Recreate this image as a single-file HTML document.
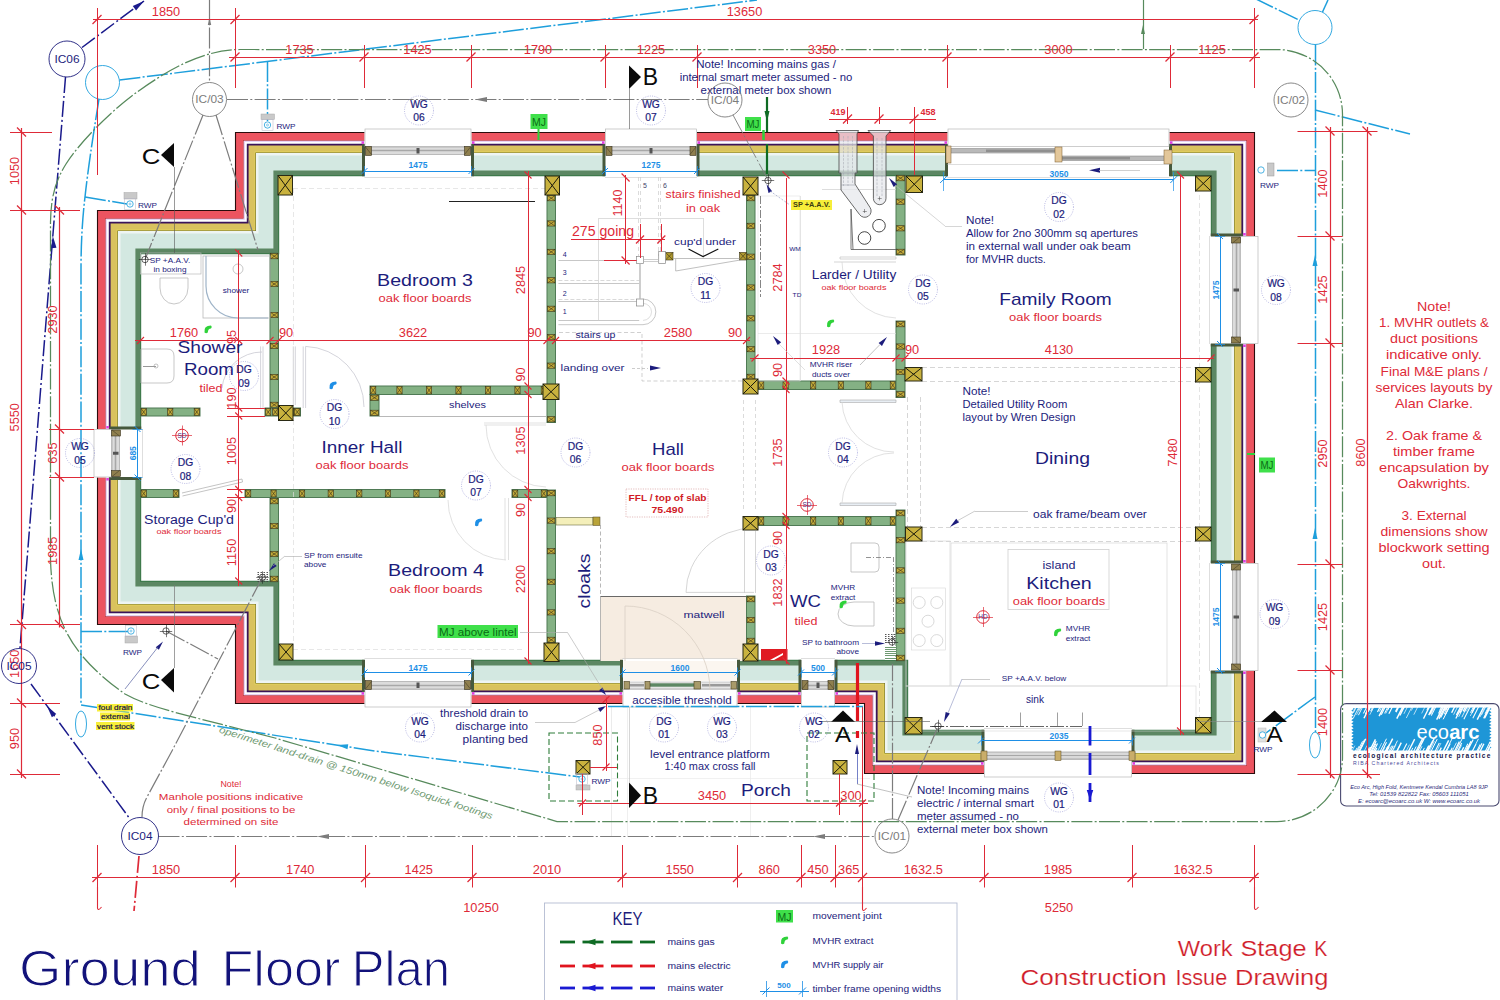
<!DOCTYPE html>
<html><head><meta charset="utf-8"><title>Ground Floor Plan</title>
<style>
html,body{margin:0;padding:0;background:#fff;}
body{width:1500px;height:1000px;overflow:hidden;}
svg{display:block;font-family:"Liberation Sans",sans-serif;}
</style></head><body>
<svg width="1500" height="1000" viewBox="0 0 1500 1000">
<rect width="1500" height="1000" fill="#ffffff"/>
<rect x="544.50" y="903.00" width="412.50" height="100.00" fill="#ffffff" stroke="#b4bcd2" stroke-width="0.90" />
<rect x="1340.6" y="703.6" width="158.4" height="102.4" rx="5.6" fill="#ffffff" stroke="#4a4a70" stroke-width="1.1"/>
<polygon points="1353.00,708.00 1490.00,707.50 1491.50,709.00 1489.20,710.60 1491.50,712.20 1489.20,713.80 1491.50,715.40 1489.20,717.00 1491.50,718.60 1489.20,720.20 1491.50,721.80 1489.20,723.40 1491.50,725.00 1489.20,726.60 1491.50,728.20 1489.20,729.80 1491.50,731.40 1489.20,733.00 1491.50,734.60 1489.20,736.20 1491.50,737.80 1489.20,739.40 1491.50,741.00 1489.20,742.60 1491.50,744.20 1489.20,745.80 1491.50,747.40 1489.20,749.00 1490.00,750.50 1353.00,750.50 1351.30,749.00 1353.60,747.40 1351.30,745.80 1353.60,744.20 1351.30,742.60 1353.60,741.00 1351.30,739.40 1353.60,737.80 1351.30,736.20 1353.60,734.60 1351.30,733.00 1353.60,731.40 1351.30,729.80 1353.60,728.20 1351.30,726.60 1353.60,725.00 1351.30,723.40 1353.60,721.80 1351.30,720.20 1353.60,718.60 1351.30,717.00 1353.60,715.40 1351.30,713.80 1353.60,712.20 1351.30,710.60 1353.60,709.00" fill="#1e96d7" stroke="none" stroke-width="1.00" />
<line x1="1398.54" y1="705.50" x2="1395.54" y2="711.43" stroke="#ffffff" stroke-width="1.19" />
<line x1="1363.34" y1="705.50" x2="1358.44" y2="715.20" stroke="#ffffff" stroke-width="0.93" />
<line x1="1361.32" y1="705.50" x2="1356.56" y2="714.92" stroke="#ffffff" stroke-width="0.63" />
<line x1="1413.91" y1="705.50" x2="1411.31" y2="710.63" stroke="#ffffff" stroke-width="0.68" />
<line x1="1412.63" y1="705.50" x2="1406.29" y2="718.04" stroke="#ffffff" stroke-width="0.71" />
<line x1="1384.45" y1="705.50" x2="1379.10" y2="716.09" stroke="#ffffff" stroke-width="1.45" />
<line x1="1433.99" y1="705.50" x2="1429.78" y2="713.83" stroke="#ffffff" stroke-width="1.48" />
<line x1="1359.72" y1="705.50" x2="1353.22" y2="718.35" stroke="#ffffff" stroke-width="0.86" />
<line x1="1373.40" y1="705.50" x2="1370.56" y2="711.10" stroke="#ffffff" stroke-width="0.88" />
<line x1="1467.46" y1="705.50" x2="1464.31" y2="711.72" stroke="#ffffff" stroke-width="1.12" />
<line x1="1442.65" y1="705.50" x2="1438.55" y2="713.60" stroke="#ffffff" stroke-width="1.09" />
<line x1="1361.99" y1="705.50" x2="1359.45" y2="710.53" stroke="#ffffff" stroke-width="0.79" />
<line x1="1448.46" y1="705.50" x2="1444.09" y2="714.14" stroke="#ffffff" stroke-width="0.88" />
<line x1="1435.18" y1="705.50" x2="1430.69" y2="714.39" stroke="#ffffff" stroke-width="0.87" />
<line x1="1464.41" y1="705.50" x2="1458.70" y2="716.79" stroke="#ffffff" stroke-width="0.82" />
<line x1="1433.62" y1="705.50" x2="1428.77" y2="715.09" stroke="#ffffff" stroke-width="1.39" />
<line x1="1455.32" y1="705.50" x2="1451.65" y2="712.77" stroke="#ffffff" stroke-width="1.48" />
<line x1="1369.73" y1="705.50" x2="1365.41" y2="714.04" stroke="#ffffff" stroke-width="1.28" />
<line x1="1374.48" y1="705.50" x2="1369.81" y2="714.74" stroke="#ffffff" stroke-width="0.64" />
<line x1="1446.75" y1="705.50" x2="1440.72" y2="717.44" stroke="#ffffff" stroke-width="1.12" />
<line x1="1475.77" y1="705.50" x2="1471.96" y2="713.02" stroke="#ffffff" stroke-width="1.23" />
<line x1="1436.41" y1="705.50" x2="1431.29" y2="715.63" stroke="#ffffff" stroke-width="1.01" />
<line x1="1470.80" y1="705.50" x2="1463.87" y2="719.20" stroke="#ffffff" stroke-width="1.03" />
<line x1="1446.18" y1="705.50" x2="1443.63" y2="710.54" stroke="#ffffff" stroke-width="1.23" />
<line x1="1443.80" y1="705.50" x2="1436.63" y2="719.67" stroke="#ffffff" stroke-width="1.34" />
<line x1="1393.04" y1="705.50" x2="1388.88" y2="713.73" stroke="#ffffff" stroke-width="1.20" />
<line x1="1356.36" y1="705.50" x2="1351.82" y2="714.47" stroke="#ffffff" stroke-width="0.75" />
<line x1="1369.59" y1="705.50" x2="1367.05" y2="710.53" stroke="#ffffff" stroke-width="1.29" />
<line x1="1371.31" y1="705.50" x2="1367.83" y2="712.37" stroke="#ffffff" stroke-width="0.95" />
<line x1="1475.20" y1="705.50" x2="1472.55" y2="710.74" stroke="#ffffff" stroke-width="1.00" />
<line x1="1430.12" y1="705.50" x2="1423.50" y2="718.60" stroke="#ffffff" stroke-width="1.34" />
<line x1="1474.16" y1="705.50" x2="1470.53" y2="712.68" stroke="#ffffff" stroke-width="0.97" />
<line x1="1403.43" y1="705.50" x2="1396.80" y2="718.61" stroke="#ffffff" stroke-width="1.46" />
<line x1="1374.33" y1="705.50" x2="1371.21" y2="711.68" stroke="#ffffff" stroke-width="0.81" />
<line x1="1385.87" y1="705.50" x2="1381.22" y2="714.70" stroke="#ffffff" stroke-width="1.13" />
<line x1="1389.98" y1="705.50" x2="1387.71" y2="709.99" stroke="#ffffff" stroke-width="0.98" />
<line x1="1404.90" y1="705.50" x2="1399.84" y2="715.49" stroke="#ffffff" stroke-width="1.46" />
<line x1="1449.87" y1="705.50" x2="1445.07" y2="715.00" stroke="#ffffff" stroke-width="1.16" />
<line x1="1447.87" y1="705.50" x2="1445.35" y2="710.48" stroke="#ffffff" stroke-width="1.41" />
<line x1="1462.40" y1="705.50" x2="1455.82" y2="718.51" stroke="#ffffff" stroke-width="1.32" />
<line x1="1408.13" y1="705.50" x2="1403.91" y2="713.86" stroke="#ffffff" stroke-width="0.69" />
<line x1="1442.00" y1="705.50" x2="1439.44" y2="710.56" stroke="#ffffff" stroke-width="0.66" />
<line x1="1382.43" y1="705.50" x2="1379.37" y2="711.54" stroke="#ffffff" stroke-width="0.91" />
<line x1="1360.56" y1="705.50" x2="1358.31" y2="709.95" stroke="#ffffff" stroke-width="0.74" />
<line x1="1367.41" y1="705.50" x2="1363.36" y2="713.51" stroke="#ffffff" stroke-width="0.62" />
<line x1="1475.61" y1="705.50" x2="1470.32" y2="715.96" stroke="#ffffff" stroke-width="0.73" />
<line x1="1388.52" y1="705.50" x2="1384.55" y2="713.35" stroke="#ffffff" stroke-width="0.93" />
<line x1="1370.40" y1="705.50" x2="1363.95" y2="718.26" stroke="#ffffff" stroke-width="1.49" />
<line x1="1418.44" y1="705.50" x2="1413.79" y2="714.69" stroke="#ffffff" stroke-width="0.68" />
<line x1="1367.51" y1="705.50" x2="1363.56" y2="713.30" stroke="#ffffff" stroke-width="0.84" />
<line x1="1469.24" y1="705.50" x2="1466.19" y2="711.53" stroke="#ffffff" stroke-width="0.62" />
<line x1="1486.34" y1="705.50" x2="1481.47" y2="715.12" stroke="#ffffff" stroke-width="0.73" />
<line x1="1429.24" y1="705.50" x2="1426.86" y2="710.21" stroke="#ffffff" stroke-width="1.08" />
<line x1="1490.19" y1="705.50" x2="1483.67" y2="718.40" stroke="#ffffff" stroke-width="1.23" />
<line x1="1389.76" y1="705.50" x2="1385.69" y2="713.54" stroke="#ffffff" stroke-width="0.75" />
<line x1="1461.27" y1="705.50" x2="1456.38" y2="715.16" stroke="#ffffff" stroke-width="1.30" />
<line x1="1399.35" y1="705.50" x2="1396.00" y2="712.13" stroke="#ffffff" stroke-width="1.33" />
<line x1="1491.09" y1="705.50" x2="1484.62" y2="718.30" stroke="#ffffff" stroke-width="1.33" />
<line x1="1467.77" y1="705.50" x2="1461.85" y2="717.19" stroke="#ffffff" stroke-width="0.80" />
<line x1="1425.67" y1="705.50" x2="1421.66" y2="713.43" stroke="#ffffff" stroke-width="0.63" />
<line x1="1357.11" y1="705.50" x2="1353.48" y2="712.69" stroke="#ffffff" stroke-width="0.83" />
<line x1="1450.15" y1="705.50" x2="1443.17" y2="719.31" stroke="#ffffff" stroke-width="1.00" />
<line x1="1484.38" y1="705.50" x2="1477.24" y2="719.62" stroke="#ffffff" stroke-width="1.46" />
<line x1="1404.25" y1="705.50" x2="1400.91" y2="712.11" stroke="#ffffff" stroke-width="0.80" />
<line x1="1380.74" y1="705.50" x2="1377.48" y2="711.95" stroke="#ffffff" stroke-width="1.16" />
<line x1="1479.24" y1="705.50" x2="1472.83" y2="718.18" stroke="#ffffff" stroke-width="1.03" />
<line x1="1444.62" y1="705.50" x2="1438.41" y2="717.78" stroke="#ffffff" stroke-width="0.68" />
<line x1="1445.68" y1="705.50" x2="1438.93" y2="718.86" stroke="#ffffff" stroke-width="1.30" />
<line x1="1458.22" y1="705.50" x2="1453.60" y2="714.63" stroke="#ffffff" stroke-width="0.76" />
<line x1="1463.68" y1="705.50" x2="1459.78" y2="713.21" stroke="#ffffff" stroke-width="1.32" />
<line x1="1489.23" y1="705.50" x2="1485.02" y2="713.83" stroke="#ffffff" stroke-width="0.96" />
<line x1="1485.75" y1="705.50" x2="1479.91" y2="717.05" stroke="#ffffff" stroke-width="0.75" />
<line x1="1370.99" y1="705.50" x2="1367.99" y2="711.43" stroke="#ffffff" stroke-width="1.41" />
<line x1="1466.11" y1="705.50" x2="1463.14" y2="711.38" stroke="#ffffff" stroke-width="1.34" />
<line x1="1490.44" y1="705.50" x2="1484.94" y2="716.38" stroke="#ffffff" stroke-width="0.92" />
<line x1="1425.61" y1="752.50" x2="1428.51" y2="746.77" stroke="#ffffff" stroke-width="0.61" />
<line x1="1484.72" y1="752.50" x2="1490.19" y2="741.69" stroke="#ffffff" stroke-width="1.07" />
<line x1="1479.51" y1="752.50" x2="1483.90" y2="743.80" stroke="#ffffff" stroke-width="1.38" />
<line x1="1464.46" y1="752.50" x2="1467.76" y2="745.98" stroke="#ffffff" stroke-width="0.83" />
<line x1="1389.82" y1="752.50" x2="1393.26" y2="745.70" stroke="#ffffff" stroke-width="1.13" />
<line x1="1385.11" y1="752.50" x2="1389.44" y2="743.95" stroke="#ffffff" stroke-width="0.72" />
<line x1="1476.20" y1="752.50" x2="1480.20" y2="744.59" stroke="#ffffff" stroke-width="1.01" />
<line x1="1430.47" y1="752.50" x2="1437.20" y2="739.20" stroke="#ffffff" stroke-width="0.98" />
<line x1="1477.28" y1="752.50" x2="1482.01" y2="743.14" stroke="#ffffff" stroke-width="1.08" />
<line x1="1422.09" y1="752.50" x2="1424.43" y2="747.87" stroke="#ffffff" stroke-width="1.00" />
<line x1="1374.44" y1="752.50" x2="1376.70" y2="748.01" stroke="#ffffff" stroke-width="1.32" />
<line x1="1372.93" y1="752.50" x2="1377.52" y2="743.41" stroke="#ffffff" stroke-width="1.25" />
<line x1="1426.71" y1="752.50" x2="1430.57" y2="744.86" stroke="#ffffff" stroke-width="1.07" />
<line x1="1426.56" y1="752.50" x2="1432.69" y2="740.37" stroke="#ffffff" stroke-width="0.70" />
<line x1="1427.24" y1="752.50" x2="1430.72" y2="745.62" stroke="#ffffff" stroke-width="0.85" />
<line x1="1456.92" y1="752.50" x2="1461.68" y2="743.08" stroke="#ffffff" stroke-width="1.11" />
<line x1="1455.20" y1="752.50" x2="1461.97" y2="739.12" stroke="#ffffff" stroke-width="1.00" />
<line x1="1434.55" y1="752.50" x2="1439.31" y2="743.10" stroke="#ffffff" stroke-width="1.06" />
<line x1="1445.78" y1="752.50" x2="1450.27" y2="743.62" stroke="#ffffff" stroke-width="1.08" />
<line x1="1415.73" y1="752.50" x2="1422.64" y2="738.83" stroke="#ffffff" stroke-width="1.23" />
<line x1="1471.51" y1="752.50" x2="1478.43" y2="738.83" stroke="#ffffff" stroke-width="0.83" />
<line x1="1427.13" y1="752.50" x2="1434.05" y2="738.82" stroke="#ffffff" stroke-width="1.36" />
<line x1="1368.00" y1="752.50" x2="1370.85" y2="746.86" stroke="#ffffff" stroke-width="1.00" />
<line x1="1358.96" y1="752.50" x2="1362.40" y2="745.69" stroke="#ffffff" stroke-width="0.67" />
<line x1="1442.53" y1="752.50" x2="1448.66" y2="740.38" stroke="#ffffff" stroke-width="1.41" />
<line x1="1370.42" y1="752.50" x2="1376.22" y2="741.04" stroke="#ffffff" stroke-width="1.19" />
<line x1="1368.82" y1="752.50" x2="1375.44" y2="739.41" stroke="#ffffff" stroke-width="1.47" />
<line x1="1379.54" y1="752.50" x2="1386.51" y2="738.72" stroke="#ffffff" stroke-width="0.96" />
<line x1="1417.02" y1="752.50" x2="1424.17" y2="738.36" stroke="#ffffff" stroke-width="1.35" />
<line x1="1371.41" y1="752.50" x2="1375.79" y2="743.83" stroke="#ffffff" stroke-width="1.06" />
<line x1="1396.28" y1="752.50" x2="1399.50" y2="746.13" stroke="#ffffff" stroke-width="0.89" />
<line x1="1449.90" y1="752.50" x2="1452.25" y2="747.86" stroke="#ffffff" stroke-width="1.10" />
<line x1="1410.46" y1="752.50" x2="1412.80" y2="747.87" stroke="#ffffff" stroke-width="0.90" />
<line x1="1436.15" y1="752.50" x2="1440.94" y2="743.03" stroke="#ffffff" stroke-width="0.66" />
<line x1="1486.71" y1="752.50" x2="1492.86" y2="740.33" stroke="#ffffff" stroke-width="1.47" />
<line x1="1363.47" y1="752.50" x2="1367.03" y2="745.45" stroke="#ffffff" stroke-width="0.64" />
<line x1="1457.86" y1="752.50" x2="1461.45" y2="745.40" stroke="#ffffff" stroke-width="0.72" />
<line x1="1407.92" y1="752.50" x2="1414.68" y2="739.13" stroke="#ffffff" stroke-width="1.34" />
<line x1="1385.01" y1="752.50" x2="1387.99" y2="746.59" stroke="#ffffff" stroke-width="1.43" />
<line x1="1428.68" y1="752.50" x2="1434.40" y2="741.19" stroke="#ffffff" stroke-width="0.68" />
<line x1="1356.85" y1="752.50" x2="1362.51" y2="741.31" stroke="#ffffff" stroke-width="0.98" />
<line x1="1358.94" y1="752.50" x2="1365.83" y2="738.86" stroke="#ffffff" stroke-width="1.17" />
<line x1="1461.03" y1="752.50" x2="1463.69" y2="747.23" stroke="#ffffff" stroke-width="1.37" />
<line x1="1358.13" y1="752.50" x2="1364.65" y2="739.60" stroke="#ffffff" stroke-width="1.01" />
<line x1="1396.28" y1="752.50" x2="1401.27" y2="742.64" stroke="#ffffff" stroke-width="1.43" />
<line x1="1386.30" y1="752.50" x2="1389.19" y2="746.78" stroke="#ffffff" stroke-width="1.07" />
<line x1="1382.18" y1="752.50" x2="1384.97" y2="746.98" stroke="#ffffff" stroke-width="0.75" />
<line x1="1355.85" y1="752.50" x2="1359.10" y2="746.07" stroke="#ffffff" stroke-width="0.88" />
<line x1="1391.50" y1="752.50" x2="1397.51" y2="740.61" stroke="#ffffff" stroke-width="0.86" />
<line x1="1418.81" y1="752.50" x2="1421.94" y2="746.31" stroke="#ffffff" stroke-width="0.91" />
<line x1="1351.34" y1="752.50" x2="1354.83" y2="745.60" stroke="#ffffff" stroke-width="0.61" />
<line x1="1451.43" y1="752.50" x2="1456.41" y2="742.66" stroke="#ffffff" stroke-width="0.77" />
<line x1="1415.27" y1="752.50" x2="1422.14" y2="738.90" stroke="#ffffff" stroke-width="0.70" />
<line x1="1463.45" y1="752.50" x2="1467.84" y2="743.82" stroke="#ffffff" stroke-width="1.05" />
<line x1="1465.65" y1="752.50" x2="1469.84" y2="744.20" stroke="#ffffff" stroke-width="1.06" />
<line x1="1445.08" y1="752.50" x2="1452.20" y2="738.43" stroke="#ffffff" stroke-width="0.91" />
<line x1="1465.32" y1="752.50" x2="1471.07" y2="741.13" stroke="#ffffff" stroke-width="1.17" />
<line x1="1405.46" y1="752.50" x2="1409.43" y2="744.65" stroke="#ffffff" stroke-width="0.65" />
<line x1="1366.97" y1="752.50" x2="1369.57" y2="747.36" stroke="#ffffff" stroke-width="1.27" />
<line x1="1384.58" y1="752.50" x2="1387.64" y2="746.45" stroke="#ffffff" stroke-width="0.68" />
<line x1="1466.58" y1="752.50" x2="1473.14" y2="739.53" stroke="#ffffff" stroke-width="1.20" />
<line x1="1388.27" y1="752.50" x2="1391.72" y2="745.68" stroke="#ffffff" stroke-width="0.86" />
<line x1="1413.12" y1="752.50" x2="1416.15" y2="746.51" stroke="#ffffff" stroke-width="1.00" />
<line x1="1385.65" y1="752.50" x2="1392.66" y2="738.63" stroke="#ffffff" stroke-width="1.48" />
<line x1="1425.39" y1="752.50" x2="1428.85" y2="745.66" stroke="#ffffff" stroke-width="1.47" />
<line x1="1392.14" y1="752.50" x2="1396.15" y2="744.56" stroke="#ffffff" stroke-width="0.60" />
<line x1="1402.23" y1="752.50" x2="1406.83" y2="743.40" stroke="#ffffff" stroke-width="1.05" />
<line x1="1376.94" y1="752.50" x2="1381.69" y2="743.11" stroke="#ffffff" stroke-width="0.60" />
<line x1="1385.78" y1="752.50" x2="1388.48" y2="747.17" stroke="#ffffff" stroke-width="0.96" />
<line x1="1354.63" y1="752.50" x2="1356.99" y2="747.83" stroke="#ffffff" stroke-width="0.87" />
<line x1="1381.39" y1="752.50" x2="1386.54" y2="742.32" stroke="#ffffff" stroke-width="1.08" />
<line x1="1453.88" y1="752.50" x2="1459.38" y2="741.61" stroke="#ffffff" stroke-width="1.24" />
<line x1="1471.87" y1="752.50" x2="1476.05" y2="744.24" stroke="#ffffff" stroke-width="0.89" />
<line x1="1486.66" y1="752.50" x2="1489.65" y2="746.59" stroke="#ffffff" stroke-width="1.25" />
<line x1="1438.85" y1="752.50" x2="1441.32" y2="747.62" stroke="#ffffff" stroke-width="1.35" />
<text transform="translate(1479.30 731.50) scale(0.980 1)" y="7.38" font-size="20.50" fill="#ffffff" text-anchor="end" font-weight="bold" >arc</text>
<text transform="translate(1448.84 731.50) scale(0.980 1)" y="7.38" font-size="20.50" fill="#ffffff" text-anchor="end" >eco</text>
<text transform="translate(1353.00 755.70)" y="2.38" font-size="6.60" fill="#15154a" text-anchor="start" font-weight="bold" letter-spacing="1.24">ecological architecture practice</text>
<text transform="translate(1353.00 763.30)" y="1.87" font-size="5.20" fill="#4a4a9a" text-anchor="start" letter-spacing="1.07">RIBA Chartered Architects</text>
<text transform="translate(1419.00 786.50) scale(0.931 1)" y="2.16" font-size="6.00" fill="#2a2a7a" text-anchor="middle" font-style="italic" >Eco Arc, High Fold, Kentmere Kendal Cumbria LA8 9JP</text>
<text transform="translate(1419.00 793.70) scale(0.979 1)" y="2.16" font-size="6.00" fill="#2a2a7a" text-anchor="middle" font-style="italic" >Tel: 01539 822822  Fax: 05603 111051</text>
<text transform="translate(1419.00 801.00) scale(0.981 1)" y="2.16" font-size="6.00" fill="#2a2a7a" text-anchor="middle" font-style="italic" >E: ecoarc@ecoarc.co.uk  W: www.ecoarc.co.uk</text>
<polygon points="235.50,132.50 1254.50,132.50 1254.50,773.50 864.50,773.50 864.50,703.50 235.50,703.50 235.50,624.50 97.50,624.50 97.50,210.50 235.50,210.50" fill="#ec5460" stroke="#2a0c0c" stroke-width="1.10" />
<polygon points="243.00,140.00 1247.00,140.00 1247.00,766.00 872.00,766.00 872.00,696.00 243.00,696.00 243.00,617.00 105.00,617.00 105.00,218.00 243.00,218.00" fill="#b8323e" stroke="none" stroke-width="1.00" />
<polygon points="243.70,140.70 1246.30,140.70 1246.30,765.30 872.70,765.30 872.70,695.30 243.70,695.30 243.70,616.30 105.70,616.30 105.70,218.70 243.70,218.70" fill="#ffffff" stroke="none" stroke-width="1.00" />
<polygon points="244.40,141.40 1245.60,141.40 1245.60,764.60 873.40,764.60 873.40,694.60 244.40,694.60 244.40,615.60 106.40,615.60 106.40,219.40 244.40,219.40" fill="none" stroke="#d9b8ee" stroke-width="0.70" />
<polygon points="246.80,143.80 1243.20,143.80 1243.20,762.20 875.80,762.20 875.80,692.20 246.80,692.20 246.80,613.20 108.80,613.20 108.80,221.80 246.80,221.80" fill="#3a145a" stroke="none" stroke-width="1.00" />
<polygon points="248.60,145.60 1241.40,145.60 1241.40,760.40 877.60,760.40 877.60,690.40 248.60,690.40 248.60,611.40 110.60,611.40 110.60,223.60 248.60,223.60" fill="#d9c25e" stroke="none" stroke-width="1.00" />
<polygon points="254.60,151.60 1235.40,151.60 1235.40,754.40 883.60,754.40 883.60,684.40 254.60,684.40 254.60,605.40 116.60,605.40 116.60,229.60 254.60,229.60" fill="#e6d65a" stroke="none" stroke-width="1.00" />
<polygon points="255.40,152.40 1234.60,152.40 1234.60,753.60 884.40,753.60 884.40,683.60 255.40,683.60 255.40,604.60 117.40,604.60 117.40,230.40 255.40,230.40" fill="#6e6a2c" stroke="none" stroke-width="1.00" />
<polygon points="256.00,153.00 1234.00,153.00 1234.00,753.00 885.00,753.00 885.00,683.00 256.00,683.00 256.00,604.00 118.00,604.00 118.00,231.00 256.00,231.00" fill="#eef5f3" stroke="none" stroke-width="1.00" />
<polygon points="258.50,155.50 1231.50,155.50 1231.50,750.50 887.50,750.50 887.50,680.50 258.50,680.50 258.50,601.50 120.50,601.50 120.50,233.50 258.50,233.50" fill="#d3e8e1" stroke="none" stroke-width="1.00" />
<polygon points="273.40,170.40 1216.60,170.40 1216.60,735.60 902.40,735.60 902.40,665.60 273.40,665.60 273.40,586.60 135.40,586.60 135.40,248.40 273.40,248.40" fill="#5c8763" stroke="none" stroke-width="1.00" />
<polygon points="278.00,175.00 1212.00,175.00 1212.00,731.00 907.00,731.00 907.00,661.00 278.00,661.00 278.00,582.00 140.00,582.00 140.00,253.00 278.00,253.00" fill="#3f7a4c" stroke="none" stroke-width="1.00" />
<polygon points="279.20,176.20 1210.80,176.20 1210.80,729.80 908.20,729.80 908.20,659.80 279.20,659.80 279.20,580.80 141.20,580.80 141.20,254.20 279.20,254.20" fill="#ffffff" stroke="none" stroke-width="1.00" />
<rect x="600.40" y="596.40" width="145.60" height="64.60" fill="#f6ece1" stroke="none" stroke-width="0.60" />
<line x1="600.40" y1="596.50" x2="746.00" y2="596.50" stroke="#444" stroke-width="0.80" />
<line x1="600.50" y1="596.40" x2="600.50" y2="661.00" stroke="#999" stroke-width="0.70" />
<rect x="364.50" y="129.00" width="107.00" height="48.20" fill="#ffffff" stroke="none" stroke-width="0.60" />
<rect x="362.00" y="144.00" width="3.00" height="32.20" fill="#46583c" stroke="none" stroke-width="0.60" />
<rect x="361.50" y="141.30" width="2.50" height="2.60" fill="#e040e0" stroke="none" stroke-width="0.60" />
<rect x="471.00" y="144.00" width="3.00" height="32.20" fill="#46583c" stroke="none" stroke-width="0.60" />
<rect x="472.00" y="141.30" width="2.50" height="2.60" fill="#e040e0" stroke="none" stroke-width="0.60" />
<rect x="365.00" y="129.00" width="106.00" height="17.50" fill="#ffffff" stroke="#b8b8b8" stroke-width="0.70" />
<rect x="365.50" y="147.00" width="105.00" height="7.50" fill="#dcdcdc" stroke="#9a9a9a" stroke-width="0.60" />
<line x1="371.50" y1="150.50" x2="464.50" y2="150.50" stroke="#a8a8a8" stroke-width="1.60" />
<rect x="416.50" y="148.00" width="3.00" height="5.50" fill="#555" stroke="none" stroke-width="0.60" />
<rect x="365.50" y="146.50" width="6.00" height="9.00" fill="#8f7f4e" stroke="#3a3420" stroke-width="0.60" />
<line x1="365.50" y1="147.00" x2="371.50" y2="154.50" stroke="#3a3420" stroke-width="0.50" />
<rect x="464.50" y="146.50" width="6.00" height="9.00" fill="#8f7f4e" stroke="#3a3420" stroke-width="0.60" />
<line x1="470.50" y1="147.00" x2="464.50" y2="154.50" stroke="#3a3420" stroke-width="0.50" />
<line x1="364.50" y1="177.50" x2="471.50" y2="177.50" stroke="#c8c8c8" stroke-width="0.60" />
<line x1="364.50" y1="171.50" x2="471.50" y2="171.50" stroke="#1e8fe6" stroke-width="1.00" />
<line x1="361.50" y1="174.00" x2="367.50" y2="168.00" stroke="#1e8fe6" stroke-width="1.00" />
<line x1="364.50" y1="166.00" x2="364.50" y2="176.00" stroke="#1e8fe6" stroke-width="0.70" />
<line x1="468.50" y1="174.00" x2="474.50" y2="168.00" stroke="#1e8fe6" stroke-width="1.00" />
<line x1="471.50" y1="166.00" x2="471.50" y2="176.00" stroke="#1e8fe6" stroke-width="0.70" />
<text transform="translate(418.00 164.50)" y="3.06" font-size="8.50" fill="#1e8fe6" text-anchor="middle" font-weight="bold" >1475</text>
<rect x="605.00" y="129.00" width="92.00" height="48.20" fill="#ffffff" stroke="none" stroke-width="0.60" />
<rect x="602.50" y="144.00" width="3.00" height="32.20" fill="#46583c" stroke="none" stroke-width="0.60" />
<rect x="602.00" y="141.30" width="2.50" height="2.60" fill="#e040e0" stroke="none" stroke-width="0.60" />
<rect x="696.50" y="144.00" width="3.00" height="32.20" fill="#46583c" stroke="none" stroke-width="0.60" />
<rect x="697.50" y="141.30" width="2.50" height="2.60" fill="#e040e0" stroke="none" stroke-width="0.60" />
<rect x="605.50" y="129.00" width="91.00" height="17.50" fill="#ffffff" stroke="#b8b8b8" stroke-width="0.70" />
<rect x="606.00" y="147.00" width="90.00" height="7.50" fill="#dcdcdc" stroke="#9a9a9a" stroke-width="0.60" />
<line x1="612.00" y1="150.50" x2="690.00" y2="150.50" stroke="#a8a8a8" stroke-width="1.60" />
<rect x="649.50" y="148.00" width="3.00" height="5.50" fill="#555" stroke="none" stroke-width="0.60" />
<rect x="606.00" y="146.50" width="6.00" height="9.00" fill="#8f7f4e" stroke="#3a3420" stroke-width="0.60" />
<line x1="606.00" y1="147.00" x2="612.00" y2="154.50" stroke="#3a3420" stroke-width="0.50" />
<rect x="690.00" y="146.50" width="6.00" height="9.00" fill="#8f7f4e" stroke="#3a3420" stroke-width="0.60" />
<line x1="696.00" y1="147.00" x2="690.00" y2="154.50" stroke="#3a3420" stroke-width="0.50" />
<line x1="605.00" y1="177.50" x2="697.00" y2="177.50" stroke="#c8c8c8" stroke-width="0.60" />
<line x1="605.00" y1="171.50" x2="697.00" y2="171.50" stroke="#1e8fe6" stroke-width="1.00" />
<line x1="602.00" y1="174.00" x2="608.00" y2="168.00" stroke="#1e8fe6" stroke-width="1.00" />
<line x1="605.50" y1="166.00" x2="605.50" y2="176.00" stroke="#1e8fe6" stroke-width="0.70" />
<line x1="694.00" y1="174.00" x2="700.00" y2="168.00" stroke="#1e8fe6" stroke-width="1.00" />
<line x1="697.50" y1="166.00" x2="697.50" y2="176.00" stroke="#1e8fe6" stroke-width="0.70" />
<text transform="translate(651.00 164.50)" y="3.06" font-size="8.50" fill="#1e8fe6" text-anchor="middle" font-weight="bold" >1275</text>
<rect x="947.50" y="129.00" width="222.00" height="48.20" fill="#ffffff" stroke="none" stroke-width="0.60" />
<rect x="945.00" y="144.00" width="3.00" height="32.20" fill="#46583c" stroke="none" stroke-width="0.60" />
<rect x="944.50" y="141.30" width="2.50" height="2.60" fill="#e040e0" stroke="none" stroke-width="0.60" />
<rect x="1169.00" y="144.00" width="3.00" height="32.20" fill="#46583c" stroke="none" stroke-width="0.60" />
<rect x="1170.00" y="141.30" width="2.50" height="2.60" fill="#e040e0" stroke="none" stroke-width="0.60" />
<rect x="948.00" y="129.00" width="221.00" height="17.50" fill="#ffffff" stroke="#b8b8b8" stroke-width="0.70" />
<line x1="947.50" y1="177.50" x2="1169.50" y2="177.50" stroke="#c8c8c8" stroke-width="0.60" />
<rect x="364.50" y="658.80" width="107.00" height="48.20" fill="#ffffff" stroke="none" stroke-width="0.60" />
<rect x="362.00" y="659.80" width="3.00" height="32.20" fill="#46583c" stroke="none" stroke-width="0.60" />
<rect x="361.50" y="692.10" width="2.50" height="2.60" fill="#e040e0" stroke="none" stroke-width="0.60" />
<rect x="471.00" y="659.80" width="3.00" height="32.20" fill="#46583c" stroke="none" stroke-width="0.60" />
<rect x="472.00" y="692.10" width="2.50" height="2.60" fill="#e040e0" stroke="none" stroke-width="0.60" />
<rect x="365.00" y="689.50" width="106.00" height="17.50" fill="#ffffff" stroke="#b8b8b8" stroke-width="0.70" />
<rect x="365.50" y="681.50" width="105.00" height="7.50" fill="#dcdcdc" stroke="#9a9a9a" stroke-width="0.60" />
<line x1="371.50" y1="685.50" x2="464.50" y2="685.50" stroke="#a8a8a8" stroke-width="1.60" />
<rect x="416.50" y="682.50" width="3.00" height="5.50" fill="#555" stroke="none" stroke-width="0.60" />
<rect x="365.50" y="680.50" width="6.00" height="9.00" fill="#8f7f4e" stroke="#3a3420" stroke-width="0.60" />
<line x1="365.50" y1="689.00" x2="371.50" y2="681.50" stroke="#3a3420" stroke-width="0.50" />
<rect x="464.50" y="680.50" width="6.00" height="9.00" fill="#8f7f4e" stroke="#3a3420" stroke-width="0.60" />
<line x1="470.50" y1="689.00" x2="464.50" y2="681.50" stroke="#3a3420" stroke-width="0.50" />
<line x1="364.50" y1="658.50" x2="471.50" y2="658.50" stroke="#c8c8c8" stroke-width="0.60" />
<line x1="364.50" y1="672.50" x2="471.50" y2="672.50" stroke="#1e8fe6" stroke-width="1.00" />
<line x1="361.50" y1="675.50" x2="367.50" y2="669.50" stroke="#1e8fe6" stroke-width="1.00" />
<line x1="364.50" y1="667.50" x2="364.50" y2="677.50" stroke="#1e8fe6" stroke-width="0.70" />
<line x1="468.50" y1="675.50" x2="474.50" y2="669.50" stroke="#1e8fe6" stroke-width="1.00" />
<line x1="471.50" y1="667.50" x2="471.50" y2="677.50" stroke="#1e8fe6" stroke-width="0.70" />
<text transform="translate(418.00 668.00)" y="3.06" font-size="8.50" fill="#1e8fe6" text-anchor="middle" font-weight="bold" >1475</text>
<rect x="622.50" y="658.80" width="115.00" height="48.20" fill="#ffffff" stroke="none" stroke-width="0.60" />
<rect x="620.00" y="659.80" width="3.00" height="32.20" fill="#46583c" stroke="none" stroke-width="0.60" />
<rect x="619.50" y="692.10" width="2.50" height="2.60" fill="#e040e0" stroke="none" stroke-width="0.60" />
<rect x="737.00" y="659.80" width="3.00" height="32.20" fill="#46583c" stroke="none" stroke-width="0.60" />
<rect x="738.00" y="692.10" width="2.50" height="2.60" fill="#e040e0" stroke="none" stroke-width="0.60" />
<rect x="623.00" y="689.50" width="114.00" height="17.50" fill="#ffffff" stroke="#b8b8b8" stroke-width="0.70" />
<line x1="622.50" y1="658.50" x2="737.50" y2="658.50" stroke="#c8c8c8" stroke-width="0.60" />
<rect x="801.00" y="658.80" width="34.00" height="48.20" fill="#ffffff" stroke="none" stroke-width="0.60" />
<rect x="798.50" y="659.80" width="3.00" height="32.20" fill="#46583c" stroke="none" stroke-width="0.60" />
<rect x="798.00" y="692.10" width="2.50" height="2.60" fill="#e040e0" stroke="none" stroke-width="0.60" />
<rect x="834.50" y="659.80" width="3.00" height="32.20" fill="#46583c" stroke="none" stroke-width="0.60" />
<rect x="835.50" y="692.10" width="2.50" height="2.60" fill="#e040e0" stroke="none" stroke-width="0.60" />
<rect x="801.50" y="689.50" width="33.00" height="17.50" fill="#ffffff" stroke="#b8b8b8" stroke-width="0.70" />
<rect x="802.00" y="681.50" width="32.00" height="7.50" fill="#dcdcdc" stroke="#9a9a9a" stroke-width="0.60" />
<line x1="808.00" y1="685.50" x2="828.00" y2="685.50" stroke="#a8a8a8" stroke-width="1.60" />
<rect x="816.50" y="682.50" width="3.00" height="5.50" fill="#555" stroke="none" stroke-width="0.60" />
<rect x="802.00" y="680.50" width="6.00" height="9.00" fill="#8f7f4e" stroke="#3a3420" stroke-width="0.60" />
<line x1="802.00" y1="689.00" x2="808.00" y2="681.50" stroke="#3a3420" stroke-width="0.50" />
<rect x="828.00" y="680.50" width="6.00" height="9.00" fill="#8f7f4e" stroke="#3a3420" stroke-width="0.60" />
<line x1="834.00" y1="689.00" x2="828.00" y2="681.50" stroke="#3a3420" stroke-width="0.50" />
<line x1="801.00" y1="658.50" x2="835.00" y2="658.50" stroke="#c8c8c8" stroke-width="0.60" />
<line x1="801.00" y1="672.50" x2="835.00" y2="672.50" stroke="#1e8fe6" stroke-width="1.00" />
<line x1="798.00" y1="675.50" x2="804.00" y2="669.50" stroke="#1e8fe6" stroke-width="1.00" />
<line x1="801.50" y1="667.50" x2="801.50" y2="677.50" stroke="#1e8fe6" stroke-width="0.70" />
<line x1="832.00" y1="675.50" x2="838.00" y2="669.50" stroke="#1e8fe6" stroke-width="1.00" />
<line x1="835.50" y1="667.50" x2="835.50" y2="677.50" stroke="#1e8fe6" stroke-width="0.70" />
<text transform="translate(818.00 668.00)" y="3.06" font-size="8.50" fill="#1e8fe6" text-anchor="middle" font-weight="bold" >500</text>
<rect x="984.00" y="728.80" width="148.00" height="48.20" fill="#ffffff" stroke="none" stroke-width="0.60" />
<rect x="981.50" y="729.80" width="3.00" height="32.20" fill="#46583c" stroke="none" stroke-width="0.60" />
<rect x="981.00" y="762.10" width="2.50" height="2.60" fill="#e040e0" stroke="none" stroke-width="0.60" />
<rect x="1131.50" y="729.80" width="3.00" height="32.20" fill="#46583c" stroke="none" stroke-width="0.60" />
<rect x="1132.50" y="762.10" width="2.50" height="2.60" fill="#e040e0" stroke="none" stroke-width="0.60" />
<rect x="984.50" y="759.50" width="147.00" height="17.50" fill="#ffffff" stroke="#b8b8b8" stroke-width="0.70" />
<line x1="984.00" y1="728.50" x2="1132.00" y2="728.50" stroke="#c8c8c8" stroke-width="0.60" />
<rect x="1209.80" y="236.00" width="48.20" height="108.00" fill="#ffffff" stroke="none" stroke-width="0.60" />
<rect x="1210.80" y="233.50" width="32.20" height="3.00" fill="#46583c" stroke="none" stroke-width="0.60" />
<rect x="1243.10" y="233.00" width="2.60" height="2.50" fill="#e040e0" stroke="none" stroke-width="0.60" />
<rect x="1210.80" y="343.50" width="32.20" height="3.00" fill="#46583c" stroke="none" stroke-width="0.60" />
<rect x="1243.10" y="344.50" width="2.60" height="2.50" fill="#e040e0" stroke="none" stroke-width="0.60" />
<rect x="1240.50" y="236.50" width="17.50" height="107.00" fill="#ffffff" stroke="#b8b8b8" stroke-width="0.70" />
<rect x="1232.50" y="237.00" width="7.50" height="106.00" fill="#dcdcdc" stroke="#9a9a9a" stroke-width="0.60" />
<line x1="1236.50" y1="243.00" x2="1236.50" y2="337.00" stroke="#a8a8a8" stroke-width="1.60" />
<rect x="1233.50" y="288.50" width="5.50" height="3.00" fill="#555" stroke="none" stroke-width="0.60" />
<rect x="1231.50" y="237.00" width="9.00" height="6.00" fill="#8f7f4e" stroke="#3a3420" stroke-width="0.60" />
<line x1="1240.00" y1="237.00" x2="1232.50" y2="243.00" stroke="#3a3420" stroke-width="0.50" />
<rect x="1231.50" y="337.00" width="9.00" height="6.00" fill="#8f7f4e" stroke="#3a3420" stroke-width="0.60" />
<line x1="1240.00" y1="343.00" x2="1232.50" y2="337.00" stroke="#3a3420" stroke-width="0.50" />
<line x1="1209.50" y1="236.00" x2="1209.50" y2="344.00" stroke="#c8c8c8" stroke-width="0.60" />
<line x1="1220.50" y1="236.00" x2="1220.50" y2="344.00" stroke="#1e8fe6" stroke-width="1.00" />
<line x1="1217.00" y1="233.00" x2="1223.00" y2="239.00" stroke="#1e8fe6" stroke-width="1.00" />
<line x1="1215.00" y1="236.50" x2="1225.00" y2="236.50" stroke="#1e8fe6" stroke-width="0.70" />
<line x1="1217.00" y1="341.00" x2="1223.00" y2="347.00" stroke="#1e8fe6" stroke-width="1.00" />
<line x1="1215.00" y1="344.50" x2="1225.00" y2="344.50" stroke="#1e8fe6" stroke-width="0.70" />
<text transform="translate(1215.50 290.00) rotate(-90.00)" y="3.06" font-size="8.50" fill="#1e8fe6" text-anchor="middle" font-weight="bold" >1475</text>
<rect x="1209.80" y="563.00" width="48.20" height="108.00" fill="#ffffff" stroke="none" stroke-width="0.60" />
<rect x="1210.80" y="560.50" width="32.20" height="3.00" fill="#46583c" stroke="none" stroke-width="0.60" />
<rect x="1243.10" y="560.00" width="2.60" height="2.50" fill="#e040e0" stroke="none" stroke-width="0.60" />
<rect x="1210.80" y="670.50" width="32.20" height="3.00" fill="#46583c" stroke="none" stroke-width="0.60" />
<rect x="1243.10" y="671.50" width="2.60" height="2.50" fill="#e040e0" stroke="none" stroke-width="0.60" />
<rect x="1240.50" y="563.50" width="17.50" height="107.00" fill="#ffffff" stroke="#b8b8b8" stroke-width="0.70" />
<rect x="1232.50" y="564.00" width="7.50" height="106.00" fill="#dcdcdc" stroke="#9a9a9a" stroke-width="0.60" />
<line x1="1236.50" y1="570.00" x2="1236.50" y2="664.00" stroke="#a8a8a8" stroke-width="1.60" />
<rect x="1233.50" y="615.50" width="5.50" height="3.00" fill="#555" stroke="none" stroke-width="0.60" />
<rect x="1231.50" y="564.00" width="9.00" height="6.00" fill="#8f7f4e" stroke="#3a3420" stroke-width="0.60" />
<line x1="1240.00" y1="564.00" x2="1232.50" y2="570.00" stroke="#3a3420" stroke-width="0.50" />
<rect x="1231.50" y="664.00" width="9.00" height="6.00" fill="#8f7f4e" stroke="#3a3420" stroke-width="0.60" />
<line x1="1240.00" y1="670.00" x2="1232.50" y2="664.00" stroke="#3a3420" stroke-width="0.50" />
<line x1="1209.50" y1="563.00" x2="1209.50" y2="671.00" stroke="#c8c8c8" stroke-width="0.60" />
<line x1="1220.50" y1="563.00" x2="1220.50" y2="671.00" stroke="#1e8fe6" stroke-width="1.00" />
<line x1="1217.00" y1="560.00" x2="1223.00" y2="566.00" stroke="#1e8fe6" stroke-width="1.00" />
<line x1="1215.00" y1="563.50" x2="1225.00" y2="563.50" stroke="#1e8fe6" stroke-width="0.70" />
<line x1="1217.00" y1="668.00" x2="1223.00" y2="674.00" stroke="#1e8fe6" stroke-width="1.00" />
<line x1="1215.00" y1="671.50" x2="1225.00" y2="671.50" stroke="#1e8fe6" stroke-width="0.70" />
<text transform="translate(1215.50 617.00) rotate(-90.00)" y="3.06" font-size="8.50" fill="#1e8fe6" text-anchor="middle" font-weight="bold" >1475</text>
<rect x="94.00" y="429.00" width="48.20" height="48.50" fill="#ffffff" stroke="none" stroke-width="0.60" />
<rect x="109.00" y="426.50" width="32.20" height="3.00" fill="#46583c" stroke="none" stroke-width="0.60" />
<rect x="106.30" y="426.00" width="2.60" height="2.50" fill="#e040e0" stroke="none" stroke-width="0.60" />
<rect x="109.00" y="477.00" width="32.20" height="3.00" fill="#46583c" stroke="none" stroke-width="0.60" />
<rect x="106.30" y="478.00" width="2.60" height="2.50" fill="#e040e0" stroke="none" stroke-width="0.60" />
<rect x="94.00" y="429.50" width="17.50" height="47.50" fill="#ffffff" stroke="#b8b8b8" stroke-width="0.70" />
<rect x="112.00" y="430.00" width="7.50" height="46.50" fill="#dcdcdc" stroke="#9a9a9a" stroke-width="0.60" />
<line x1="115.50" y1="436.00" x2="115.50" y2="470.50" stroke="#a8a8a8" stroke-width="1.60" />
<rect x="113.00" y="451.75" width="5.50" height="3.00" fill="#555" stroke="none" stroke-width="0.60" />
<rect x="111.50" y="430.00" width="9.00" height="6.00" fill="#8f7f4e" stroke="#3a3420" stroke-width="0.60" />
<line x1="112.00" y1="430.00" x2="119.50" y2="436.00" stroke="#3a3420" stroke-width="0.50" />
<rect x="111.50" y="470.50" width="9.00" height="6.00" fill="#8f7f4e" stroke="#3a3420" stroke-width="0.60" />
<line x1="112.00" y1="476.50" x2="119.50" y2="470.50" stroke="#3a3420" stroke-width="0.50" />
<line x1="142.50" y1="429.00" x2="142.50" y2="477.50" stroke="#c8c8c8" stroke-width="0.60" />
<line x1="137.50" y1="429.00" x2="137.50" y2="477.50" stroke="#1e8fe6" stroke-width="1.00" />
<line x1="134.50" y1="426.00" x2="140.50" y2="432.00" stroke="#1e8fe6" stroke-width="1.00" />
<line x1="132.50" y1="429.50" x2="142.50" y2="429.50" stroke="#1e8fe6" stroke-width="0.70" />
<line x1="134.50" y1="474.50" x2="140.50" y2="480.50" stroke="#1e8fe6" stroke-width="1.00" />
<line x1="132.50" y1="477.50" x2="142.50" y2="477.50" stroke="#1e8fe6" stroke-width="0.70" />
<text transform="translate(132.50 453.25) rotate(-90.00)" y="3.06" font-size="8.50" fill="#1e8fe6" text-anchor="middle" font-weight="bold" >685</text>
<rect x="950.00" y="148.50" width="106.00" height="4.50" fill="#b9b9b9" stroke="#7d7d7d" stroke-width="0.50" />
<rect x="986.00" y="149.50" width="70.00" height="2.50" fill="#8f8f8f" stroke="none" stroke-width="0.60" />
<rect x="1062.00" y="156.00" width="105.00" height="4.50" fill="#b9b9b9" stroke="#7d7d7d" stroke-width="0.50" />
<rect x="1062.00" y="157.00" width="68.00" height="2.50" fill="#8f8f8f" stroke="none" stroke-width="0.60" />
<rect x="1055.00" y="147.00" width="7.00" height="15.00" fill="#e3c79a" stroke="#7a5a2a" stroke-width="0.50" />
<rect x="946.00" y="146.00" width="5.00" height="17.00" fill="#e3c79a" stroke="#7a5a2a" stroke-width="0.50" />
<rect x="1164.00" y="150.00" width="8.00" height="14.00" fill="#e3c79a" stroke="#7a5a2a" stroke-width="0.50" />
<line x1="947.50" y1="164.50" x2="1169.50" y2="164.50" stroke="#c8c8c8" stroke-width="0.60" />
<line x1="943.60" y1="179.50" x2="1173.80" y2="179.50" stroke="#1e8fe6" stroke-width="1.20" />
<line x1="940.10" y1="183.00" x2="947.10" y2="176.00" stroke="#1e8fe6" stroke-width="1.00" />
<line x1="943.50" y1="172.00" x2="943.50" y2="191.00" stroke="#1e8fe6" stroke-width="0.70" />
<line x1="1170.30" y1="183.00" x2="1177.30" y2="176.00" stroke="#1e8fe6" stroke-width="1.00" />
<line x1="1173.50" y1="172.00" x2="1173.50" y2="191.00" stroke="#1e8fe6" stroke-width="0.70" />
<text transform="translate(1059.00 174.00)" y="3.06" font-size="8.50" fill="#1e8fe6" text-anchor="middle" font-weight="bold" >3050</text>
<rect x="981.00" y="752.00" width="154.00" height="7.00" fill="#d9d9d9" stroke="#8c8c8c" stroke-width="0.60" />
<line x1="981.00" y1="755.50" x2="1135.00" y2="755.50" stroke="#9a9a9a" stroke-width="0.80" />
<rect x="981.00" y="751.00" width="6.00" height="9.50" fill="#c9ad6a" stroke="#5a4a20" stroke-width="0.50" />
<rect x="1055.00" y="751.00" width="6.00" height="9.50" fill="#c9ad6a" stroke="#5a4a20" stroke-width="0.50" />
<rect x="1129.00" y="751.00" width="6.00" height="9.50" fill="#c9ad6a" stroke="#5a4a20" stroke-width="0.50" />
<line x1="981.00" y1="740.50" x2="1132.00" y2="740.50" stroke="#1e8fe6" stroke-width="1.00" />
<line x1="978.00" y1="743.50" x2="984.00" y2="737.50" stroke="#1e8fe6" stroke-width="1.00" />
<line x1="981.50" y1="735.50" x2="981.50" y2="745.50" stroke="#1e8fe6" stroke-width="0.70" />
<line x1="1129.00" y1="743.50" x2="1135.00" y2="737.50" stroke="#1e8fe6" stroke-width="1.00" />
<line x1="1132.50" y1="735.50" x2="1132.50" y2="745.50" stroke="#1e8fe6" stroke-width="0.70" />
<text transform="translate(1059.00 735.50)" y="3.06" font-size="8.50" fill="#1e8fe6" text-anchor="middle" font-weight="bold" >2035</text>
<rect x="623.50" y="661.00" width="113.00" height="20.00" fill="#fbf6f0" stroke="none" stroke-width="0.60" />
<rect x="625.00" y="682.00" width="112.00" height="6.50" fill="#e6e6e6" stroke="#aaa" stroke-width="0.50" />
<rect x="650.00" y="683.30" width="44.00" height="3.40" fill="#5c8763" stroke="none" stroke-width="0.60" />
<rect x="624.00" y="681.50" width="5.50" height="7.50" fill="#a89a6a" stroke="#4a4020" stroke-width="0.60" />
<rect x="645.00" y="681.50" width="5.00" height="7.50" fill="#a89a6a" stroke="#4a4020" stroke-width="0.60" />
<rect x="694.00" y="681.50" width="6.50" height="7.50" fill="#a89a6a" stroke="#4a4020" stroke-width="0.60" />
<rect x="731.00" y="681.50" width="5.50" height="7.50" fill="#a89a6a" stroke="#4a4020" stroke-width="0.60" />
<rect x="630.00" y="684.00" width="14.00" height="2.50" fill="#9a9a9a" stroke="none" stroke-width="0.60" />
<rect x="702.00" y="684.00" width="28.00" height="2.50" fill="#9a9a9a" stroke="none" stroke-width="0.60" />
<line x1="622.50" y1="672.50" x2="737.50" y2="672.50" stroke="#1e8fe6" stroke-width="1.00" />
<line x1="619.50" y1="675.50" x2="625.50" y2="669.50" stroke="#1e8fe6" stroke-width="1.00" />
<line x1="622.50" y1="667.50" x2="622.50" y2="677.50" stroke="#1e8fe6" stroke-width="0.70" />
<line x1="734.50" y1="675.50" x2="740.50" y2="669.50" stroke="#1e8fe6" stroke-width="1.00" />
<line x1="737.50" y1="667.50" x2="737.50" y2="677.50" stroke="#1e8fe6" stroke-width="0.70" />
<text transform="translate(680.00 668.00)" y="3.06" font-size="8.50" fill="#1e8fe6" text-anchor="middle" font-weight="bold" >1600</text>
<rect x="270.00" y="253.00" width="8.50" height="155.00" fill="#84b184" stroke="#4f7a55" stroke-width="1.00" />
<rect x="270.60" y="253.60" width="7.30" height="5.20" fill="#c2ab3a" stroke="#3a3218" stroke-width="0.60" />
<line x1="270.60" y1="253.60" x2="277.90" y2="258.80" stroke="#3a3218" stroke-width="0.60" />
<line x1="270.60" y1="258.80" x2="277.90" y2="253.60" stroke="#3a3218" stroke-width="0.60" />
<rect x="270.60" y="281.40" width="7.30" height="5.20" fill="#c2ab3a" stroke="#3a3218" stroke-width="0.60" />
<line x1="270.60" y1="281.40" x2="277.90" y2="286.60" stroke="#3a3218" stroke-width="0.60" />
<line x1="270.60" y1="286.60" x2="277.90" y2="281.40" stroke="#3a3218" stroke-width="0.60" />
<rect x="270.60" y="312.40" width="7.30" height="5.20" fill="#c2ab3a" stroke="#3a3218" stroke-width="0.60" />
<line x1="270.60" y1="312.40" x2="277.90" y2="317.60" stroke="#3a3218" stroke-width="0.60" />
<line x1="270.60" y1="317.60" x2="277.90" y2="312.40" stroke="#3a3218" stroke-width="0.60" />
<rect x="270.60" y="343.40" width="7.30" height="5.20" fill="#c2ab3a" stroke="#3a3218" stroke-width="0.60" />
<line x1="270.60" y1="343.40" x2="277.90" y2="348.60" stroke="#3a3218" stroke-width="0.60" />
<line x1="270.60" y1="348.60" x2="277.90" y2="343.40" stroke="#3a3218" stroke-width="0.60" />
<rect x="270.60" y="374.40" width="7.30" height="5.20" fill="#c2ab3a" stroke="#3a3218" stroke-width="0.60" />
<line x1="270.60" y1="374.40" x2="277.90" y2="379.60" stroke="#3a3218" stroke-width="0.60" />
<line x1="270.60" y1="379.60" x2="277.90" y2="374.40" stroke="#3a3218" stroke-width="0.60" />
<rect x="270.60" y="402.20" width="7.30" height="5.20" fill="#c2ab3a" stroke="#3a3218" stroke-width="0.60" />
<line x1="270.60" y1="402.20" x2="277.90" y2="407.40" stroke="#3a3218" stroke-width="0.60" />
<line x1="270.60" y1="407.40" x2="277.90" y2="402.20" stroke="#3a3218" stroke-width="0.60" />
<rect x="270.00" y="498.00" width="8.50" height="84.00" fill="#84b184" stroke="#4f7a55" stroke-width="1.00" />
<rect x="270.60" y="498.60" width="7.30" height="5.20" fill="#c2ab3a" stroke="#3a3218" stroke-width="0.60" />
<line x1="270.60" y1="498.60" x2="277.90" y2="503.80" stroke="#3a3218" stroke-width="0.60" />
<line x1="270.60" y1="503.80" x2="277.90" y2="498.60" stroke="#3a3218" stroke-width="0.60" />
<rect x="270.60" y="523.40" width="7.30" height="5.20" fill="#c2ab3a" stroke="#3a3218" stroke-width="0.60" />
<line x1="270.60" y1="523.40" x2="277.90" y2="528.60" stroke="#3a3218" stroke-width="0.60" />
<line x1="270.60" y1="528.60" x2="277.90" y2="523.40" stroke="#3a3218" stroke-width="0.60" />
<rect x="270.60" y="551.40" width="7.30" height="5.20" fill="#c2ab3a" stroke="#3a3218" stroke-width="0.60" />
<line x1="270.60" y1="551.40" x2="277.90" y2="556.60" stroke="#3a3218" stroke-width="0.60" />
<line x1="270.60" y1="556.60" x2="277.90" y2="551.40" stroke="#3a3218" stroke-width="0.60" />
<rect x="270.60" y="576.20" width="7.30" height="5.20" fill="#c2ab3a" stroke="#3a3218" stroke-width="0.60" />
<line x1="270.60" y1="576.20" x2="277.90" y2="581.40" stroke="#3a3218" stroke-width="0.60" />
<line x1="270.60" y1="581.40" x2="277.90" y2="576.20" stroke="#3a3218" stroke-width="0.60" />
<rect x="140.50" y="408.00" width="59.50" height="8.00" fill="#84b184" stroke="#4f7a55" stroke-width="1.00" />
<rect x="141.10" y="408.60" width="5.20" height="6.80" fill="#c2ab3a" stroke="#3a3218" stroke-width="0.60" />
<line x1="141.10" y1="408.60" x2="146.30" y2="415.40" stroke="#3a3218" stroke-width="0.60" />
<line x1="141.10" y1="415.40" x2="146.30" y2="408.60" stroke="#3a3218" stroke-width="0.60" />
<rect x="167.65" y="408.60" width="5.20" height="6.80" fill="#c2ab3a" stroke="#3a3218" stroke-width="0.60" />
<line x1="167.65" y1="408.60" x2="172.85" y2="415.40" stroke="#3a3218" stroke-width="0.60" />
<line x1="167.65" y1="415.40" x2="172.85" y2="408.60" stroke="#3a3218" stroke-width="0.60" />
<rect x="194.20" y="408.60" width="5.20" height="6.80" fill="#c2ab3a" stroke="#3a3218" stroke-width="0.60" />
<line x1="194.20" y1="408.60" x2="199.40" y2="415.40" stroke="#3a3218" stroke-width="0.60" />
<line x1="194.20" y1="415.40" x2="199.40" y2="408.60" stroke="#3a3218" stroke-width="0.60" />
<rect x="265.00" y="408.00" width="13.50" height="8.00" fill="#84b184" stroke="#4f7a55" stroke-width="1.00" />
<rect x="265.60" y="408.60" width="5.20" height="6.80" fill="#c2ab3a" stroke="#3a3218" stroke-width="0.60" />
<line x1="265.60" y1="408.60" x2="270.80" y2="415.40" stroke="#3a3218" stroke-width="0.60" />
<line x1="265.60" y1="415.40" x2="270.80" y2="408.60" stroke="#3a3218" stroke-width="0.60" />
<rect x="272.70" y="408.60" width="5.20" height="6.80" fill="#c2ab3a" stroke="#3a3218" stroke-width="0.60" />
<line x1="272.70" y1="408.60" x2="277.90" y2="415.40" stroke="#3a3218" stroke-width="0.60" />
<line x1="272.70" y1="415.40" x2="277.90" y2="408.60" stroke="#3a3218" stroke-width="0.60" />
<rect x="293.00" y="408.00" width="7.50" height="8.00" fill="#84b184" stroke="#4f7a55" stroke-width="1.00" />
<rect x="293.60" y="408.60" width="5.20" height="6.80" fill="#c2ab3a" stroke="#3a3218" stroke-width="0.60" />
<line x1="293.60" y1="408.60" x2="298.80" y2="415.40" stroke="#3a3218" stroke-width="0.60" />
<line x1="293.60" y1="415.40" x2="298.80" y2="408.60" stroke="#3a3218" stroke-width="0.60" />
<rect x="294.70" y="408.60" width="5.20" height="6.80" fill="#c2ab3a" stroke="#3a3218" stroke-width="0.60" />
<line x1="294.70" y1="408.60" x2="299.90" y2="415.40" stroke="#3a3218" stroke-width="0.60" />
<line x1="294.70" y1="415.40" x2="299.90" y2="408.60" stroke="#3a3218" stroke-width="0.60" />
<rect x="140.50" y="489.50" width="38.50" height="8.00" fill="#84b184" stroke="#4f7a55" stroke-width="1.00" />
<rect x="141.10" y="490.10" width="5.20" height="6.80" fill="#c2ab3a" stroke="#3a3218" stroke-width="0.60" />
<line x1="141.10" y1="490.10" x2="146.30" y2="496.90" stroke="#3a3218" stroke-width="0.60" />
<line x1="141.10" y1="496.90" x2="146.30" y2="490.10" stroke="#3a3218" stroke-width="0.60" />
<rect x="173.20" y="490.10" width="5.20" height="6.80" fill="#c2ab3a" stroke="#3a3218" stroke-width="0.60" />
<line x1="173.20" y1="490.10" x2="178.40" y2="496.90" stroke="#3a3218" stroke-width="0.60" />
<line x1="173.20" y1="496.90" x2="178.40" y2="490.10" stroke="#3a3218" stroke-width="0.60" />
<rect x="245.00" y="489.50" width="200.00" height="8.00" fill="#84b184" stroke="#4f7a55" stroke-width="1.00" />
<rect x="245.60" y="490.10" width="5.20" height="6.80" fill="#c2ab3a" stroke="#3a3218" stroke-width="0.60" />
<line x1="245.60" y1="490.10" x2="250.80" y2="496.90" stroke="#3a3218" stroke-width="0.60" />
<line x1="245.60" y1="496.90" x2="250.80" y2="490.10" stroke="#3a3218" stroke-width="0.60" />
<rect x="270.97" y="490.10" width="5.20" height="6.80" fill="#c2ab3a" stroke="#3a3218" stroke-width="0.60" />
<line x1="270.97" y1="490.10" x2="276.17" y2="496.90" stroke="#3a3218" stroke-width="0.60" />
<line x1="270.97" y1="496.90" x2="276.17" y2="490.10" stroke="#3a3218" stroke-width="0.60" />
<rect x="299.54" y="490.10" width="5.20" height="6.80" fill="#c2ab3a" stroke="#3a3218" stroke-width="0.60" />
<line x1="299.54" y1="490.10" x2="304.74" y2="496.90" stroke="#3a3218" stroke-width="0.60" />
<line x1="299.54" y1="496.90" x2="304.74" y2="490.10" stroke="#3a3218" stroke-width="0.60" />
<rect x="328.11" y="490.10" width="5.20" height="6.80" fill="#c2ab3a" stroke="#3a3218" stroke-width="0.60" />
<line x1="328.11" y1="490.10" x2="333.31" y2="496.90" stroke="#3a3218" stroke-width="0.60" />
<line x1="328.11" y1="496.90" x2="333.31" y2="490.10" stroke="#3a3218" stroke-width="0.60" />
<rect x="356.69" y="490.10" width="5.20" height="6.80" fill="#c2ab3a" stroke="#3a3218" stroke-width="0.60" />
<line x1="356.69" y1="490.10" x2="361.89" y2="496.90" stroke="#3a3218" stroke-width="0.60" />
<line x1="356.69" y1="496.90" x2="361.89" y2="490.10" stroke="#3a3218" stroke-width="0.60" />
<rect x="385.26" y="490.10" width="5.20" height="6.80" fill="#c2ab3a" stroke="#3a3218" stroke-width="0.60" />
<line x1="385.26" y1="490.10" x2="390.46" y2="496.90" stroke="#3a3218" stroke-width="0.60" />
<line x1="385.26" y1="496.90" x2="390.46" y2="490.10" stroke="#3a3218" stroke-width="0.60" />
<rect x="413.83" y="490.10" width="5.20" height="6.80" fill="#c2ab3a" stroke="#3a3218" stroke-width="0.60" />
<line x1="413.83" y1="490.10" x2="419.03" y2="496.90" stroke="#3a3218" stroke-width="0.60" />
<line x1="413.83" y1="496.90" x2="419.03" y2="490.10" stroke="#3a3218" stroke-width="0.60" />
<rect x="439.20" y="490.10" width="5.20" height="6.80" fill="#c2ab3a" stroke="#3a3218" stroke-width="0.60" />
<line x1="439.20" y1="490.10" x2="444.40" y2="496.90" stroke="#3a3218" stroke-width="0.60" />
<line x1="439.20" y1="496.90" x2="444.40" y2="490.10" stroke="#3a3218" stroke-width="0.60" />
<rect x="512.00" y="489.50" width="35.00" height="8.00" fill="#84b184" stroke="#4f7a55" stroke-width="1.00" />
<rect x="512.60" y="490.10" width="5.20" height="6.80" fill="#c2ab3a" stroke="#3a3218" stroke-width="0.60" />
<line x1="512.60" y1="490.10" x2="517.80" y2="496.90" stroke="#3a3218" stroke-width="0.60" />
<line x1="512.60" y1="496.90" x2="517.80" y2="490.10" stroke="#3a3218" stroke-width="0.60" />
<rect x="541.20" y="490.10" width="5.20" height="6.80" fill="#c2ab3a" stroke="#3a3218" stroke-width="0.60" />
<line x1="541.20" y1="490.10" x2="546.40" y2="496.90" stroke="#3a3218" stroke-width="0.60" />
<line x1="541.20" y1="496.90" x2="546.40" y2="490.10" stroke="#3a3218" stroke-width="0.60" />
<rect x="370.00" y="386.00" width="177.00" height="8.50" fill="#84b184" stroke="#4f7a55" stroke-width="1.00" />
<rect x="370.60" y="386.60" width="5.20" height="7.30" fill="#c2ab3a" stroke="#3a3218" stroke-width="0.60" />
<line x1="370.60" y1="386.60" x2="375.80" y2="393.90" stroke="#3a3218" stroke-width="0.60" />
<line x1="370.60" y1="393.90" x2="375.80" y2="386.60" stroke="#3a3218" stroke-width="0.60" />
<rect x="396.90" y="386.60" width="5.20" height="7.30" fill="#c2ab3a" stroke="#3a3218" stroke-width="0.60" />
<line x1="396.90" y1="386.60" x2="402.10" y2="393.90" stroke="#3a3218" stroke-width="0.60" />
<line x1="396.90" y1="393.90" x2="402.10" y2="386.60" stroke="#3a3218" stroke-width="0.60" />
<rect x="426.40" y="386.60" width="5.20" height="7.30" fill="#c2ab3a" stroke="#3a3218" stroke-width="0.60" />
<line x1="426.40" y1="386.60" x2="431.60" y2="393.90" stroke="#3a3218" stroke-width="0.60" />
<line x1="426.40" y1="393.90" x2="431.60" y2="386.60" stroke="#3a3218" stroke-width="0.60" />
<rect x="455.90" y="386.60" width="5.20" height="7.30" fill="#c2ab3a" stroke="#3a3218" stroke-width="0.60" />
<line x1="455.90" y1="386.60" x2="461.10" y2="393.90" stroke="#3a3218" stroke-width="0.60" />
<line x1="455.90" y1="393.90" x2="461.10" y2="386.60" stroke="#3a3218" stroke-width="0.60" />
<rect x="485.40" y="386.60" width="5.20" height="7.30" fill="#c2ab3a" stroke="#3a3218" stroke-width="0.60" />
<line x1="485.40" y1="386.60" x2="490.60" y2="393.90" stroke="#3a3218" stroke-width="0.60" />
<line x1="485.40" y1="393.90" x2="490.60" y2="386.60" stroke="#3a3218" stroke-width="0.60" />
<rect x="514.90" y="386.60" width="5.20" height="7.30" fill="#c2ab3a" stroke="#3a3218" stroke-width="0.60" />
<line x1="514.90" y1="386.60" x2="520.10" y2="393.90" stroke="#3a3218" stroke-width="0.60" />
<line x1="514.90" y1="393.90" x2="520.10" y2="386.60" stroke="#3a3218" stroke-width="0.60" />
<rect x="541.20" y="386.60" width="5.20" height="7.30" fill="#c2ab3a" stroke="#3a3218" stroke-width="0.60" />
<line x1="541.20" y1="386.60" x2="546.40" y2="393.90" stroke="#3a3218" stroke-width="0.60" />
<line x1="541.20" y1="393.90" x2="546.40" y2="386.60" stroke="#3a3218" stroke-width="0.60" />
<rect x="370.00" y="394.50" width="9.00" height="21.50" fill="#84b184" stroke="#4f7a55" stroke-width="1.00" />
<rect x="370.60" y="395.10" width="7.80" height="5.20" fill="#c2ab3a" stroke="#3a3218" stroke-width="0.60" />
<line x1="370.60" y1="395.10" x2="378.40" y2="400.30" stroke="#3a3218" stroke-width="0.60" />
<line x1="370.60" y1="400.30" x2="378.40" y2="395.10" stroke="#3a3218" stroke-width="0.60" />
<rect x="370.60" y="410.20" width="7.80" height="5.20" fill="#c2ab3a" stroke="#3a3218" stroke-width="0.60" />
<line x1="370.60" y1="410.20" x2="378.40" y2="415.40" stroke="#3a3218" stroke-width="0.60" />
<line x1="370.60" y1="415.40" x2="378.40" y2="410.20" stroke="#3a3218" stroke-width="0.60" />
<rect x="547.00" y="195.00" width="8.50" height="227.50" fill="#84b184" stroke="#4f7a55" stroke-width="1.00" />
<rect x="547.60" y="195.60" width="7.30" height="5.20" fill="#c2ab3a" stroke="#3a3218" stroke-width="0.60" />
<line x1="547.60" y1="195.60" x2="554.90" y2="200.80" stroke="#3a3218" stroke-width="0.60" />
<line x1="547.60" y1="200.80" x2="554.90" y2="195.60" stroke="#3a3218" stroke-width="0.60" />
<rect x="547.60" y="220.84" width="7.30" height="5.20" fill="#c2ab3a" stroke="#3a3218" stroke-width="0.60" />
<line x1="547.60" y1="220.84" x2="554.90" y2="226.04" stroke="#3a3218" stroke-width="0.60" />
<line x1="547.60" y1="226.04" x2="554.90" y2="220.84" stroke="#3a3218" stroke-width="0.60" />
<rect x="547.60" y="249.28" width="7.30" height="5.20" fill="#c2ab3a" stroke="#3a3218" stroke-width="0.60" />
<line x1="547.60" y1="249.28" x2="554.90" y2="254.47" stroke="#3a3218" stroke-width="0.60" />
<line x1="547.60" y1="254.47" x2="554.90" y2="249.28" stroke="#3a3218" stroke-width="0.60" />
<rect x="547.60" y="277.71" width="7.30" height="5.20" fill="#c2ab3a" stroke="#3a3218" stroke-width="0.60" />
<line x1="547.60" y1="277.71" x2="554.90" y2="282.91" stroke="#3a3218" stroke-width="0.60" />
<line x1="547.60" y1="282.91" x2="554.90" y2="277.71" stroke="#3a3218" stroke-width="0.60" />
<rect x="547.60" y="306.15" width="7.30" height="5.20" fill="#c2ab3a" stroke="#3a3218" stroke-width="0.60" />
<line x1="547.60" y1="306.15" x2="554.90" y2="311.35" stroke="#3a3218" stroke-width="0.60" />
<line x1="547.60" y1="311.35" x2="554.90" y2="306.15" stroke="#3a3218" stroke-width="0.60" />
<rect x="547.60" y="334.59" width="7.30" height="5.20" fill="#c2ab3a" stroke="#3a3218" stroke-width="0.60" />
<line x1="547.60" y1="334.59" x2="554.90" y2="339.79" stroke="#3a3218" stroke-width="0.60" />
<line x1="547.60" y1="339.79" x2="554.90" y2="334.59" stroke="#3a3218" stroke-width="0.60" />
<rect x="547.60" y="363.02" width="7.30" height="5.20" fill="#c2ab3a" stroke="#3a3218" stroke-width="0.60" />
<line x1="547.60" y1="363.02" x2="554.90" y2="368.23" stroke="#3a3218" stroke-width="0.60" />
<line x1="547.60" y1="368.23" x2="554.90" y2="363.02" stroke="#3a3218" stroke-width="0.60" />
<rect x="547.60" y="391.46" width="7.30" height="5.20" fill="#c2ab3a" stroke="#3a3218" stroke-width="0.60" />
<line x1="547.60" y1="391.46" x2="554.90" y2="396.66" stroke="#3a3218" stroke-width="0.60" />
<line x1="547.60" y1="396.66" x2="554.90" y2="391.46" stroke="#3a3218" stroke-width="0.60" />
<rect x="547.60" y="416.70" width="7.30" height="5.20" fill="#c2ab3a" stroke="#3a3218" stroke-width="0.60" />
<line x1="547.60" y1="416.70" x2="554.90" y2="421.90" stroke="#3a3218" stroke-width="0.60" />
<line x1="547.60" y1="421.90" x2="554.90" y2="416.70" stroke="#3a3218" stroke-width="0.60" />
<rect x="547.00" y="490.00" width="8.50" height="153.00" fill="#84b184" stroke="#4f7a55" stroke-width="1.00" />
<rect x="547.60" y="490.60" width="7.30" height="5.20" fill="#c2ab3a" stroke="#3a3218" stroke-width="0.60" />
<line x1="547.60" y1="490.60" x2="554.90" y2="495.80" stroke="#3a3218" stroke-width="0.60" />
<line x1="547.60" y1="495.80" x2="554.90" y2="490.60" stroke="#3a3218" stroke-width="0.60" />
<rect x="547.60" y="518.00" width="7.30" height="5.20" fill="#c2ab3a" stroke="#3a3218" stroke-width="0.60" />
<line x1="547.60" y1="518.00" x2="554.90" y2="523.20" stroke="#3a3218" stroke-width="0.60" />
<line x1="547.60" y1="523.20" x2="554.90" y2="518.00" stroke="#3a3218" stroke-width="0.60" />
<rect x="547.60" y="548.60" width="7.30" height="5.20" fill="#c2ab3a" stroke="#3a3218" stroke-width="0.60" />
<line x1="547.60" y1="548.60" x2="554.90" y2="553.80" stroke="#3a3218" stroke-width="0.60" />
<line x1="547.60" y1="553.80" x2="554.90" y2="548.60" stroke="#3a3218" stroke-width="0.60" />
<rect x="547.60" y="579.20" width="7.30" height="5.20" fill="#c2ab3a" stroke="#3a3218" stroke-width="0.60" />
<line x1="547.60" y1="579.20" x2="554.90" y2="584.40" stroke="#3a3218" stroke-width="0.60" />
<line x1="547.60" y1="584.40" x2="554.90" y2="579.20" stroke="#3a3218" stroke-width="0.60" />
<rect x="547.60" y="609.80" width="7.30" height="5.20" fill="#c2ab3a" stroke="#3a3218" stroke-width="0.60" />
<line x1="547.60" y1="609.80" x2="554.90" y2="615.00" stroke="#3a3218" stroke-width="0.60" />
<line x1="547.60" y1="615.00" x2="554.90" y2="609.80" stroke="#3a3218" stroke-width="0.60" />
<rect x="547.60" y="637.20" width="7.30" height="5.20" fill="#c2ab3a" stroke="#3a3218" stroke-width="0.60" />
<line x1="547.60" y1="637.20" x2="554.90" y2="642.40" stroke="#3a3218" stroke-width="0.60" />
<line x1="547.60" y1="642.40" x2="554.90" y2="637.20" stroke="#3a3218" stroke-width="0.60" />
<rect x="746.50" y="195.00" width="8.50" height="185.00" fill="#84b184" stroke="#4f7a55" stroke-width="1.00" />
<rect x="747.10" y="195.60" width="7.30" height="5.20" fill="#c2ab3a" stroke="#3a3218" stroke-width="0.60" />
<line x1="747.10" y1="195.60" x2="754.40" y2="200.80" stroke="#3a3218" stroke-width="0.60" />
<line x1="747.10" y1="200.80" x2="754.40" y2="195.60" stroke="#3a3218" stroke-width="0.60" />
<rect x="747.10" y="223.23" width="7.30" height="5.20" fill="#c2ab3a" stroke="#3a3218" stroke-width="0.60" />
<line x1="747.10" y1="223.23" x2="754.40" y2="228.43" stroke="#3a3218" stroke-width="0.60" />
<line x1="747.10" y1="228.43" x2="754.40" y2="223.23" stroke="#3a3218" stroke-width="0.60" />
<rect x="747.10" y="254.07" width="7.30" height="5.20" fill="#c2ab3a" stroke="#3a3218" stroke-width="0.60" />
<line x1="747.10" y1="254.07" x2="754.40" y2="259.27" stroke="#3a3218" stroke-width="0.60" />
<line x1="747.10" y1="259.27" x2="754.40" y2="254.07" stroke="#3a3218" stroke-width="0.60" />
<rect x="747.10" y="284.90" width="7.30" height="5.20" fill="#c2ab3a" stroke="#3a3218" stroke-width="0.60" />
<line x1="747.10" y1="284.90" x2="754.40" y2="290.10" stroke="#3a3218" stroke-width="0.60" />
<line x1="747.10" y1="290.10" x2="754.40" y2="284.90" stroke="#3a3218" stroke-width="0.60" />
<rect x="747.10" y="315.73" width="7.30" height="5.20" fill="#c2ab3a" stroke="#3a3218" stroke-width="0.60" />
<line x1="747.10" y1="315.73" x2="754.40" y2="320.93" stroke="#3a3218" stroke-width="0.60" />
<line x1="747.10" y1="320.93" x2="754.40" y2="315.73" stroke="#3a3218" stroke-width="0.60" />
<rect x="747.10" y="346.57" width="7.30" height="5.20" fill="#c2ab3a" stroke="#3a3218" stroke-width="0.60" />
<line x1="747.10" y1="346.57" x2="754.40" y2="351.77" stroke="#3a3218" stroke-width="0.60" />
<line x1="747.10" y1="351.77" x2="754.40" y2="346.57" stroke="#3a3218" stroke-width="0.60" />
<rect x="747.10" y="374.20" width="7.30" height="5.20" fill="#c2ab3a" stroke="#3a3218" stroke-width="0.60" />
<line x1="747.10" y1="374.20" x2="754.40" y2="379.40" stroke="#3a3218" stroke-width="0.60" />
<line x1="747.10" y1="379.40" x2="754.40" y2="374.20" stroke="#3a3218" stroke-width="0.60" />
<rect x="758.00" y="381.00" width="138.00" height="8.50" fill="#84b184" stroke="#4f7a55" stroke-width="1.00" />
<rect x="758.60" y="381.60" width="5.20" height="7.30" fill="#c2ab3a" stroke="#3a3218" stroke-width="0.60" />
<line x1="758.60" y1="381.60" x2="763.80" y2="388.90" stroke="#3a3218" stroke-width="0.60" />
<line x1="758.60" y1="388.90" x2="763.80" y2="381.60" stroke="#3a3218" stroke-width="0.60" />
<rect x="783.00" y="381.60" width="5.20" height="7.30" fill="#c2ab3a" stroke="#3a3218" stroke-width="0.60" />
<line x1="783.00" y1="381.60" x2="788.20" y2="388.90" stroke="#3a3218" stroke-width="0.60" />
<line x1="783.00" y1="388.90" x2="788.20" y2="381.60" stroke="#3a3218" stroke-width="0.60" />
<rect x="810.60" y="381.60" width="5.20" height="7.30" fill="#c2ab3a" stroke="#3a3218" stroke-width="0.60" />
<line x1="810.60" y1="381.60" x2="815.80" y2="388.90" stroke="#3a3218" stroke-width="0.60" />
<line x1="810.60" y1="388.90" x2="815.80" y2="381.60" stroke="#3a3218" stroke-width="0.60" />
<rect x="838.20" y="381.60" width="5.20" height="7.30" fill="#c2ab3a" stroke="#3a3218" stroke-width="0.60" />
<line x1="838.20" y1="381.60" x2="843.40" y2="388.90" stroke="#3a3218" stroke-width="0.60" />
<line x1="838.20" y1="388.90" x2="843.40" y2="381.60" stroke="#3a3218" stroke-width="0.60" />
<rect x="865.80" y="381.60" width="5.20" height="7.30" fill="#c2ab3a" stroke="#3a3218" stroke-width="0.60" />
<line x1="865.80" y1="381.60" x2="871.00" y2="388.90" stroke="#3a3218" stroke-width="0.60" />
<line x1="865.80" y1="388.90" x2="871.00" y2="381.60" stroke="#3a3218" stroke-width="0.60" />
<rect x="890.20" y="381.60" width="5.20" height="7.30" fill="#c2ab3a" stroke="#3a3218" stroke-width="0.60" />
<line x1="890.20" y1="381.60" x2="895.40" y2="388.90" stroke="#3a3218" stroke-width="0.60" />
<line x1="890.20" y1="388.90" x2="895.40" y2="381.60" stroke="#3a3218" stroke-width="0.60" />
<rect x="896.00" y="175.00" width="9.00" height="80.00" fill="#84b184" stroke="#4f7a55" stroke-width="1.00" />
<rect x="896.60" y="175.60" width="7.80" height="5.20" fill="#c2ab3a" stroke="#3a3218" stroke-width="0.60" />
<line x1="896.60" y1="175.60" x2="904.40" y2="180.80" stroke="#3a3218" stroke-width="0.60" />
<line x1="896.60" y1="180.80" x2="904.40" y2="175.60" stroke="#3a3218" stroke-width="0.60" />
<rect x="896.60" y="199.07" width="7.80" height="5.20" fill="#c2ab3a" stroke="#3a3218" stroke-width="0.60" />
<line x1="896.60" y1="199.07" x2="904.40" y2="204.27" stroke="#3a3218" stroke-width="0.60" />
<line x1="896.60" y1="204.27" x2="904.40" y2="199.07" stroke="#3a3218" stroke-width="0.60" />
<rect x="896.60" y="225.73" width="7.80" height="5.20" fill="#c2ab3a" stroke="#3a3218" stroke-width="0.60" />
<line x1="896.60" y1="225.73" x2="904.40" y2="230.93" stroke="#3a3218" stroke-width="0.60" />
<line x1="896.60" y1="230.93" x2="904.40" y2="225.73" stroke="#3a3218" stroke-width="0.60" />
<rect x="896.60" y="249.20" width="7.80" height="5.20" fill="#c2ab3a" stroke="#3a3218" stroke-width="0.60" />
<line x1="896.60" y1="249.20" x2="904.40" y2="254.40" stroke="#3a3218" stroke-width="0.60" />
<line x1="896.60" y1="254.40" x2="904.40" y2="249.20" stroke="#3a3218" stroke-width="0.60" />
<rect x="896.00" y="321.00" width="9.00" height="76.50" fill="#84b184" stroke="#4f7a55" stroke-width="1.00" />
<rect x="896.60" y="321.60" width="7.80" height="5.20" fill="#c2ab3a" stroke="#3a3218" stroke-width="0.60" />
<line x1="896.60" y1="321.60" x2="904.40" y2="326.80" stroke="#3a3218" stroke-width="0.60" />
<line x1="896.60" y1="326.80" x2="904.40" y2="321.60" stroke="#3a3218" stroke-width="0.60" />
<rect x="896.60" y="343.90" width="7.80" height="5.20" fill="#c2ab3a" stroke="#3a3218" stroke-width="0.60" />
<line x1="896.60" y1="343.90" x2="904.40" y2="349.10" stroke="#3a3218" stroke-width="0.60" />
<line x1="896.60" y1="349.10" x2="904.40" y2="343.90" stroke="#3a3218" stroke-width="0.60" />
<rect x="896.60" y="369.40" width="7.80" height="5.20" fill="#c2ab3a" stroke="#3a3218" stroke-width="0.60" />
<line x1="896.60" y1="369.40" x2="904.40" y2="374.60" stroke="#3a3218" stroke-width="0.60" />
<line x1="896.60" y1="374.60" x2="904.40" y2="369.40" stroke="#3a3218" stroke-width="0.60" />
<rect x="896.60" y="391.70" width="7.80" height="5.20" fill="#c2ab3a" stroke="#3a3218" stroke-width="0.60" />
<line x1="896.60" y1="391.70" x2="904.40" y2="396.90" stroke="#3a3218" stroke-width="0.60" />
<line x1="896.60" y1="396.90" x2="904.40" y2="391.70" stroke="#3a3218" stroke-width="0.60" />
<rect x="758.00" y="516.50" width="138.00" height="9.00" fill="#84b184" stroke="#4f7a55" stroke-width="1.00" />
<rect x="758.60" y="517.10" width="5.20" height="7.80" fill="#c2ab3a" stroke="#3a3218" stroke-width="0.60" />
<line x1="758.60" y1="517.10" x2="763.80" y2="524.90" stroke="#3a3218" stroke-width="0.60" />
<line x1="758.60" y1="524.90" x2="763.80" y2="517.10" stroke="#3a3218" stroke-width="0.60" />
<rect x="783.00" y="517.10" width="5.20" height="7.80" fill="#c2ab3a" stroke="#3a3218" stroke-width="0.60" />
<line x1="783.00" y1="517.10" x2="788.20" y2="524.90" stroke="#3a3218" stroke-width="0.60" />
<line x1="783.00" y1="524.90" x2="788.20" y2="517.10" stroke="#3a3218" stroke-width="0.60" />
<rect x="810.60" y="517.10" width="5.20" height="7.80" fill="#c2ab3a" stroke="#3a3218" stroke-width="0.60" />
<line x1="810.60" y1="517.10" x2="815.80" y2="524.90" stroke="#3a3218" stroke-width="0.60" />
<line x1="810.60" y1="524.90" x2="815.80" y2="517.10" stroke="#3a3218" stroke-width="0.60" />
<rect x="838.20" y="517.10" width="5.20" height="7.80" fill="#c2ab3a" stroke="#3a3218" stroke-width="0.60" />
<line x1="838.20" y1="517.10" x2="843.40" y2="524.90" stroke="#3a3218" stroke-width="0.60" />
<line x1="838.20" y1="524.90" x2="843.40" y2="517.10" stroke="#3a3218" stroke-width="0.60" />
<rect x="865.80" y="517.10" width="5.20" height="7.80" fill="#c2ab3a" stroke="#3a3218" stroke-width="0.60" />
<line x1="865.80" y1="517.10" x2="871.00" y2="524.90" stroke="#3a3218" stroke-width="0.60" />
<line x1="865.80" y1="524.90" x2="871.00" y2="517.10" stroke="#3a3218" stroke-width="0.60" />
<rect x="890.20" y="517.10" width="5.20" height="7.80" fill="#c2ab3a" stroke="#3a3218" stroke-width="0.60" />
<line x1="890.20" y1="517.10" x2="895.40" y2="524.90" stroke="#3a3218" stroke-width="0.60" />
<line x1="890.20" y1="524.90" x2="895.40" y2="517.10" stroke="#3a3218" stroke-width="0.60" />
<rect x="746.50" y="596.00" width="8.50" height="48.00" fill="#84b184" stroke="#4f7a55" stroke-width="1.00" />
<rect x="747.10" y="596.60" width="7.30" height="5.20" fill="#c2ab3a" stroke="#3a3218" stroke-width="0.60" />
<line x1="747.10" y1="596.60" x2="754.40" y2="601.80" stroke="#3a3218" stroke-width="0.60" />
<line x1="747.10" y1="601.80" x2="754.40" y2="596.60" stroke="#3a3218" stroke-width="0.60" />
<rect x="747.10" y="617.40" width="7.30" height="5.20" fill="#c2ab3a" stroke="#3a3218" stroke-width="0.60" />
<line x1="747.10" y1="617.40" x2="754.40" y2="622.60" stroke="#3a3218" stroke-width="0.60" />
<line x1="747.10" y1="622.60" x2="754.40" y2="617.40" stroke="#3a3218" stroke-width="0.60" />
<rect x="747.10" y="638.20" width="7.30" height="5.20" fill="#c2ab3a" stroke="#3a3218" stroke-width="0.60" />
<line x1="747.10" y1="638.20" x2="754.40" y2="643.40" stroke="#3a3218" stroke-width="0.60" />
<line x1="747.10" y1="643.40" x2="754.40" y2="638.20" stroke="#3a3218" stroke-width="0.60" />
<rect x="896.00" y="510.00" width="9.00" height="151.00" fill="#84b184" stroke="#4f7a55" stroke-width="1.00" />
<rect x="896.60" y="510.60" width="7.80" height="5.20" fill="#c2ab3a" stroke="#3a3218" stroke-width="0.60" />
<line x1="896.60" y1="510.60" x2="904.40" y2="515.80" stroke="#3a3218" stroke-width="0.60" />
<line x1="896.60" y1="515.80" x2="904.40" y2="510.60" stroke="#3a3218" stroke-width="0.60" />
<rect x="896.60" y="537.60" width="7.80" height="5.20" fill="#c2ab3a" stroke="#3a3218" stroke-width="0.60" />
<line x1="896.60" y1="537.60" x2="904.40" y2="542.80" stroke="#3a3218" stroke-width="0.60" />
<line x1="896.60" y1="542.80" x2="904.40" y2="537.60" stroke="#3a3218" stroke-width="0.60" />
<rect x="896.60" y="567.80" width="7.80" height="5.20" fill="#c2ab3a" stroke="#3a3218" stroke-width="0.60" />
<line x1="896.60" y1="567.80" x2="904.40" y2="573.00" stroke="#3a3218" stroke-width="0.60" />
<line x1="896.60" y1="573.00" x2="904.40" y2="567.80" stroke="#3a3218" stroke-width="0.60" />
<rect x="896.60" y="598.00" width="7.80" height="5.20" fill="#c2ab3a" stroke="#3a3218" stroke-width="0.60" />
<line x1="896.60" y1="598.00" x2="904.40" y2="603.20" stroke="#3a3218" stroke-width="0.60" />
<line x1="896.60" y1="603.20" x2="904.40" y2="598.00" stroke="#3a3218" stroke-width="0.60" />
<rect x="896.60" y="628.20" width="7.80" height="5.20" fill="#c2ab3a" stroke="#3a3218" stroke-width="0.60" />
<line x1="896.60" y1="628.20" x2="904.40" y2="633.40" stroke="#3a3218" stroke-width="0.60" />
<line x1="896.60" y1="633.40" x2="904.40" y2="628.20" stroke="#3a3218" stroke-width="0.60" />
<rect x="896.60" y="655.20" width="7.80" height="5.20" fill="#c2ab3a" stroke="#3a3218" stroke-width="0.60" />
<line x1="896.60" y1="655.20" x2="904.40" y2="660.40" stroke="#3a3218" stroke-width="0.60" />
<line x1="896.60" y1="660.40" x2="904.40" y2="655.20" stroke="#3a3218" stroke-width="0.60" />
<rect x="556.00" y="517.50" width="37.00" height="7.50" fill="#f4efba" stroke="#6b6b40" stroke-width="0.60" />
<rect x="593.00" y="517.00" width="7.00" height="8.50" fill="#b9a338" stroke="#4a4020" stroke-width="0.50" />
<rect x="665.50" y="252.40" width="7.50" height="7.60" fill="#b09a30" stroke="#3a3218" stroke-width="0.60" />
<line x1="665.50" y1="252.40" x2="673.00" y2="260.00" stroke="#3a3218" stroke-width="0.60" />
<line x1="665.50" y1="260.00" x2="673.00" y2="252.40" stroke="#3a3218" stroke-width="0.60" />
<rect x="739.50" y="252.40" width="7.00" height="7.60" fill="#b09a30" stroke="#3a3218" stroke-width="0.60" />
<line x1="739.50" y1="252.40" x2="746.50" y2="260.00" stroke="#3a3218" stroke-width="0.60" />
<line x1="739.50" y1="260.00" x2="746.50" y2="252.40" stroke="#3a3218" stroke-width="0.60" />
<path d="M160 278 h28 v10 a14 16 0 0 1 -28 0 z" fill="none" stroke="#b9b9b9" stroke-width="0.80" />
<rect x="140.50" y="253.00" width="60.50" height="21.00" fill="none" stroke="#b9b9b9" stroke-width="0.70" />
<rect x="203.00" y="256.00" width="67.00" height="62.00" fill="none" stroke="#b9b9b9" stroke-width="0.80" />
<path d="M206 256 v30 a32 32 0 0 0 32 32 h30" fill="none" stroke="#9fb4c8" stroke-width="1.20" />
<circle cx="238.00" cy="269.00" r="5.00" fill="none" stroke="#b9b9b9" stroke-width="0.80"/>
<path d="M141 349 h26 q7 0 7 7 v20 q0 7 -7 7 h-26 z" fill="none" stroke="#b9b9b9" stroke-width="0.80" />
<line x1="143.00" y1="366.50" x2="156.00" y2="366.50" stroke="#999" stroke-width="1.00" />
<circle cx="156.00" cy="366.00" r="2.00" fill="none" stroke="#999" stroke-width="0.60"/>
<path d="M851 543 h24 q4 0 4 4 v21 q0 4 -4 4 h-24 z" fill="none" stroke="#b9b9b9" stroke-width="0.80" />
<path d="M874 602 v24 h-20 a16 12 0 0 1 0 -24 z" fill="none" stroke="#b9b9b9" stroke-width="0.80" />
<line x1="866.00" y1="557.50" x2="893.00" y2="557.50" stroke="#777" stroke-width="0.80" stroke-dasharray="5 2 1 2" />
<line x1="893.50" y1="557.00" x2="893.50" y2="640.00" stroke="#777" stroke-width="0.80" stroke-dasharray="5 2 1 2" />
<line x1="558.40" y1="260.50" x2="639.20" y2="260.50" stroke="#b9b9b9" stroke-width="0.80" />
<line x1="558.40" y1="283.50" x2="639.20" y2="283.50" stroke="#b9b9b9" stroke-width="0.80" />
<line x1="558.40" y1="301.50" x2="639.20" y2="301.50" stroke="#b9b9b9" stroke-width="0.80" />
<line x1="558.40" y1="320.50" x2="639.20" y2="320.50" stroke="#b9b9b9" stroke-width="0.80" />
<line x1="558.40" y1="280.50" x2="639.20" y2="280.50" stroke="#c8c8c8" stroke-width="0.70" stroke-dasharray="4 2" />
<line x1="558.40" y1="299.50" x2="639.20" y2="299.50" stroke="#c8c8c8" stroke-width="0.70" stroke-dasharray="4 2" />
<line x1="598.50" y1="218.40" x2="598.50" y2="320.40" stroke="#cfcfcf" stroke-width="0.70" />
<line x1="598.40" y1="218.50" x2="703.80" y2="218.50" stroke="#cfcfcf" stroke-width="0.70" />
<line x1="703.50" y1="218.40" x2="703.50" y2="258.00" stroke="#cfcfcf" stroke-width="0.70" />
<line x1="638.50" y1="177.00" x2="638.50" y2="256.00" stroke="#cccccc" stroke-width="0.70" stroke-dasharray="4 3" />
<line x1="640.50" y1="177.00" x2="640.50" y2="256.00" stroke="#cccccc" stroke-width="0.70" stroke-dasharray="4 3" />
<line x1="658.50" y1="177.00" x2="658.50" y2="256.00" stroke="#cccccc" stroke-width="0.70" stroke-dasharray="4 3" />
<line x1="660.50" y1="177.00" x2="660.50" y2="256.00" stroke="#cccccc" stroke-width="0.70" stroke-dasharray="4 3" />
<path d="M558.4 324.7 H643 A12.8 12.8 0 0 0 643 299" fill="none" stroke="#b9b9b9" stroke-width="0.80" />
<path d="M643 320.4 A8.5 8.5 0 0 0 643 303.4" fill="none" stroke="#d0d0d0" stroke-width="0.70" />
<rect x="636.60" y="256.60" width="6.80" height="6.80" fill="#fff" stroke="#888" stroke-width="0.70" />
<rect x="636.60" y="299.00" width="6.80" height="7.00" fill="#fff" stroke="#888" stroke-width="0.70" />
<rect x="658.70" y="251.50" width="6.80" height="11.90" fill="#fff" stroke="#888" stroke-width="0.70" />
<line x1="639.50" y1="263.40" x2="639.50" y2="299.00" stroke="#b9b9b9" stroke-width="0.70" />
<line x1="640.50" y1="263.40" x2="640.50" y2="299.00" stroke="#b9b9b9" stroke-width="0.70" />
<line x1="643.40" y1="259.50" x2="658.70" y2="259.50" stroke="#b9b9b9" stroke-width="0.70" />
<line x1="643.40" y1="261.50" x2="658.70" y2="261.50" stroke="#b9b9b9" stroke-width="0.70" />
<path d="M673 258.5 H739.5 M675.7 271 L740.4 260 M675.7 271 V259" fill="none" stroke="#a5a5a5" stroke-width="0.70" />
<path d="M688.5 249 L703 256.6 L718.3 249" fill="none" stroke="#111" stroke-width="1.20" />
<path d="M559 332.5 H642 V381 H746" fill="none" stroke="#bbb" stroke-width="0.70" stroke-dasharray="4 2.5" />
<line x1="379.00" y1="416.50" x2="546.00" y2="416.50" stroke="#999" stroke-width="0.70" />
<line x1="449.00" y1="201.50" x2="535.00" y2="201.50" stroke="#222" stroke-width="1.20" />
<path d="M303.2 346.4 V408 M305.6 346.4 V408 M293.3 346.4 V405 M295.3 346.4 V405 M305.6 346.4 A60.6 60.6 0 0 1 364 407" fill="none" stroke="#c9c9d2" stroke-width="0.80" />
<path d="M260.6 346.4 V408 M263 346.4 V408 M262 352 a40 40 0 0 0 -40 36" fill="none" stroke="#c9c9d2" stroke-width="0.80" />
<path d="M182 493 l60 -14 l0.5 3 l-60 14" fill="none" stroke="#aaa" stroke-width="0.70" />
<path d="M484 425 h62 M484 423 h62 M486 425 a62 62 0 0 0 60 62" fill="none" stroke="#d4d4d4" stroke-width="0.70" />
<path d="M505 498 v62 M508.5 498 v62 M448 500 a60 60 0 0 0 58 60" fill="none" stroke="#d4d4d4" stroke-width="0.70" />
<path d="M754 528 A68 65 0 0 0 686 592.4 H754 M755.5 531 v62 M744.5 531 v62" fill="none" stroke="#cccccc" stroke-width="0.80" />
<path d="M840 400 h56 v2.5 h-56 z" fill="#e8eef4" stroke="#aaa" stroke-width="0.60" />
<path d="M840 503 h56 v2.5 h-56 z" fill="#e8eef4" stroke="#aaa" stroke-width="0.60" />
<path d="M842 402 a52 52 0 0 0 52 50 M842 503 a52 52 0 0 1 52 -50" fill="none" stroke="#d4d4d4" stroke-width="0.70" />
<path d="M840 257 h56 v2 h-56 z M834 262 h62" fill="none" stroke="#bbb" stroke-width="0.60" />
<path d="M842 262 a56 56 0 0 0 54 56" fill="none" stroke="#d4d4d4" stroke-width="0.70" />
<path d="M625 606 v55 M625 606 a85 85 0 0 1 85 84" fill="none" stroke="#d9cfc4" stroke-width="0.80" />
<line x1="755.50" y1="400.00" x2="755.50" y2="510.00" stroke="#ccc" stroke-width="0.70" stroke-dasharray="4 3" />
<line x1="743.50" y1="400.00" x2="743.50" y2="510.00" stroke="#ccc" stroke-width="0.70" stroke-dasharray="4 3" />
<line x1="922.00" y1="367.50" x2="1195.00" y2="367.50" stroke="#ccc" stroke-width="0.80" stroke-dasharray="5 3" />
<line x1="922.00" y1="381.50" x2="1195.00" y2="381.50" stroke="#ccc" stroke-width="0.80" stroke-dasharray="5 3" />
<line x1="922.00" y1="527.50" x2="1195.00" y2="527.50" stroke="#ccc" stroke-width="0.80" stroke-dasharray="5 3" />
<line x1="922.00" y1="541.50" x2="1195.00" y2="541.50" stroke="#ccc" stroke-width="0.80" stroke-dasharray="5 3" />
<line x1="907.50" y1="397.00" x2="907.50" y2="527.00" stroke="#ccc" stroke-width="0.80" stroke-dasharray="5 3" />
<line x1="920.50" y1="397.00" x2="920.50" y2="527.00" stroke="#ccc" stroke-width="0.80" stroke-dasharray="5 3" />
<line x1="1199.50" y1="195.00" x2="1199.50" y2="717.00" stroke="#ddd" stroke-width="0.80" stroke-dasharray="5 3" />
<line x1="293.00" y1="188.50" x2="545.00" y2="188.50" stroke="#ddd" stroke-width="0.70" stroke-dasharray="5 3" />
<line x1="293.50" y1="188.00" x2="293.50" y2="405.00" stroke="#ddd" stroke-width="0.70" stroke-dasharray="5 3" />
<line x1="293.00" y1="649.50" x2="525.00" y2="649.50" stroke="#ddd" stroke-width="0.70" stroke-dasharray="5 3" />
<line x1="293.50" y1="420.00" x2="293.50" y2="644.00" stroke="#ddd" stroke-width="0.70" stroke-dasharray="5 3" />
<line x1="600.50" y1="525.00" x2="600.50" y2="597.00" stroke="#999" stroke-width="0.70" stroke-dasharray="4 2.5" />
<rect x="906.00" y="541.00" width="44.00" height="145.00" fill="none" stroke="#d6d6d6" stroke-width="0.70" />
<rect x="951.00" y="543.00" width="216.00" height="143.00" fill="none" stroke="#d6d6d6" stroke-width="0.70" />
<rect x="1008.00" y="549.50" width="101.00" height="60.00" fill="none" stroke="#cfcfcf" stroke-width="0.80" />
<rect x="911.50" y="588.00" width="34.00" height="62.00" fill="none" stroke="#d6d6d6" stroke-width="0.60" />
<circle cx="919.20" cy="602.50" r="6.00" fill="none" stroke="#cfcfcf" stroke-width="0.80"/>
<circle cx="936.80" cy="602.50" r="6.00" fill="none" stroke="#cfcfcf" stroke-width="0.80"/>
<circle cx="928.00" cy="621.20" r="6.00" fill="none" stroke="#cfcfcf" stroke-width="0.80"/>
<circle cx="919.20" cy="640.60" r="6.00" fill="none" stroke="#cfcfcf" stroke-width="0.80"/>
<circle cx="936.80" cy="640.60" r="6.00" fill="none" stroke="#cfcfcf" stroke-width="0.80"/>
<rect x="906.00" y="686.00" width="290.00" height="45.00" fill="none" stroke="#d6d6d6" stroke-width="0.60" />
<line x1="1020.50" y1="712.50" x2="1020.50" y2="726.00" stroke="#888" stroke-width="0.80" />
<line x1="1057.50" y1="712.50" x2="1057.50" y2="726.00" stroke="#888" stroke-width="0.80" />
<line x1="1082.50" y1="712.50" x2="1082.50" y2="726.00" stroke="#888" stroke-width="0.80" />
<rect x="758.00" y="196.00" width="42.00" height="185.00" fill="none" stroke="#e0e0e0" stroke-width="0.60" />
<line x1="800.50" y1="196.00" x2="800.50" y2="381.00" stroke="#d8d8d8" stroke-width="0.60" />
<line x1="760.50" y1="196.00" x2="760.50" y2="297.00" stroke="#666" stroke-width="0.80" stroke-dasharray="8 2 2 2" />
<line x1="758.00" y1="333.50" x2="896.00" y2="333.50" stroke="#dddddd" stroke-width="0.60" />
<path d="M851 209 V249.5 H896.5 M851 209 L853 249.5" fill="none" stroke="#555" stroke-width="0.80" />
<line x1="822.00" y1="189.50" x2="896.00" y2="189.50" stroke="#cfcfcf" stroke-width="0.70" />
<circle cx="879.00" cy="225.70" r="6.30" fill="#fff" stroke="#333" stroke-width="0.90"/>
<circle cx="864.50" cy="238.00" r="6.30" fill="#fff" stroke="#333" stroke-width="0.90"/>
<path d="M836 130.5 H858.5 L857 134 V173 H855 V184 L870 207.4 A6.3 6.3 0 0 1 859.6 214.6 L841 190 V173 H839 V134 Z" fill="#e6e8ec" stroke="#444" stroke-width="0.80" fill-opacity="0.72"/>
<path d="M868 130.5 H890.7 L886 136 V198.4 A6.3 6.3 0 0 1 873.4 198.4 V136 Z" fill="#e6e8ec" stroke="#444" stroke-width="0.80" fill-opacity="0.72"/>
<path d="M843.5 136 V186 M848 136 V186 M852.5 136 V184 M877 138 V196 M882 138 V196" fill="none" stroke="#a9adb5" stroke-width="0.60" stroke-dasharray="2.5 1.2" />
<path d="M839 173 H857 M841 185 H855 M873.4 176 H886" fill="none" stroke="#8a8f98" stroke-width="0.50" />
<line x1="862.80" y1="211.50" x2="866.80" y2="211.50" stroke="#444" stroke-width="0.50" />
<line x1="864.50" y1="209.00" x2="864.50" y2="213.00" stroke="#444" stroke-width="0.50" />
<line x1="877.70" y1="198.50" x2="881.70" y2="198.50" stroke="#444" stroke-width="0.50" />
<line x1="879.50" y1="196.40" x2="879.50" y2="200.40" stroke="#444" stroke-width="0.50" />
<path d="M761 649 h26.5 v11.5 h-26.5 z" fill="#e01a22" stroke="none" stroke-width="1.00" />
<path d="M770 660 l13 -7 v2 l-9 5 z" fill="#ffffff" stroke="none" stroke-width="1.00" />
<rect x="549.00" y="733.00" width="68.50" height="68.00" fill="none" stroke="#2f7d3a" stroke-width="1.10" stroke-dasharray="6 3"/>
<rect x="807.00" y="733.00" width="67.00" height="68.00" fill="none" stroke="#2f7d3a" stroke-width="1.10" stroke-dasharray="6 3"/>
<line x1="611.50" y1="707.00" x2="611.50" y2="836.00" stroke="#ddd" stroke-width="0.60" />
<line x1="627.50" y1="707.00" x2="627.50" y2="836.00" stroke="#e4e4e4" stroke-width="0.60" />
<line x1="750.50" y1="707.00" x2="750.50" y2="836.00" stroke="#e4e4e4" stroke-width="0.60" />
<line x1="611.00" y1="778.50" x2="870.00" y2="778.50" stroke="#e8e8e8" stroke-width="0.60" />
<rect x="278.00" y="175.50" width="14.50" height="19.50" fill="#c9b23e" stroke="#2a2a14" stroke-width="1.00" />
<line x1="278.00" y1="175.50" x2="292.50" y2="195.00" stroke="#1a1a0c" stroke-width="1.00" />
<line x1="278.00" y1="195.00" x2="292.50" y2="175.50" stroke="#1a1a0c" stroke-width="1.00" />
<rect x="545.00" y="176.00" width="14.50" height="19.00" fill="#c9b23e" stroke="#2a2a14" stroke-width="1.00" />
<line x1="545.00" y1="176.00" x2="559.50" y2="195.00" stroke="#1a1a0c" stroke-width="1.00" />
<line x1="545.00" y1="195.00" x2="559.50" y2="176.00" stroke="#1a1a0c" stroke-width="1.00" />
<rect x="743.00" y="177.00" width="15.00" height="18.00" fill="#c9b23e" stroke="#2a2a14" stroke-width="1.00" />
<line x1="743.00" y1="177.00" x2="758.00" y2="195.00" stroke="#1a1a0c" stroke-width="1.00" />
<line x1="743.00" y1="195.00" x2="758.00" y2="177.00" stroke="#1a1a0c" stroke-width="1.00" />
<rect x="906.00" y="176.00" width="16.50" height="16.50" fill="#c9b23e" stroke="#2a2a14" stroke-width="1.00" />
<line x1="906.00" y1="176.00" x2="922.50" y2="192.50" stroke="#1a1a0c" stroke-width="1.00" />
<line x1="906.00" y1="192.50" x2="922.50" y2="176.00" stroke="#1a1a0c" stroke-width="1.00" />
<rect x="1195.50" y="176.00" width="15.50" height="15.00" fill="#c9b23e" stroke="#2a2a14" stroke-width="1.00" />
<line x1="1195.50" y1="176.00" x2="1211.00" y2="191.00" stroke="#1a1a0c" stroke-width="1.00" />
<line x1="1195.50" y1="191.00" x2="1211.00" y2="176.00" stroke="#1a1a0c" stroke-width="1.00" />
<rect x="278.50" y="405.50" width="14.50" height="15.00" fill="#c9b23e" stroke="#2a2a14" stroke-width="1.00" />
<line x1="278.50" y1="405.50" x2="293.00" y2="420.50" stroke="#1a1a0c" stroke-width="1.00" />
<line x1="278.50" y1="420.50" x2="293.00" y2="405.50" stroke="#1a1a0c" stroke-width="1.00" />
<rect x="543.00" y="384.00" width="16.00" height="15.50" fill="#c9b23e" stroke="#2a2a14" stroke-width="1.00" />
<line x1="543.00" y1="384.00" x2="559.00" y2="399.50" stroke="#1a1a0c" stroke-width="1.00" />
<line x1="543.00" y1="399.50" x2="559.00" y2="384.00" stroke="#1a1a0c" stroke-width="1.00" />
<rect x="743.00" y="379.00" width="15.00" height="15.00" fill="#c9b23e" stroke="#2a2a14" stroke-width="1.00" />
<line x1="743.00" y1="379.00" x2="758.00" y2="394.00" stroke="#1a1a0c" stroke-width="1.00" />
<line x1="743.00" y1="394.00" x2="758.00" y2="379.00" stroke="#1a1a0c" stroke-width="1.00" />
<rect x="905.00" y="367.50" width="17.00" height="13.50" fill="#c9b23e" stroke="#2a2a14" stroke-width="1.00" />
<line x1="905.00" y1="367.50" x2="922.00" y2="381.00" stroke="#1a1a0c" stroke-width="1.00" />
<line x1="905.00" y1="381.00" x2="922.00" y2="367.50" stroke="#1a1a0c" stroke-width="1.00" />
<rect x="1195.50" y="367.50" width="15.50" height="14.50" fill="#c9b23e" stroke="#2a2a14" stroke-width="1.00" />
<line x1="1195.50" y1="367.50" x2="1211.00" y2="382.00" stroke="#1a1a0c" stroke-width="1.00" />
<line x1="1195.50" y1="382.00" x2="1211.00" y2="367.50" stroke="#1a1a0c" stroke-width="1.00" />
<rect x="743.00" y="516.50" width="15.00" height="13.50" fill="#c9b23e" stroke="#2a2a14" stroke-width="1.00" />
<line x1="743.00" y1="516.50" x2="758.00" y2="530.00" stroke="#1a1a0c" stroke-width="1.00" />
<line x1="743.00" y1="530.00" x2="758.00" y2="516.50" stroke="#1a1a0c" stroke-width="1.00" />
<rect x="905.50" y="527.00" width="16.50" height="14.00" fill="#c9b23e" stroke="#2a2a14" stroke-width="1.00" />
<line x1="905.50" y1="527.00" x2="922.00" y2="541.00" stroke="#1a1a0c" stroke-width="1.00" />
<line x1="905.50" y1="541.00" x2="922.00" y2="527.00" stroke="#1a1a0c" stroke-width="1.00" />
<rect x="1195.50" y="527.00" width="15.50" height="14.00" fill="#c9b23e" stroke="#2a2a14" stroke-width="1.00" />
<line x1="1195.50" y1="527.00" x2="1211.00" y2="541.00" stroke="#1a1a0c" stroke-width="1.00" />
<line x1="1195.50" y1="541.00" x2="1211.00" y2="527.00" stroke="#1a1a0c" stroke-width="1.00" />
<rect x="279.00" y="644.00" width="14.00" height="16.00" fill="#c9b23e" stroke="#2a2a14" stroke-width="1.00" />
<line x1="279.00" y1="644.00" x2="293.00" y2="660.00" stroke="#1a1a0c" stroke-width="1.00" />
<line x1="279.00" y1="660.00" x2="293.00" y2="644.00" stroke="#1a1a0c" stroke-width="1.00" />
<rect x="544.00" y="643.00" width="15.00" height="18.50" fill="#c9b23e" stroke="#2a2a14" stroke-width="1.00" />
<line x1="544.00" y1="643.00" x2="559.00" y2="661.50" stroke="#1a1a0c" stroke-width="1.00" />
<line x1="544.00" y1="661.50" x2="559.00" y2="643.00" stroke="#1a1a0c" stroke-width="1.00" />
<rect x="743.00" y="644.00" width="15.00" height="17.00" fill="#c9b23e" stroke="#2a2a14" stroke-width="1.00" />
<line x1="743.00" y1="644.00" x2="758.00" y2="661.00" stroke="#1a1a0c" stroke-width="1.00" />
<line x1="743.00" y1="661.00" x2="758.00" y2="644.00" stroke="#1a1a0c" stroke-width="1.00" />
<rect x="905.00" y="717.50" width="17.00" height="16.50" fill="#c9b23e" stroke="#2a2a14" stroke-width="1.00" />
<line x1="905.00" y1="717.50" x2="922.00" y2="734.00" stroke="#1a1a0c" stroke-width="1.00" />
<line x1="905.00" y1="734.00" x2="922.00" y2="717.50" stroke="#1a1a0c" stroke-width="1.00" />
<rect x="1195.50" y="717.50" width="15.50" height="15.50" fill="#c9b23e" stroke="#2a2a14" stroke-width="1.00" />
<line x1="1195.50" y1="717.50" x2="1211.00" y2="733.00" stroke="#1a1a0c" stroke-width="1.00" />
<line x1="1195.50" y1="733.00" x2="1211.00" y2="717.50" stroke="#1a1a0c" stroke-width="1.00" />
<rect x="576.00" y="760.50" width="14.00" height="13.50" fill="#c9b23e" stroke="#2a2a14" stroke-width="1.00" />
<line x1="576.00" y1="760.50" x2="590.00" y2="774.00" stroke="#1a1a0c" stroke-width="1.00" />
<line x1="576.00" y1="774.00" x2="590.00" y2="760.50" stroke="#1a1a0c" stroke-width="1.00" />
<rect x="833.00" y="760.50" width="14.00" height="13.50" fill="#c9b23e" stroke="#2a2a14" stroke-width="1.00" />
<line x1="833.00" y1="760.50" x2="847.00" y2="774.00" stroke="#1a1a0c" stroke-width="1.00" />
<line x1="833.00" y1="774.00" x2="847.00" y2="760.50" stroke="#1a1a0c" stroke-width="1.00" />
<line x1="82.00" y1="47.50" x2="144.00" y2="1.00" stroke="#1a1a8c" stroke-width="1.50" stroke-dasharray="16 3 2 3" />
<polygon points="144.00,1.00 136.07,10.42 132.76,6.03" fill="#1a1a8c" stroke="none" stroke-width="1.00" />
<line x1="65.50" y1="77.00" x2="20.00" y2="648.00" stroke="#1a1a8c" stroke-width="1.50" stroke-dasharray="16 3 2 3" />
<polygon points="52.80,236.00 56.48,247.75 51.00,248.18" fill="#1a1a8c" stroke="none" stroke-width="1.00" />
<line x1="31.00" y1="684.00" x2="130.00" y2="819.00" stroke="#1a1a8c" stroke-width="1.50" stroke-dasharray="16 3 2 3" />
<polygon points="47.00,706.00 56.28,714.09 51.83,717.32" fill="#1a1a8c" stroke="none" stroke-width="1.00" />
<line x1="119.50" y1="80.00" x2="757.00" y2="0.00" stroke="#1e9fdc" stroke-width="1.50" stroke-dasharray="21 2.3 2 2.3" />
<line x1="267.50" y1="61.00" x2="267.50" y2="121.00" stroke="#1e9fdc" stroke-width="1.50" stroke-dasharray="21 2.3 2 2.3" />
<path d="M99 99 Q89 160 85 197 Q81 230 81 270 V705 L375 751 L580 777" fill="none" stroke="#1e9fdc" stroke-width="1.50" stroke-dasharray="21 2.3 2 2.3" />
<line x1="85.00" y1="197.00" x2="127.00" y2="204.00" stroke="#1e9fdc" stroke-width="1.50" stroke-dasharray="21 2.3 2 2.3" />
<line x1="81.00" y1="631.50" x2="128.00" y2="631.50" stroke="#1e9fdc" stroke-width="1.50" stroke-dasharray="21 2.3 2 2.3" />
<polygon points="81.00,549.00 83.50,560.00 78.50,560.00" fill="#1e9fdc" stroke="none" stroke-width="1.00" />
<polygon points="337.00,745.00 348.26,744.25 347.47,749.19" fill="#1e9fdc" stroke="none" stroke-width="1.00" />
<circle cx="102.50" cy="82.50" r="17.00" fill="none" stroke="#1e9fdc" stroke-width="0.90"/>
<circle cx="1315.00" cy="27.50" r="17.00" fill="none" stroke="#1e9fdc" stroke-width="0.90"/>
<line x1="1254.00" y1="-2.00" x2="1299.00" y2="20.00" stroke="#1e9fdc" stroke-width="1.50" stroke-dasharray="21 2.3 2 2.3" />
<line x1="1322.50" y1="12.00" x2="1328.00" y2="0.00" stroke="#1e9fdc" stroke-width="1.50" stroke-dasharray="21 2.3 2 2.3" />
<line x1="1315.50" y1="44.50" x2="1315.50" y2="732.00" stroke="#1e9fdc" stroke-width="1.50" stroke-dasharray="21 2.3 2 2.3" />
<line x1="1315.00" y1="110.00" x2="1410.00" y2="134.00" stroke="#1e9fdc" stroke-width="1.50" stroke-dasharray="21 2.3 2 2.3" />
<line x1="1277.00" y1="170.50" x2="1315.00" y2="170.50" stroke="#1e9fdc" stroke-width="1.50" stroke-dasharray="21 2.3 2 2.3" />
<line x1="1315.00" y1="697.00" x2="1266.00" y2="733.00" stroke="#1e9fdc" stroke-width="1.50" stroke-dasharray="21 2.3 2 2.3" />
<polygon points="1315.00,255.00 1317.50,266.00 1312.50,266.00" fill="#1e9fdc" stroke="none" stroke-width="1.00" />
<polygon points="1315.00,528.00 1317.50,539.00 1312.50,539.00" fill="#1e9fdc" stroke="none" stroke-width="1.00" />
<ellipse cx="1315" cy="745" rx="5.5" ry="13" fill="none" stroke="#1e9fdc" stroke-width="0.9"/>
<ellipse cx="81" cy="724" rx="5.5" ry="13" fill="none" stroke="#1e9fdc" stroke-width="0.9"/>
<line x1="209.50" y1="0.00" x2="209.50" y2="82.00" stroke="#7c7c7c" stroke-width="1.20" stroke-dasharray="21 2.3 2 2.3" />
<polygon points="209.50,17.00 211.20,25.00 207.80,25.00" fill="#7c7c7c" stroke="none" stroke-width="1.00" />
<line x1="227.00" y1="99.50" x2="708.00" y2="99.50" stroke="#7c7c7c" stroke-width="1.20" stroke-dasharray="21 2.3 2 2.3" />
<polygon points="475.00,99.50 487.00,97.00 487.00,102.00" fill="#7c7c7c" stroke="none" stroke-width="1.00" />
<line x1="203.00" y1="115.00" x2="145.00" y2="259.50" stroke="#7c7c7c" stroke-width="1.20" stroke-dasharray="21 2.3 2 2.3" />
<line x1="216.00" y1="115.00" x2="258.00" y2="250.00" stroke="#7c7c7c" stroke-width="1.20" stroke-dasharray="21 2.3 2 2.3" />
<line x1="733.00" y1="115.00" x2="768.00" y2="180.00" stroke="#7c7c7c" stroke-width="0.90" stroke-dasharray="21 2.3 2 2.3" />
<line x1="166.00" y1="631.00" x2="218.00" y2="659.00" stroke="#7c7c7c" stroke-width="1.20" stroke-dasharray="21 2.3 2 2.3" />
<path d="M262 578 L172.5 750 L147 797 Q142 806 142 817" fill="none" stroke="#7c7c7c" stroke-width="1.20" stroke-dasharray="21 2.3 2 2.3" />
<line x1="158.50" y1="836.50" x2="875.00" y2="836.50" stroke="#7c7c7c" stroke-width="1.20" stroke-dasharray="21 2.3 2 2.3" />
<polygon points="317.00,836.50 329.00,834.00 329.00,839.00" fill="#7c7c7c" stroke="none" stroke-width="1.00" />
<polygon points="813.00,836.50 825.00,834.00 825.00,839.00" fill="#7c7c7c" stroke="none" stroke-width="1.00" />
<line x1="892.50" y1="819.00" x2="892.50" y2="664.00" stroke="#7c7c7c" stroke-width="1.20" stroke-dasharray="21 2.3 2 2.3" />
<line x1="898.00" y1="820.00" x2="937.00" y2="729.00" stroke="#7c7c7c" stroke-width="1.20" stroke-dasharray="21 2.3 2 2.3" />
<line x1="930.00" y1="726.50" x2="1082.00" y2="726.50" stroke="#555" stroke-width="0.90" stroke-dasharray="14 2 2 2" />
<path d="M50.5 500 V222 C51 195 56 180 66 164 C80 142 110 112 135 93.5 C165 72 200 50 240 49.5 H1277 A65.5 65 0 0 1 1342.5 114.5 V757 A65.5 64.5 0 0 1 1277 821.5 H557 L275 738 C190 716 150 708 125 694 C70 655 52.5 620 50.5 560 Z" fill="none" stroke="#578a5c" stroke-width="1.25" stroke-dasharray="21 2.3 2 2.3" />
<line x1="1143.50" y1="0.00" x2="1143.50" y2="49.00" stroke="#578a5c" stroke-width="1.20" />
<polygon points="1143.00,25.00 1145.00,34.00 1141.00,34.00" fill="#578a5c" stroke="none" stroke-width="1.00" />
<line x1="139.00" y1="856.00" x2="134.00" y2="911.00" stroke="#de2a38" stroke-width="1.70" stroke-dasharray="17 3 2 3" />
<line x1="767.00" y1="97.00" x2="767.00" y2="132.00" stroke="#0f6b24" stroke-width="2.20" />
<line x1="767.00" y1="144.00" x2="767.00" y2="174.00" stroke="#0f6b24" stroke-width="2.20" />
<polygon points="767.00,122.00 764.50,111.00 769.50,111.00" fill="#0f6b24" stroke="none" stroke-width="1.00" />
<line x1="857.50" y1="663.00" x2="857.50" y2="721.00" stroke="#e0141e" stroke-width="3.20" />
<line x1="857.50" y1="731.00" x2="857.50" y2="738.00" stroke="#e0141e" stroke-width="3.20" />
<polygon points="857.00,744.00 859.00,754.00 855.00,754.00" fill="#1c1c7c" stroke="none" stroke-width="1.00" />
<line x1="857.50" y1="754.00" x2="857.50" y2="784.00" stroke="#3a4ab0" stroke-width="0.70" />
<line x1="857.00" y1="784.00" x2="912.00" y2="797.00" stroke="#999" stroke-width="0.60" />
<line x1="1090.00" y1="726.00" x2="1090.00" y2="745.50" stroke="#1a1ad2" stroke-width="2.80" />
<line x1="1090.00" y1="753.00" x2="1090.00" y2="775.00" stroke="#1a1ad2" stroke-width="2.80" />
<line x1="1090.00" y1="783.00" x2="1090.00" y2="802.00" stroke="#1a1ad2" stroke-width="2.80" />
<polygon points="1090.00,800.00 1086.75,790.00 1093.25,790.00" fill="#1a1ad2" stroke="none" stroke-width="1.00" />
<rect x="261.00" y="114.00" width="13.50" height="5.50" fill="#c9c9c9" stroke="#aaa" stroke-width="0.50" />
<rect x="262.00" y="119.50" width="11.00" height="11.00" fill="none" stroke="#b5b5c5" stroke-width="0.50" />
<circle cx="267.50" cy="125.00" r="3.20" fill="#fff" stroke="#1e9fdc" stroke-width="0.80"/>
<circle cx="267.50" cy="125.00" r="1.00" fill="none" stroke="#1e9fdc" stroke-width="0.50"/>
<rect x="124.00" y="192.50" width="13.00" height="6.50" fill="#c9c9c9" stroke="#aaa" stroke-width="0.50" />
<rect x="124.50" y="198.50" width="11.00" height="11.00" fill="none" stroke="#b5b5c5" stroke-width="0.50" />
<circle cx="130.00" cy="204.00" r="3.20" fill="#fff" stroke="#1e9fdc" stroke-width="0.80"/>
<circle cx="130.00" cy="204.00" r="1.00" fill="none" stroke="#1e9fdc" stroke-width="0.50"/>
<rect x="125.00" y="636.00" width="12.50" height="7.00" fill="#c9c9c9" stroke="#aaa" stroke-width="0.50" />
<rect x="125.50" y="625.50" width="11.00" height="11.00" fill="none" stroke="#b5b5c5" stroke-width="0.50" />
<circle cx="131.00" cy="631.00" r="3.20" fill="#fff" stroke="#1e9fdc" stroke-width="0.80"/>
<circle cx="131.00" cy="631.00" r="1.00" fill="none" stroke="#1e9fdc" stroke-width="0.50"/>
<rect x="576.00" y="785.00" width="14.00" height="5.00" fill="#c9c9c9" stroke="#aaa" stroke-width="0.50" />
<rect x="576.50" y="773.50" width="11.00" height="11.00" fill="none" stroke="#b5b5c5" stroke-width="0.50" />
<circle cx="582.00" cy="779.00" r="3.20" fill="#fff" stroke="#1e9fdc" stroke-width="0.80"/>
<circle cx="582.00" cy="779.00" r="1.00" fill="none" stroke="#1e9fdc" stroke-width="0.50"/>
<rect x="1267.50" y="163.00" width="6.50" height="13.00" fill="#c9c9c9" stroke="#999" stroke-width="0.50" />
<circle cx="1261.00" cy="170.00" r="3.20" fill="#fff" stroke="#1e9fdc" stroke-width="0.80"/>
<rect x="1258.00" y="728.00" width="8.00" height="14.00" fill="#e0e0e0" stroke="#bbb" stroke-width="0.50" />
<circle cx="1262.50" cy="735.00" r="3.20" fill="#fff" stroke="#1e9fdc" stroke-width="0.80"/>
<circle cx="145.00" cy="259.50" r="3.20" fill="none" stroke="#222" stroke-width="0.70"/>
<line x1="138.80" y1="259.50" x2="151.20" y2="259.50" stroke="#222" stroke-width="0.60" />
<line x1="145.50" y1="253.30" x2="145.50" y2="265.70" stroke="#222" stroke-width="0.60" />
<circle cx="166.00" cy="631.00" r="3.20" fill="none" stroke="#222" stroke-width="0.70"/>
<line x1="159.80" y1="631.50" x2="172.20" y2="631.50" stroke="#222" stroke-width="0.60" />
<line x1="166.50" y1="624.80" x2="166.50" y2="637.20" stroke="#222" stroke-width="0.60" />
<circle cx="262.50" cy="577.50" r="3.20" fill="none" stroke="#222" stroke-width="0.70"/>
<line x1="256.30" y1="577.50" x2="268.70" y2="577.50" stroke="#222" stroke-width="0.60" />
<line x1="262.50" y1="571.30" x2="262.50" y2="583.70" stroke="#222" stroke-width="0.60" />
<circle cx="768.00" cy="180.50" r="3.20" fill="none" stroke="#222" stroke-width="0.70"/>
<line x1="761.80" y1="180.50" x2="774.20" y2="180.50" stroke="#222" stroke-width="0.60" />
<line x1="768.50" y1="174.30" x2="768.50" y2="186.70" stroke="#222" stroke-width="0.60" />
<circle cx="892.00" cy="642.00" r="3.20" fill="none" stroke="#222" stroke-width="0.70"/>
<line x1="885.80" y1="642.50" x2="898.20" y2="642.50" stroke="#222" stroke-width="0.60" />
<line x1="892.50" y1="635.80" x2="892.50" y2="648.20" stroke="#222" stroke-width="0.60" />
<circle cx="938.00" cy="726.00" r="3.20" fill="none" stroke="#222" stroke-width="0.70"/>
<line x1="931.80" y1="726.50" x2="944.20" y2="726.50" stroke="#222" stroke-width="0.60" />
<line x1="938.50" y1="719.80" x2="938.50" y2="732.20" stroke="#222" stroke-width="0.60" />
<line x1="885.00" y1="646.50" x2="896.00" y2="646.50" stroke="#ffffff" stroke-width="1.00" />
<line x1="885.00" y1="647.50" x2="896.00" y2="647.50" stroke="#6f9a72" stroke-width="1.00" />
<line x1="885.00" y1="648.50" x2="896.00" y2="648.50" stroke="#ffffff" stroke-width="1.00" />
<line x1="885.00" y1="649.50" x2="896.00" y2="649.50" stroke="#6f9a72" stroke-width="1.00" />
<line x1="885.00" y1="650.50" x2="896.00" y2="650.50" stroke="#ffffff" stroke-width="1.00" />
<line x1="885.00" y1="651.50" x2="896.00" y2="651.50" stroke="#6f9a72" stroke-width="1.00" />
<line x1="885.00" y1="652.50" x2="896.00" y2="652.50" stroke="#ffffff" stroke-width="1.00" />
<line x1="885.00" y1="653.50" x2="896.00" y2="653.50" stroke="#6f9a72" stroke-width="1.00" />
<line x1="885.00" y1="654.50" x2="896.00" y2="654.50" stroke="#ffffff" stroke-width="1.00" />
<line x1="885.00" y1="655.50" x2="896.00" y2="655.50" stroke="#6f9a72" stroke-width="1.00" />
<line x1="885.00" y1="657.50" x2="896.00" y2="657.50" stroke="#ffffff" stroke-width="1.00" />
<line x1="885.00" y1="658.50" x2="896.00" y2="658.50" stroke="#6f9a72" stroke-width="1.00" />
<line x1="885.00" y1="659.50" x2="896.00" y2="659.50" stroke="#ffffff" stroke-width="1.00" />
<line x1="885.00" y1="634.50" x2="896.00" y2="634.50" stroke="#444" stroke-width="0.90" stroke-dasharray="1.5 1.5" />
<line x1="885.00" y1="636.50" x2="896.00" y2="636.50" stroke="#444" stroke-width="0.90" stroke-dasharray="1.5 1.5" />
<line x1="885.00" y1="638.50" x2="896.00" y2="638.50" stroke="#444" stroke-width="0.90" stroke-dasharray="1.5 1.5" />
<line x1="885.00" y1="640.50" x2="896.00" y2="640.50" stroke="#444" stroke-width="0.90" stroke-dasharray="1.5 1.5" />
<line x1="885.00" y1="642.50" x2="896.00" y2="642.50" stroke="#444" stroke-width="0.90" stroke-dasharray="1.5 1.5" />
<line x1="257.50" y1="572.50" x2="269.50" y2="572.50" stroke="#444" stroke-width="0.90" stroke-dasharray="1.5 1.5" />
<line x1="257.50" y1="574.50" x2="269.50" y2="574.50" stroke="#444" stroke-width="0.90" stroke-dasharray="1.5 1.5" />
<line x1="257.50" y1="576.50" x2="269.50" y2="576.50" stroke="#444" stroke-width="0.90" stroke-dasharray="1.5 1.5" />
<line x1="257.50" y1="579.50" x2="269.50" y2="579.50" stroke="#444" stroke-width="0.90" stroke-dasharray="1.5 1.5" />
<line x1="257.50" y1="581.50" x2="269.50" y2="581.50" stroke="#444" stroke-width="0.90" stroke-dasharray="1.5 1.5" />
<circle cx="182.00" cy="435.50" r="6.30" fill="none" stroke="#de2a38" stroke-width="1.00"/>
<line x1="172.00" y1="435.50" x2="192.00" y2="435.50" stroke="#de2a38" stroke-width="0.70" />
<line x1="182.50" y1="425.50" x2="182.50" y2="445.50" stroke="#de2a38" stroke-width="0.70" />
<text transform="translate(182.00 435.50)" y="2.34" font-size="6.50" fill="#5a2a7a" text-anchor="middle" >SD</text>
<circle cx="807.00" cy="505.00" r="6.30" fill="none" stroke="#de2a38" stroke-width="1.00"/>
<line x1="797.00" y1="505.50" x2="817.00" y2="505.50" stroke="#de2a38" stroke-width="0.70" />
<line x1="807.50" y1="495.00" x2="807.50" y2="515.00" stroke="#de2a38" stroke-width="0.70" />
<text transform="translate(807.00 505.00)" y="2.34" font-size="6.50" fill="#5a2a7a" text-anchor="middle" >SD</text>
<circle cx="983.00" cy="617.00" r="6.30" fill="none" stroke="#de2a38" stroke-width="1.00"/>
<line x1="973.00" y1="617.50" x2="993.00" y2="617.50" stroke="#de2a38" stroke-width="0.70" />
<line x1="983.50" y1="607.00" x2="983.50" y2="627.00" stroke="#de2a38" stroke-width="0.70" />
<text transform="translate(983.00 617.00)" y="2.34" font-size="6.50" fill="#5a2a7a" text-anchor="middle" >HD</text>
<path d="M204.5 332.5 q-1 -7 6.5 -7 q1.6 1.4 0 3 q-3 0 -3.2 4 q-1.6 1.4 -3.3 0z" fill="#2fd23a" stroke="none" stroke-width="1.00" />
<path d="M827.0 326.5 q-1 -7 6.5 -7 q1.6 1.4 0 3 q-3 0 -3.2 4 q-1.6 1.4 -3.3 0z" fill="#2fd23a" stroke="none" stroke-width="1.00" />
<path d="M839.5 607.5 q-1 -7 6.5 -7 q1.6 1.4 0 3 q-3 0 -3.2 4 q-1.6 1.4 -3.3 0z" fill="#2fd23a" stroke="none" stroke-width="1.00" />
<path d="M1054.0 635.5 q-1 -7 6.5 -7 q1.6 1.4 0 3 q-3 0 -3.2 4 q-1.6 1.4 -3.3 0z" fill="#2fd23a" stroke="none" stroke-width="1.00" />
<path d="M329.5 388.5 q-1 -7 6.5 -7 q1.6 1.4 0 3 q-3 0 -3.2 4 q-1.6 1.4 -3.3 0z" fill="#1e8fe6" stroke="none" stroke-width="1.00" />
<path d="M475.0 525.5 q-1 -7 6.5 -7 q1.6 1.4 0 3 q-3 0 -3.2 4 q-1.6 1.4 -3.3 0z" fill="#1e8fe6" stroke="none" stroke-width="1.00" />
<line x1="93.00" y1="19.50" x2="1258.00" y2="19.50" stroke="#de2a38" stroke-width="1.20" />
<line x1="92.50" y1="24.00" x2="101.50" y2="15.00" stroke="#de2a38" stroke-width="1.20" />
<line x1="230.50" y1="24.00" x2="239.50" y2="15.00" stroke="#de2a38" stroke-width="1.20" />
<line x1="1249.50" y1="24.00" x2="1258.50" y2="15.00" stroke="#de2a38" stroke-width="1.20" />
<text transform="translate(166.00 11.00)" y="4.61" font-size="12.80" fill="#de2a38" text-anchor="middle" >1850</text>
<text transform="translate(744.50 11.00)" y="4.61" font-size="12.80" fill="#de2a38" text-anchor="middle" >13650</text>
<line x1="97.50" y1="8.00" x2="97.50" y2="175.00" stroke="#de2a38" stroke-width="1.00" />
<line x1="235.50" y1="8.00" x2="235.50" y2="88.00" stroke="#de2a38" stroke-width="1.00" />
<line x1="1254.50" y1="8.00" x2="1254.50" y2="88.00" stroke="#de2a38" stroke-width="1.00" />
<line x1="229.00" y1="57.50" x2="1260.00" y2="57.50" stroke="#de2a38" stroke-width="1.20" />
<line x1="230.50" y1="61.50" x2="239.50" y2="52.50" stroke="#de2a38" stroke-width="1.20" />
<line x1="359.50" y1="61.50" x2="368.50" y2="52.50" stroke="#de2a38" stroke-width="1.20" />
<line x1="466.50" y1="61.50" x2="475.50" y2="52.50" stroke="#de2a38" stroke-width="1.20" />
<line x1="600.50" y1="61.50" x2="609.50" y2="52.50" stroke="#de2a38" stroke-width="1.20" />
<line x1="692.50" y1="61.50" x2="701.50" y2="52.50" stroke="#de2a38" stroke-width="1.20" />
<line x1="942.50" y1="61.50" x2="951.50" y2="52.50" stroke="#de2a38" stroke-width="1.20" />
<line x1="1165.50" y1="61.50" x2="1174.50" y2="52.50" stroke="#de2a38" stroke-width="1.20" />
<line x1="1249.50" y1="61.50" x2="1258.50" y2="52.50" stroke="#de2a38" stroke-width="1.20" />
<text transform="translate(299.50 49.00)" y="4.61" font-size="12.80" fill="#de2a38" text-anchor="middle" >1735</text>
<text transform="translate(417.50 49.00)" y="4.61" font-size="12.80" fill="#de2a38" text-anchor="middle" >1425</text>
<text transform="translate(538.00 49.00)" y="4.61" font-size="12.80" fill="#de2a38" text-anchor="middle" >1790</text>
<text transform="translate(651.00 49.00)" y="4.61" font-size="12.80" fill="#de2a38" text-anchor="middle" >1225</text>
<text transform="translate(822.00 49.00)" y="4.61" font-size="12.80" fill="#de2a38" text-anchor="middle" >3350</text>
<text transform="translate(1058.50 49.00)" y="4.61" font-size="12.80" fill="#de2a38" text-anchor="middle" >3000</text>
<text transform="translate(1212.00 49.00)" y="4.61" font-size="12.80" fill="#de2a38" text-anchor="middle" >1125</text>
<line x1="364.50" y1="45.00" x2="364.50" y2="88.00" stroke="#de2a38" stroke-width="1.00" />
<line x1="471.50" y1="45.00" x2="471.50" y2="88.00" stroke="#de2a38" stroke-width="1.00" />
<line x1="605.50" y1="45.00" x2="605.50" y2="88.00" stroke="#de2a38" stroke-width="1.00" />
<line x1="697.50" y1="45.00" x2="697.50" y2="88.00" stroke="#de2a38" stroke-width="1.00" />
<line x1="947.50" y1="45.00" x2="947.50" y2="88.00" stroke="#de2a38" stroke-width="1.00" />
<line x1="1170.50" y1="45.00" x2="1170.50" y2="88.00" stroke="#de2a38" stroke-width="1.00" />
<line x1="843.50" y1="119.50" x2="918.00" y2="119.50" stroke="#de2a38" stroke-width="1.20" />
<line x1="843.00" y1="123.50" x2="852.00" y2="114.50" stroke="#de2a38" stroke-width="1.20" />
<line x1="874.50" y1="123.50" x2="883.50" y2="114.50" stroke="#de2a38" stroke-width="1.20" />
<line x1="909.50" y1="123.50" x2="918.50" y2="114.50" stroke="#de2a38" stroke-width="1.20" />
<line x1="829.00" y1="119.50" x2="936.00" y2="119.50" stroke="#de2a38" stroke-width="1.00" />
<line x1="847.50" y1="107.00" x2="847.50" y2="124.00" stroke="#de2a38" stroke-width="1.00" />
<line x1="879.50" y1="107.00" x2="879.50" y2="124.00" stroke="#de2a38" stroke-width="1.00" />
<line x1="914.50" y1="107.00" x2="914.50" y2="175.00" stroke="#de2a38" stroke-width="1.00" />
<text transform="translate(838.00 112.00)" y="3.24" font-size="9.00" fill="#de2a38" text-anchor="middle" font-weight="bold" >419</text>
<text transform="translate(928.00 112.00)" y="3.24" font-size="9.00" fill="#de2a38" text-anchor="middle" font-weight="bold" >458</text>
<line x1="21.50" y1="128.00" x2="21.50" y2="778.00" stroke="#de2a38" stroke-width="1.20" />
<line x1="17.00" y1="127.50" x2="26.00" y2="136.50" stroke="#de2a38" stroke-width="1.20" />
<line x1="17.00" y1="205.50" x2="26.00" y2="214.50" stroke="#de2a38" stroke-width="1.20" />
<line x1="17.00" y1="620.00" x2="26.00" y2="629.00" stroke="#de2a38" stroke-width="1.20" />
<line x1="17.00" y1="698.50" x2="26.00" y2="707.50" stroke="#de2a38" stroke-width="1.20" />
<line x1="17.00" y1="769.50" x2="26.00" y2="778.50" stroke="#de2a38" stroke-width="1.20" />
<text transform="translate(14.00 171.00) rotate(-90.00)" y="4.61" font-size="12.80" fill="#de2a38" text-anchor="middle" >1050</text>
<text transform="translate(14.00 417.25) rotate(-90.00)" y="4.61" font-size="12.80" fill="#de2a38" text-anchor="middle" >5550</text>
<text transform="translate(14.00 663.75) rotate(-90.00)" y="4.61" font-size="12.80" fill="#de2a38" text-anchor="middle" >1650</text>
<text transform="translate(14.00 738.50) rotate(-90.00)" y="4.61" font-size="12.80" fill="#de2a38" text-anchor="middle" >950</text>
<line x1="10.00" y1="132.50" x2="52.00" y2="132.50" stroke="#de2a38" stroke-width="1.00" />
<line x1="10.00" y1="210.50" x2="80.00" y2="210.50" stroke="#de2a38" stroke-width="1.00" />
<line x1="10.00" y1="624.50" x2="80.00" y2="624.50" stroke="#de2a38" stroke-width="1.00" />
<line x1="10.00" y1="703.50" x2="60.00" y2="703.50" stroke="#de2a38" stroke-width="1.00" />
<line x1="10.00" y1="774.50" x2="60.00" y2="774.50" stroke="#de2a38" stroke-width="1.00" />
<line x1="59.50" y1="207.00" x2="59.50" y2="627.50" stroke="#de2a38" stroke-width="1.20" />
<line x1="55.00" y1="205.50" x2="64.00" y2="214.50" stroke="#de2a38" stroke-width="1.20" />
<line x1="55.00" y1="424.50" x2="64.00" y2="433.50" stroke="#de2a38" stroke-width="1.20" />
<line x1="55.00" y1="472.50" x2="64.00" y2="481.50" stroke="#de2a38" stroke-width="1.20" />
<line x1="55.00" y1="620.00" x2="64.00" y2="629.00" stroke="#de2a38" stroke-width="1.20" />
<text transform="translate(52.50 319.50) rotate(-90.00)" y="4.61" font-size="12.80" fill="#de2a38" text-anchor="middle" >2930</text>
<text transform="translate(52.50 453.00) rotate(-90.00)" y="4.61" font-size="12.80" fill="#de2a38" text-anchor="middle" >635</text>
<text transform="translate(52.50 550.75) rotate(-90.00)" y="4.61" font-size="12.80" fill="#de2a38" text-anchor="middle" >1985</text>
<line x1="49.00" y1="429.50" x2="94.00" y2="429.50" stroke="#de2a38" stroke-width="1.00" />
<line x1="49.00" y1="477.50" x2="94.00" y2="477.50" stroke="#de2a38" stroke-width="1.00" />
<line x1="1330.50" y1="127.00" x2="1330.50" y2="778.00" stroke="#de2a38" stroke-width="1.20" />
<line x1="1325.50" y1="126.50" x2="1334.50" y2="135.50" stroke="#de2a38" stroke-width="1.20" />
<line x1="1325.50" y1="231.50" x2="1334.50" y2="240.50" stroke="#de2a38" stroke-width="1.20" />
<line x1="1325.50" y1="338.50" x2="1334.50" y2="347.50" stroke="#de2a38" stroke-width="1.20" />
<line x1="1325.50" y1="559.50" x2="1334.50" y2="568.50" stroke="#de2a38" stroke-width="1.20" />
<line x1="1325.50" y1="665.50" x2="1334.50" y2="674.50" stroke="#de2a38" stroke-width="1.20" />
<line x1="1325.50" y1="769.50" x2="1334.50" y2="778.50" stroke="#de2a38" stroke-width="1.20" />
<text transform="translate(1322.50 183.50) rotate(-90.00)" y="4.61" font-size="12.80" fill="#de2a38" text-anchor="middle" >1400</text>
<text transform="translate(1322.50 289.50) rotate(-90.00)" y="4.61" font-size="12.80" fill="#de2a38" text-anchor="middle" >1425</text>
<text transform="translate(1322.50 453.50) rotate(-90.00)" y="4.61" font-size="12.80" fill="#de2a38" text-anchor="middle" >2950</text>
<text transform="translate(1322.50 617.00) rotate(-90.00)" y="4.61" font-size="12.80" fill="#de2a38" text-anchor="middle" >1425</text>
<text transform="translate(1322.50 722.00) rotate(-90.00)" y="4.61" font-size="12.80" fill="#de2a38" text-anchor="middle" >1400</text>
<line x1="1367.50" y1="127.00" x2="1367.50" y2="778.00" stroke="#de2a38" stroke-width="1.20" />
<line x1="1362.50" y1="126.50" x2="1371.50" y2="135.50" stroke="#de2a38" stroke-width="1.20" />
<line x1="1362.50" y1="769.50" x2="1371.50" y2="778.50" stroke="#de2a38" stroke-width="1.20" />
<text transform="translate(1360.00 452.50) rotate(-90.00)" y="4.61" font-size="12.80" fill="#de2a38" text-anchor="middle" >8600</text>
<line x1="1297.50" y1="131.50" x2="1377.50" y2="131.50" stroke="#de2a38" stroke-width="1.00" />
<line x1="1297.50" y1="774.50" x2="1380.00" y2="774.50" stroke="#de2a38" stroke-width="1.00" />
<line x1="1297.50" y1="236.50" x2="1342.50" y2="236.50" stroke="#de2a38" stroke-width="1.00" />
<line x1="1297.50" y1="343.50" x2="1342.50" y2="343.50" stroke="#de2a38" stroke-width="1.00" />
<line x1="1297.50" y1="564.50" x2="1342.50" y2="564.50" stroke="#de2a38" stroke-width="1.00" />
<line x1="1297.50" y1="670.50" x2="1342.50" y2="670.50" stroke="#de2a38" stroke-width="1.00" />
<line x1="92.00" y1="877.50" x2="1259.00" y2="877.50" stroke="#de2a38" stroke-width="1.20" />
<line x1="92.50" y1="882.00" x2="101.50" y2="873.00" stroke="#de2a38" stroke-width="1.20" />
<line x1="230.50" y1="882.00" x2="239.50" y2="873.00" stroke="#de2a38" stroke-width="1.20" />
<line x1="361.00" y1="882.00" x2="370.00" y2="873.00" stroke="#de2a38" stroke-width="1.20" />
<line x1="467.50" y1="882.00" x2="476.50" y2="873.00" stroke="#de2a38" stroke-width="1.20" />
<line x1="617.50" y1="882.00" x2="626.50" y2="873.00" stroke="#de2a38" stroke-width="1.20" />
<line x1="733.00" y1="882.00" x2="742.00" y2="873.00" stroke="#de2a38" stroke-width="1.20" />
<line x1="796.50" y1="882.00" x2="805.50" y2="873.00" stroke="#de2a38" stroke-width="1.20" />
<line x1="830.50" y1="882.00" x2="839.50" y2="873.00" stroke="#de2a38" stroke-width="1.20" />
<line x1="858.00" y1="882.00" x2="867.00" y2="873.00" stroke="#de2a38" stroke-width="1.20" />
<line x1="979.50" y1="882.00" x2="988.50" y2="873.00" stroke="#de2a38" stroke-width="1.20" />
<line x1="1127.50" y1="882.00" x2="1136.50" y2="873.00" stroke="#de2a38" stroke-width="1.20" />
<line x1="1249.50" y1="882.00" x2="1258.50" y2="873.00" stroke="#de2a38" stroke-width="1.20" />
<text transform="translate(166.00 869.00)" y="4.61" font-size="12.80" fill="#de2a38" text-anchor="middle" >1850</text>
<text transform="translate(300.25 869.00)" y="4.61" font-size="12.80" fill="#de2a38" text-anchor="middle" >1740</text>
<text transform="translate(418.75 869.00)" y="4.61" font-size="12.80" fill="#de2a38" text-anchor="middle" >1425</text>
<text transform="translate(547.00 869.00)" y="4.61" font-size="12.80" fill="#de2a38" text-anchor="middle" >2010</text>
<text transform="translate(679.75 869.00)" y="4.61" font-size="12.80" fill="#de2a38" text-anchor="middle" >1550</text>
<text transform="translate(769.25 869.00)" y="4.61" font-size="12.80" fill="#de2a38" text-anchor="middle" >860</text>
<text transform="translate(818.00 869.00)" y="4.61" font-size="12.80" fill="#de2a38" text-anchor="middle" >450</text>
<text transform="translate(848.75 869.00)" y="4.61" font-size="12.80" fill="#de2a38" text-anchor="middle" >365</text>
<text transform="translate(923.25 869.00)" y="4.61" font-size="12.80" fill="#de2a38" text-anchor="middle" >1632.5</text>
<text transform="translate(1058.00 869.00)" y="4.61" font-size="12.80" fill="#de2a38" text-anchor="middle" >1985</text>
<text transform="translate(1193.00 869.00)" y="4.61" font-size="12.80" fill="#de2a38" text-anchor="middle" >1632.5</text>
<line x1="97.50" y1="845.00" x2="97.50" y2="887.50" stroke="#de2a38" stroke-width="1.00" />
<line x1="235.50" y1="845.00" x2="235.50" y2="887.50" stroke="#de2a38" stroke-width="1.00" />
<line x1="365.50" y1="845.00" x2="365.50" y2="887.50" stroke="#de2a38" stroke-width="1.00" />
<line x1="472.50" y1="845.00" x2="472.50" y2="887.50" stroke="#de2a38" stroke-width="1.00" />
<line x1="622.50" y1="845.00" x2="622.50" y2="887.50" stroke="#de2a38" stroke-width="1.00" />
<line x1="737.50" y1="845.00" x2="737.50" y2="887.50" stroke="#de2a38" stroke-width="1.00" />
<line x1="801.50" y1="845.00" x2="801.50" y2="887.50" stroke="#de2a38" stroke-width="1.00" />
<line x1="835.50" y1="845.00" x2="835.50" y2="887.50" stroke="#de2a38" stroke-width="1.00" />
<line x1="862.50" y1="845.00" x2="862.50" y2="887.50" stroke="#de2a38" stroke-width="1.00" />
<line x1="984.50" y1="845.00" x2="984.50" y2="887.50" stroke="#de2a38" stroke-width="1.00" />
<line x1="1132.50" y1="845.00" x2="1132.50" y2="887.50" stroke="#de2a38" stroke-width="1.00" />
<line x1="1254.50" y1="845.00" x2="1254.50" y2="887.50" stroke="#de2a38" stroke-width="1.00" />
<path d="M97.5 887 V908.0 q0.5 3.5 4 -1" fill="none" stroke="#de2a38" stroke-width="1.10" />
<path d="M862.5 887 V909.0 q0.5 3.5 4 -1" fill="none" stroke="#de2a38" stroke-width="1.10" />
<path d="M1254.5 887 V908.0 q0.5 3.5 4 -1" fill="none" stroke="#de2a38" stroke-width="1.10" />
<line x1="862.50" y1="706.00" x2="862.50" y2="845.00" stroke="#de2a38" stroke-width="1.00" />
<text transform="translate(481.00 907.00)" y="4.61" font-size="12.80" fill="#de2a38" text-anchor="middle" >10250</text>
<text transform="translate(1059.00 907.00)" y="4.61" font-size="12.80" fill="#de2a38" text-anchor="middle" >5250</text>
<line x1="577.50" y1="803.50" x2="868.00" y2="803.50" stroke="#de2a38" stroke-width="1.00" />
<line x1="582.50" y1="774.00" x2="582.50" y2="815.00" stroke="#de2a38" stroke-width="1.00" />
<line x1="839.50" y1="774.00" x2="839.50" y2="815.00" stroke="#de2a38" stroke-width="1.00" />
<line x1="862.50" y1="795.00" x2="862.50" y2="815.00" stroke="#de2a38" stroke-width="1.00" />
<line x1="579.00" y1="806.50" x2="586.00" y2="799.50" stroke="#de2a38" stroke-width="1.10" />
<line x1="836.00" y1="806.50" x2="843.00" y2="799.50" stroke="#de2a38" stroke-width="1.10" />
<line x1="859.00" y1="806.50" x2="866.00" y2="799.50" stroke="#de2a38" stroke-width="1.10" />
<text transform="translate(712.00 795.00)" y="4.61" font-size="12.80" fill="#de2a38" text-anchor="middle" >3450</text>
<text transform="translate(851.00 795.00)" y="4.61" font-size="12.80" fill="#de2a38" text-anchor="middle" >300</text>
<line x1="606.50" y1="697.50" x2="606.50" y2="771.00" stroke="#de2a38" stroke-width="1.00" />
<line x1="590.00" y1="767.50" x2="617.00" y2="767.50" stroke="#de2a38" stroke-width="1.00" />
<line x1="602.50" y1="770.50" x2="609.50" y2="763.50" stroke="#de2a38" stroke-width="1.10" />
<line x1="602.50" y1="703.00" x2="609.50" y2="696.00" stroke="#de2a38" stroke-width="1.10" />
<text transform="translate(597.00 735.00) rotate(-90.00)" y="4.61" font-size="12.80" fill="#de2a38" text-anchor="middle" >850</text>
<line x1="135.00" y1="340.50" x2="750.00" y2="340.50" stroke="#de2a38" stroke-width="1.00" />
<line x1="137.00" y1="344.00" x2="144.00" y2="337.00" stroke="#de2a38" stroke-width="1.10" />
<line x1="266.50" y1="344.00" x2="273.50" y2="337.00" stroke="#de2a38" stroke-width="1.10" />
<line x1="275.00" y1="344.00" x2="282.00" y2="337.00" stroke="#de2a38" stroke-width="1.10" />
<line x1="543.50" y1="344.00" x2="550.50" y2="337.00" stroke="#de2a38" stroke-width="1.10" />
<line x1="552.00" y1="344.00" x2="559.00" y2="337.00" stroke="#de2a38" stroke-width="1.10" />
<line x1="743.00" y1="344.00" x2="750.00" y2="337.00" stroke="#de2a38" stroke-width="1.10" />
<text transform="translate(184.00 332.00)" y="4.61" font-size="12.80" fill="#de2a38" text-anchor="middle" >1760</text>
<text transform="translate(286.00 332.00)" y="4.61" font-size="12.80" fill="#de2a38" text-anchor="middle" >90</text>
<text transform="translate(413.00 332.00)" y="4.61" font-size="12.80" fill="#de2a38" text-anchor="middle" >3622</text>
<text transform="translate(534.50 332.00)" y="4.61" font-size="12.80" fill="#de2a38" text-anchor="middle" >90</text>
<text transform="translate(678.00 332.00)" y="4.61" font-size="12.80" fill="#de2a38" text-anchor="middle" >2580</text>
<text transform="translate(735.00 332.00)" y="4.61" font-size="12.80" fill="#de2a38" text-anchor="middle" >90</text>
<line x1="750.00" y1="358.50" x2="1214.00" y2="358.50" stroke="#de2a38" stroke-width="1.00" />
<line x1="751.50" y1="361.50" x2="758.50" y2="354.50" stroke="#de2a38" stroke-width="1.10" />
<line x1="892.50" y1="361.50" x2="899.50" y2="354.50" stroke="#de2a38" stroke-width="1.10" />
<line x1="901.50" y1="361.50" x2="908.50" y2="354.50" stroke="#de2a38" stroke-width="1.10" />
<line x1="1207.50" y1="361.50" x2="1214.50" y2="354.50" stroke="#de2a38" stroke-width="1.10" />
<text transform="translate(826.00 349.50)" y="4.61" font-size="12.80" fill="#de2a38" text-anchor="middle" >1928</text>
<text transform="translate(912.00 349.50)" y="4.61" font-size="12.80" fill="#de2a38" text-anchor="middle" >90</text>
<text transform="translate(1059.00 349.50)" y="4.61" font-size="12.80" fill="#de2a38" text-anchor="middle" >4130</text>
<line x1="238.50" y1="250.00" x2="238.50" y2="586.00" stroke="#de2a38" stroke-width="1.00" />
<line x1="227.00" y1="408.50" x2="265.00" y2="408.50" stroke="#de2a38" stroke-width="1.00" />
<line x1="227.00" y1="416.50" x2="265.00" y2="416.50" stroke="#de2a38" stroke-width="1.00" />
<line x1="227.00" y1="489.50" x2="245.00" y2="489.50" stroke="#de2a38" stroke-width="1.00" />
<line x1="227.00" y1="497.50" x2="245.00" y2="497.50" stroke="#de2a38" stroke-width="1.00" />
<line x1="235.25" y1="249.50" x2="242.25" y2="256.50" stroke="#de2a38" stroke-width="1.10" />
<line x1="235.25" y1="337.00" x2="242.25" y2="344.00" stroke="#de2a38" stroke-width="1.10" />
<line x1="235.25" y1="404.50" x2="242.25" y2="411.50" stroke="#de2a38" stroke-width="1.10" />
<line x1="235.25" y1="412.50" x2="242.25" y2="419.50" stroke="#de2a38" stroke-width="1.10" />
<line x1="235.25" y1="486.00" x2="242.25" y2="493.00" stroke="#de2a38" stroke-width="1.10" />
<line x1="235.25" y1="494.00" x2="242.25" y2="501.00" stroke="#de2a38" stroke-width="1.10" />
<line x1="235.25" y1="577.50" x2="242.25" y2="584.50" stroke="#de2a38" stroke-width="1.10" />
<text transform="translate(231.00 337.00) rotate(-90.00)" y="4.61" font-size="12.80" fill="#de2a38" text-anchor="middle" >95</text>
<text transform="translate(231.00 398.00) rotate(-90.00)" y="4.61" font-size="12.80" fill="#de2a38" text-anchor="middle" >190</text>
<text transform="translate(231.00 451.00) rotate(-90.00)" y="4.61" font-size="12.80" fill="#de2a38" text-anchor="middle" >1005</text>
<text transform="translate(231.00 506.00) rotate(-90.00)" y="4.61" font-size="12.80" fill="#de2a38" text-anchor="middle" >90</text>
<text transform="translate(231.00 552.50) rotate(-90.00)" y="4.61" font-size="12.80" fill="#de2a38" text-anchor="middle" >1150</text>
<line x1="528.50" y1="171.00" x2="528.50" y2="664.00" stroke="#de2a38" stroke-width="1.00" />
<line x1="524.50" y1="171.50" x2="531.50" y2="178.50" stroke="#de2a38" stroke-width="1.10" />
<line x1="524.50" y1="382.50" x2="531.50" y2="389.50" stroke="#de2a38" stroke-width="1.10" />
<line x1="524.50" y1="391.00" x2="531.50" y2="398.00" stroke="#de2a38" stroke-width="1.10" />
<line x1="524.50" y1="486.00" x2="531.50" y2="493.00" stroke="#de2a38" stroke-width="1.10" />
<line x1="524.50" y1="494.00" x2="531.50" y2="501.00" stroke="#de2a38" stroke-width="1.10" />
<line x1="524.50" y1="657.50" x2="531.50" y2="664.50" stroke="#de2a38" stroke-width="1.10" />
<text transform="translate(520.00 280.00) rotate(-90.00)" y="4.61" font-size="12.80" fill="#de2a38" text-anchor="middle" >2845</text>
<text transform="translate(520.00 374.50) rotate(-90.00)" y="4.61" font-size="12.80" fill="#de2a38" text-anchor="middle" >90</text>
<text transform="translate(520.00 440.50) rotate(-90.00)" y="4.61" font-size="12.80" fill="#de2a38" text-anchor="middle" >1305</text>
<text transform="translate(520.00 510.00) rotate(-90.00)" y="4.61" font-size="12.80" fill="#de2a38" text-anchor="middle" >90</text>
<text transform="translate(520.00 579.00) rotate(-90.00)" y="4.61" font-size="12.80" fill="#de2a38" text-anchor="middle" >2200</text>
<line x1="786.50" y1="178.00" x2="786.50" y2="664.00" stroke="#de2a38" stroke-width="1.00" />
<line x1="782.50" y1="171.50" x2="789.50" y2="178.50" stroke="#de2a38" stroke-width="1.10" />
<line x1="782.50" y1="377.50" x2="789.50" y2="384.50" stroke="#de2a38" stroke-width="1.10" />
<line x1="782.50" y1="386.00" x2="789.50" y2="393.00" stroke="#de2a38" stroke-width="1.10" />
<line x1="782.50" y1="513.00" x2="789.50" y2="520.00" stroke="#de2a38" stroke-width="1.10" />
<line x1="782.50" y1="522.00" x2="789.50" y2="529.00" stroke="#de2a38" stroke-width="1.10" />
<line x1="782.50" y1="657.50" x2="789.50" y2="664.50" stroke="#de2a38" stroke-width="1.10" />
<text transform="translate(777.50 277.50) rotate(-90.00)" y="4.61" font-size="12.80" fill="#de2a38" text-anchor="middle" >2784</text>
<text transform="translate(777.50 370.00) rotate(-90.00)" y="4.61" font-size="12.80" fill="#de2a38" text-anchor="middle" >90</text>
<text transform="translate(777.50 452.50) rotate(-90.00)" y="4.61" font-size="12.80" fill="#de2a38" text-anchor="middle" >1735</text>
<text transform="translate(777.50 538.00) rotate(-90.00)" y="4.61" font-size="12.80" fill="#de2a38" text-anchor="middle" >90</text>
<text transform="translate(777.50 592.50) rotate(-90.00)" y="4.61" font-size="12.80" fill="#de2a38" text-anchor="middle" >1832</text>
<line x1="1180.50" y1="175.00" x2="1180.50" y2="735.00" stroke="#de2a38" stroke-width="1.00" />
<line x1="1177.00" y1="171.50" x2="1184.00" y2="178.50" stroke="#de2a38" stroke-width="1.10" />
<line x1="1177.00" y1="727.50" x2="1184.00" y2="734.50" stroke="#de2a38" stroke-width="1.10" />
<text transform="translate(1172.50 452.50) rotate(-90.00)" y="4.61" font-size="12.80" fill="#de2a38" text-anchor="middle" >7480</text>
<line x1="571.00" y1="239.50" x2="665.00" y2="239.50" stroke="#de2a38" stroke-width="1.00" />
<line x1="625.50" y1="175.00" x2="625.50" y2="264.00" stroke="#de2a38" stroke-width="1.00" />
<text transform="translate(617.00 203.00) rotate(-90.00)" y="4.50" font-size="12.50" fill="#de2a38" text-anchor="middle" >1140</text>
<text transform="translate(603.00 231.00) scale(1.008 1)" y="5.04" font-size="14.00" fill="#de2a38" text-anchor="middle" >275 going</text>
<line x1="640.50" y1="224.00" x2="640.50" y2="258.00" stroke="#de2a38" stroke-width="1.00" />
<line x1="661.50" y1="224.00" x2="661.50" y2="251.50" stroke="#de2a38" stroke-width="1.00" />
<line x1="604.00" y1="260.50" x2="636.60" y2="260.50" stroke="#de2a38" stroke-width="1.00" />
<line x1="636.00" y1="243.50" x2="644.00" y2="235.50" stroke="#de2a38" stroke-width="1.20" />
<line x1="657.30" y1="243.50" x2="665.30" y2="235.50" stroke="#de2a38" stroke-width="1.20" />
<line x1="621.60" y1="256.50" x2="629.60" y2="264.50" stroke="#de2a38" stroke-width="1.20" />
<line x1="621.60" y1="173.50" x2="629.60" y2="181.50" stroke="#de2a38" stroke-width="1.20" />
<text transform="translate(703.00 194.00) scale(1.067 1)" y="4.14" font-size="11.50" fill="#de2a38" text-anchor="middle" >stairs finished</text>
<text transform="translate(703.00 208.00) scale(1.108 1)" y="4.14" font-size="11.50" fill="#de2a38" text-anchor="middle" >in oak</text>
<text transform="translate(627.50 919.00) scale(0.857 1)" y="6.30" font-size="17.50" fill="#1c1c7c" text-anchor="middle" >KEY</text>
<line x1="560.00" y1="942.00" x2="575.00" y2="942.00" stroke="#0f6b24" stroke-width="2.80" />
<line x1="582.50" y1="942.00" x2="603.50" y2="942.00" stroke="#0f6b24" stroke-width="2.80" />
<line x1="611.00" y1="942.00" x2="632.50" y2="942.00" stroke="#0f6b24" stroke-width="2.80" />
<line x1="640.00" y1="942.00" x2="655.00" y2="942.00" stroke="#0f6b24" stroke-width="2.80" />
<polygon points="585.50,942.00 595.50,938.75 595.50,945.25" fill="#0f6b24" stroke="none" stroke-width="1.00" />
<text transform="translate(667.50 942.00) scale(1.150 1)" y="3.24" font-size="9.00" fill="#1c1c7c" text-anchor="start" >mains gas</text>
<line x1="560.00" y1="966.00" x2="575.00" y2="966.00" stroke="#e0141e" stroke-width="2.80" />
<line x1="582.50" y1="966.00" x2="603.50" y2="966.00" stroke="#e0141e" stroke-width="2.80" />
<line x1="611.00" y1="966.00" x2="632.50" y2="966.00" stroke="#e0141e" stroke-width="2.80" />
<line x1="640.00" y1="966.00" x2="655.00" y2="966.00" stroke="#e0141e" stroke-width="2.80" />
<polygon points="585.50,966.00 595.50,962.75 595.50,969.25" fill="#e0141e" stroke="none" stroke-width="1.00" />
<text transform="translate(667.50 966.00) scale(1.150 1)" y="3.24" font-size="9.00" fill="#1c1c7c" text-anchor="start" >mains electric</text>
<line x1="560.00" y1="988.00" x2="575.00" y2="988.00" stroke="#1a1ad2" stroke-width="2.80" />
<line x1="582.50" y1="988.00" x2="603.50" y2="988.00" stroke="#1a1ad2" stroke-width="2.80" />
<line x1="611.00" y1="988.00" x2="632.50" y2="988.00" stroke="#1a1ad2" stroke-width="2.80" />
<line x1="640.00" y1="988.00" x2="655.00" y2="988.00" stroke="#1a1ad2" stroke-width="2.80" />
<polygon points="585.50,988.00 595.50,984.75 595.50,991.25" fill="#1a1ad2" stroke="none" stroke-width="1.00" />
<text transform="translate(667.50 988.00) scale(1.150 1)" y="3.24" font-size="9.00" fill="#1c1c7c" text-anchor="start" >mains water</text>
<text transform="translate(812.50 915.50) scale(1.139 1)" y="3.24" font-size="9.00" fill="#1c1c7c" text-anchor="start" >movement joint</text>
<text transform="translate(812.50 940.50) scale(1.089 1)" y="3.24" font-size="9.00" fill="#1c1c7c" text-anchor="start" >MVHR extract</text>
<text transform="translate(812.50 964.50) scale(1.052 1)" y="3.24" font-size="9.00" fill="#1c1c7c" text-anchor="start" >MVHR supply air</text>
<text transform="translate(812.50 989.00) scale(1.141 1)" y="3.24" font-size="9.00" fill="#1c1c7c" text-anchor="start" >timber frame opening widths</text>
<line x1="760.00" y1="991.50" x2="809.00" y2="991.50" stroke="#1e8fe6" stroke-width="1.00" />
<line x1="762.50" y1="994.50" x2="769.50" y2="987.50" stroke="#1e8fe6" stroke-width="1.00" />
<line x1="766.50" y1="981.00" x2="766.50" y2="997.00" stroke="#1e8fe6" stroke-width="0.80" />
<line x1="799.00" y1="994.50" x2="806.00" y2="987.50" stroke="#1e8fe6" stroke-width="1.00" />
<line x1="802.50" y1="981.00" x2="802.50" y2="997.00" stroke="#1e8fe6" stroke-width="0.80" />
<text transform="translate(784.00 985.50)" y="2.88" font-size="8.00" fill="#1e8fe6" text-anchor="middle" font-weight="bold" >500</text>
<path d="M781.0 943.5 q-1 -7 6.5 -7 q1.6 1.4 0 3 q-3 0 -3.2 4 q-1.6 1.4 -3.3 0z" fill="#2fd23a" stroke="none" stroke-width="1.00" />
<path d="M781.0 967.5 q-1 -7 6.5 -7 q1.6 1.4 0 3 q-3 0 -3.2 4 q-1.6 1.4 -3.3 0z" fill="#1e8fe6" stroke="none" stroke-width="1.00" />
<text transform="translate(425.00 280.00) scale(1.154 1)" y="6.12" font-size="17.00" fill="#1c1c7c" text-anchor="middle" >Bedroom 3</text>
<text transform="translate(425.00 298.00) scale(1.128 1)" y="4.14" font-size="11.50" fill="#de2a38" text-anchor="middle" >oak floor boards</text>
<text transform="translate(210.00 347.00) scale(1.128 1)" y="6.12" font-size="17.00" fill="#1c1c7c" text-anchor="middle" >Shower</text>
<text transform="translate(209.00 369.00) scale(1.103 1)" y="6.12" font-size="17.00" fill="#1c1c7c" text-anchor="middle" >Room</text>
<text transform="translate(211.00 388.00) scale(1.090 1)" y="4.14" font-size="11.50" fill="#de2a38" text-anchor="middle" >tiled</text>
<text transform="translate(362.00 447.00) scale(1.113 1)" y="6.12" font-size="17.00" fill="#1c1c7c" text-anchor="middle" >Inner Hall</text>
<text transform="translate(362.00 465.00) scale(1.128 1)" y="4.14" font-size="11.50" fill="#de2a38" text-anchor="middle" >oak floor boards</text>
<text transform="translate(668.00 449.00) scale(1.093 1)" y="6.12" font-size="17.00" fill="#1c1c7c" text-anchor="middle" >Hall</text>
<text transform="translate(668.00 467.00) scale(1.128 1)" y="4.14" font-size="11.50" fill="#de2a38" text-anchor="middle" >oak floor boards</text>
<text transform="translate(189.00 519.00) scale(1.048 1)" y="4.86" font-size="13.50" fill="#1c1c7c" text-anchor="middle" >Storage Cup'd</text>
<text transform="translate(189.00 531.00) scale(1.133 1)" y="2.88" font-size="8.00" fill="#de2a38" text-anchor="middle" >oak floor boards</text>
<text transform="translate(436.00 570.00) scale(1.154 1)" y="6.12" font-size="17.00" fill="#1c1c7c" text-anchor="middle" >Bedroom 4</text>
<text transform="translate(436.00 589.00) scale(1.128 1)" y="4.14" font-size="11.50" fill="#de2a38" text-anchor="middle" >oak floor boards</text>
<text transform="translate(584.00 581.00) rotate(-90.00) scale(1.141 1)" y="6.12" font-size="17.00" fill="#1c1c7c" text-anchor="middle" >cloaks</text>
<text transform="translate(805.50 601.00) scale(1.095 1)" y="6.12" font-size="17.00" fill="#1c1c7c" text-anchor="middle" >WC</text>
<text transform="translate(806.00 620.50) scale(1.090 1)" y="4.14" font-size="11.50" fill="#de2a38" text-anchor="middle" >tiled</text>
<text transform="translate(854.00 274.00) scale(1.015 1)" y="4.86" font-size="13.50" fill="#1c1c7c" text-anchor="middle" >Larder / Utility</text>
<text transform="translate(854.00 287.00) scale(1.133 1)" y="2.88" font-size="8.00" fill="#de2a38" text-anchor="middle" >oak floor boards</text>
<text transform="translate(1055.50 299.00) scale(1.124 1)" y="6.12" font-size="17.00" fill="#1c1c7c" text-anchor="middle" >Family Room</text>
<text transform="translate(1055.50 317.00) scale(1.128 1)" y="4.14" font-size="11.50" fill="#de2a38" text-anchor="middle" >oak floor boards</text>
<text transform="translate(1062.50 458.00) scale(1.141 1)" y="6.12" font-size="17.00" fill="#1c1c7c" text-anchor="middle" >Dining</text>
<text transform="translate(1059.00 564.50) scale(1.098 1)" y="4.14" font-size="11.50" fill="#1c1c7c" text-anchor="middle" >island</text>
<text transform="translate(1059.00 583.00) scale(1.155 1)" y="6.12" font-size="17.00" fill="#1c1c7c" text-anchor="middle" >Kitchen</text>
<text transform="translate(1059.00 601.00) scale(1.122 1)" y="4.14" font-size="11.50" fill="#de2a38" text-anchor="middle" >oak floor boards</text>
<text transform="translate(766.00 789.50) scale(1.126 1)" y="6.12" font-size="17.00" fill="#1c1c7c" text-anchor="middle" >Porch</text>
<text transform="translate(704.00 615.00) scale(1.273 1)" y="3.42" font-size="9.50" fill="#1c1c7c" text-anchor="middle" >matwell</text>
<text transform="translate(467.50 405.00) scale(1.149 1)" y="3.42" font-size="9.50" fill="#1c1c7c" text-anchor="middle" >shelves</text>
<text transform="translate(595.50 334.50) scale(1.114 1)" y="3.42" font-size="9.50" fill="#1c1c7c" text-anchor="middle" >stairs up</text>
<text transform="translate(592.50 367.50) scale(1.236 1)" y="3.42" font-size="9.50" fill="#1c1c7c" text-anchor="middle" >landing over</text>
<line x1="632.00" y1="368.50" x2="648.00" y2="368.50" stroke="#aaa" stroke-width="0.60" stroke-dasharray="3 2" />
<polygon points="661.00,368.00 650.00,370.50 650.00,365.50" fill="#1c1c7c" stroke="none" stroke-width="1.00" />
<text transform="translate(705.00 241.50) scale(1.256 1)" y="3.42" font-size="9.50" fill="#1c1c7c" text-anchor="middle" >cup'd under</text>
<rect x="626.00" y="489.00" width="82.00" height="28.00" fill="none" stroke="#d9a0a0" stroke-width="0.70" stroke-dasharray="1.2 1.2"/>
<text transform="translate(667.50 498.00) scale(1.125 1)" y="3.24" font-size="9.00" fill="#d01a26" text-anchor="middle" font-weight="bold" >FFL / top of slab</text>
<text transform="translate(667.50 510.00) scale(1.162 1)" y="3.24" font-size="9.00" fill="#d01a26" text-anchor="middle" font-weight="bold" >75.490</text>
<text transform="translate(170.00 260.00) scale(1.100 1)" y="2.70" font-size="7.50" fill="#1c1c7c" text-anchor="middle" >SP +A.A.V.</text>
<text transform="translate(170.00 269.00) scale(1.100 1)" y="2.70" font-size="7.50" fill="#1c1c7c" text-anchor="middle" >in boxing</text>
<text transform="translate(236.00 290.00) scale(1.100 1)" y="2.70" font-size="7.50" fill="#1c1c7c" text-anchor="middle" >shower</text>
<text transform="translate(304.00 555.00) scale(1.100 1)" y="2.70" font-size="7.50" fill="#1c1c7c" text-anchor="start" >SP from ensuite</text>
<text transform="translate(304.00 564.50) scale(1.100 1)" y="2.70" font-size="7.50" fill="#1c1c7c" text-anchor="start" >above</text>
<text transform="translate(797.00 295.00) scale(1.100 1)" y="2.16" font-size="6.00" fill="#1c1c7c" text-anchor="middle" >TD</text>
<text transform="translate(795.00 249.00) scale(1.100 1)" y="2.16" font-size="6.00" fill="#1c1c7c" text-anchor="middle" >WM</text>
<text transform="translate(831.00 364.00) scale(1.100 1)" y="2.70" font-size="7.50" fill="#1c1c7c" text-anchor="middle" >MVHR riser</text>
<text transform="translate(831.00 374.00) scale(1.100 1)" y="2.70" font-size="7.50" fill="#1c1c7c" text-anchor="middle" >ducts over</text>
<text transform="translate(843.00 587.50) scale(1.100 1)" y="2.70" font-size="7.50" fill="#1c1c7c" text-anchor="middle" >MVHR</text>
<text transform="translate(843.00 597.00) scale(1.100 1)" y="2.70" font-size="7.50" fill="#1c1c7c" text-anchor="middle" >extract</text>
<text transform="translate(1078.00 628.00) scale(1.100 1)" y="2.70" font-size="7.50" fill="#1c1c7c" text-anchor="middle" >MVHR</text>
<text transform="translate(1078.00 638.00) scale(1.100 1)" y="2.70" font-size="7.50" fill="#1c1c7c" text-anchor="middle" >extract</text>
<text transform="translate(859.00 642.00) scale(1.100 1)" y="2.70" font-size="7.50" fill="#1c1c7c" text-anchor="end" >SP to bathroom</text>
<text transform="translate(859.00 651.00) scale(1.100 1)" y="2.70" font-size="7.50" fill="#1c1c7c" text-anchor="end" >above</text>
<text transform="translate(1034.00 678.00) scale(1.100 1)" y="2.70" font-size="7.50" fill="#1c1c7c" text-anchor="middle" >SP +A.A.V. below</text>
<text transform="translate(286.00 126.00) scale(1.100 1)" y="2.70" font-size="7.50" fill="#1c1c7c" text-anchor="middle" >RWP</text>
<text transform="translate(147.50 205.00) scale(1.100 1)" y="2.70" font-size="7.50" fill="#1c1c7c" text-anchor="middle" >RWP</text>
<text transform="translate(132.50 652.00) scale(1.100 1)" y="2.70" font-size="7.50" fill="#1c1c7c" text-anchor="middle" >RWP</text>
<text transform="translate(601.00 781.00) scale(1.100 1)" y="2.70" font-size="7.50" fill="#1c1c7c" text-anchor="middle" >RWP</text>
<text transform="translate(1269.50 185.00) scale(1.100 1)" y="2.70" font-size="7.50" fill="#1c1c7c" text-anchor="middle" >RWP</text>
<text transform="translate(1263.00 749.00) scale(1.100 1)" y="2.70" font-size="7.50" fill="#1c1c7c" text-anchor="middle" >RWP</text>
<text transform="translate(645.00 185.20)" y="2.52" font-size="7.00" fill="#44446a" text-anchor="middle" >5</text>
<text transform="translate(665.00 185.20)" y="2.52" font-size="7.00" fill="#44446a" text-anchor="middle" >6</text>
<text transform="translate(564.70 254.00)" y="2.52" font-size="7.00" fill="#1c1c7c" text-anchor="middle" >4</text>
<text transform="translate(564.70 272.80)" y="2.52" font-size="7.00" fill="#1c1c7c" text-anchor="middle" >3</text>
<text transform="translate(564.70 293.20)" y="2.52" font-size="7.00" fill="#1c1c7c" text-anchor="middle" >2</text>
<text transform="translate(564.70 311.00)" y="2.52" font-size="7.00" fill="#1c1c7c" text-anchor="middle" >1</text>
<text transform="translate(1035.00 699.50) scale(1.012 1)" y="3.60" font-size="10.00" fill="#1c1c7c" text-anchor="middle" >sink</text>
<rect x="791.00" y="200.00" width="41.00" height="10.00" fill="#f7ee3a" stroke="none" stroke-width="0.60" />
<text transform="translate(811.50 205.00) scale(1.131 1)" y="2.34" font-size="6.50" fill="#3a3a10" text-anchor="middle" font-weight="bold" >SP +A.A.V.</text>
<rect x="97.00" y="704.00" width="36.00" height="7.50" fill="#f7ee3a" stroke="none" stroke-width="0.60" />
<rect x="100.00" y="712.50" width="30.00" height="8.00" fill="#f7ee3a" stroke="none" stroke-width="0.60" />
<rect x="96.00" y="722.00" width="38.50" height="8.00" fill="#f7ee3a" stroke="none" stroke-width="0.60" />
<text transform="translate(115.50 707.50) scale(1.102 1)" y="2.70" font-size="7.50" fill="#151540" text-anchor="middle" stroke="#151540" stroke-width="0.2">foul drain</text>
<text transform="translate(115.50 716.50) scale(1.087 1)" y="2.70" font-size="7.50" fill="#151540" text-anchor="middle" stroke="#151540" stroke-width="0.2">external</text>
<text transform="translate(115.50 726.00) scale(1.096 1)" y="2.70" font-size="7.50" fill="#151540" text-anchor="middle" stroke="#151540" stroke-width="0.2">vent stock</text>
<polygon points="766.50,184.00 772.12,191.31 768.49,193.00" fill="#1c1c7c" stroke="none" stroke-width="1.00" />
<line x1="770.00" y1="191.00" x2="790.00" y2="205.00" stroke="#8890c0" stroke-width="0.60" stroke-dasharray="2 1.5" />
<polygon points="773.00,336.00 781.15,342.21 777.70,345.11" fill="#1c1c7c" stroke="none" stroke-width="1.00" />
<line x1="779.00" y1="344.00" x2="805.00" y2="370.00" stroke="#ccc" stroke-width="0.60" />
<polygon points="887.00,337.00 881.98,345.94 878.64,342.93" fill="#1c1c7c" stroke="none" stroke-width="1.00" />
<line x1="880.00" y1="344.50" x2="860.00" y2="365.00" stroke="#999" stroke-width="0.60" />
<polygon points="889.00,178.00 897.15,184.21 893.70,187.11" fill="#1c1c7c" stroke="none" stroke-width="1.00" />
<line x1="895.00" y1="185.00" x2="945.00" y2="226.00" stroke="#bbb" stroke-width="0.60" />
<line x1="945.00" y1="226.50" x2="962.00" y2="226.50" stroke="#bbb" stroke-width="0.60" />
<polygon points="1089.00,170.30 1100.00,167.80 1100.00,172.80" fill="#1c1c7c" stroke="none" stroke-width="1.00" />
<line x1="1099.00" y1="170.50" x2="1140.00" y2="170.50" stroke="#bbb" stroke-width="0.70" />
<polygon points="269.00,571.00 273.95,563.22 276.78,566.05" fill="#1c1c7c" stroke="none" stroke-width="1.00" />
<line x1="273.00" y1="566.00" x2="285.00" y2="556.00" stroke="#aaa" stroke-width="0.60" />
<line x1="285.00" y1="556.50" x2="302.00" y2="556.50" stroke="#aaa" stroke-width="0.60" />
<polygon points="163.00,641.50 158.89,649.75 155.78,647.24" fill="#1c1c7c" stroke="none" stroke-width="1.00" />
<line x1="125.00" y1="689.00" x2="158.00" y2="647.00" stroke="#5560a0" stroke-width="0.70" />
<polygon points="950.00,527.00 956.21,518.85 959.11,522.30" fill="#1c1c7c" stroke="none" stroke-width="1.00" />
<line x1="957.00" y1="521.00" x2="975.00" y2="511.00" stroke="#aaa" stroke-width="0.60" />
<line x1="975.00" y1="511.50" x2="1028.00" y2="511.50" stroke="#aaa" stroke-width="0.60" />
<polygon points="944.00,722.00 945.66,711.89 949.83,713.57" fill="#1c1c7c" stroke="none" stroke-width="1.00" />
<line x1="948.00" y1="713.00" x2="962.00" y2="679.00" stroke="#8890c0" stroke-width="0.60" />
<line x1="962.00" y1="679.50" x2="990.00" y2="679.50" stroke="#aaa" stroke-width="0.60" />
<polygon points="885.00,643.50 875.00,645.75 875.00,641.25" fill="#1c1c7c" stroke="none" stroke-width="1.00" />
<line x1="862.00" y1="643.50" x2="875.00" y2="643.50" stroke="#8890c0" stroke-width="0.60" />
<polygon points="606.00,695.00 599.13,690.32 602.58,687.43" fill="#1c1c7c" stroke="none" stroke-width="1.00" />
<polygon points="606.00,706.00 600.20,711.95 597.95,708.05" fill="#1c1c7c" stroke="none" stroke-width="1.00" />
<path d="M520 632.5 H567.5 L603 690" fill="none" stroke="#aaa" stroke-width="0.60" />
<path d="M535 722.5 H575 L599 710" fill="none" stroke="#aaa" stroke-width="0.60" />
<text transform="translate(766.00 64.00) scale(1.100 1)" y="3.78" font-size="10.50" fill="#1c1c7c" text-anchor="middle" >Note! Incoming mains gas /</text>
<text transform="translate(766.00 77.00) scale(1.082 1)" y="3.78" font-size="10.50" fill="#1c1c7c" text-anchor="middle" >internal smart meter assumed - no</text>
<text transform="translate(766.00 90.00) scale(1.090 1)" y="3.78" font-size="10.50" fill="#1c1c7c" text-anchor="middle" >external meter box shown</text>
<text transform="translate(966.00 220.00) scale(1.116 1)" y="3.78" font-size="10.50" fill="#1c1c7c" text-anchor="start" >Note!</text>
<text transform="translate(966.00 233.00) scale(1.076 1)" y="3.78" font-size="10.50" fill="#1c1c7c" text-anchor="start" >Allow for 2no 300mm sq apertures</text>
<text transform="translate(966.00 246.00) scale(1.113 1)" y="3.78" font-size="10.50" fill="#1c1c7c" text-anchor="start" >in external wall under oak beam</text>
<text transform="translate(966.00 259.00) scale(1.039 1)" y="3.78" font-size="10.50" fill="#1c1c7c" text-anchor="start" >for MVHR ducts.</text>
<text transform="translate(962.50 391.00) scale(1.116 1)" y="3.78" font-size="10.50" fill="#1c1c7c" text-anchor="start" >Note!</text>
<text transform="translate(962.50 404.00) scale(1.071 1)" y="3.78" font-size="10.50" fill="#1c1c7c" text-anchor="start" >Detailed Utility Room</text>
<text transform="translate(962.50 417.00) scale(1.072 1)" y="3.78" font-size="10.50" fill="#1c1c7c" text-anchor="start" >layout by Wren Design</text>
<text transform="translate(1033.00 514.50) scale(1.149 1)" y="3.78" font-size="10.50" fill="#1c1c7c" text-anchor="start" >oak frame/beam over</text>
<text transform="translate(528.00 713.00) scale(1.085 1)" y="3.78" font-size="10.50" fill="#1c1c7c" text-anchor="end" >threshold drain to</text>
<text transform="translate(528.00 726.00) scale(1.109 1)" y="3.78" font-size="10.50" fill="#1c1c7c" text-anchor="end" >discharge into</text>
<text transform="translate(528.00 739.00) scale(1.145 1)" y="3.78" font-size="10.50" fill="#1c1c7c" text-anchor="end" >planting bed</text>
<text transform="translate(682.00 700.00) scale(1.107 1)" y="3.78" font-size="10.50" fill="#1c1c7c" text-anchor="middle" >accesible threshold</text>
<line x1="608.00" y1="706.50" x2="863.00" y2="706.50" stroke="#1e9fdc" stroke-width="1.50" stroke-dasharray="21 2.3 2 2.3" />
<text transform="translate(710.00 754.00) scale(1.130 1)" y="3.78" font-size="10.50" fill="#1c1c7c" text-anchor="middle" >level entrance platform</text>
<text transform="translate(710.00 766.50) scale(1.040 1)" y="3.78" font-size="10.50" fill="#1c1c7c" text-anchor="middle" >1:40 max cross fall</text>
<text transform="translate(917.00 790.50) scale(1.103 1)" y="3.78" font-size="10.50" fill="#1c1c7c" text-anchor="start" >Note! Incoming mains</text>
<text transform="translate(917.00 803.50) scale(1.108 1)" y="3.78" font-size="10.50" fill="#1c1c7c" text-anchor="start" >electric / internal smart</text>
<text transform="translate(917.00 816.50) scale(1.092 1)" y="3.78" font-size="10.50" fill="#1c1c7c" text-anchor="start" >meter assumed - no</text>
<text transform="translate(917.00 829.50) scale(1.090 1)" y="3.78" font-size="10.50" fill="#1c1c7c" text-anchor="start" >external meter box shown</text>
<text transform="translate(231.00 784.00) scale(0.925 1)" y="3.42" font-size="9.50" fill="#de2a38" text-anchor="middle" >Note!</text>
<text transform="translate(231.00 796.50) scale(1.216 1)" y="3.42" font-size="9.50" fill="#de2a38" text-anchor="middle" >Manhole positions indicative</text>
<text transform="translate(231.00 809.50) scale(1.209 1)" y="3.42" font-size="9.50" fill="#de2a38" text-anchor="middle" >only / final positions to be</text>
<text transform="translate(231.00 822.00) scale(1.215 1)" y="3.42" font-size="9.50" fill="#de2a38" text-anchor="middle" >determined on site</text>
<text transform="translate(1434.00 306.00) scale(1.138 1)" y="4.50" font-size="12.50" fill="#de2a38" text-anchor="middle" >Note!</text>
<text transform="translate(1434.00 322.50) scale(1.070 1)" y="4.50" font-size="12.50" fill="#de2a38" text-anchor="middle" >1. MVHR outlets &amp;</text>
<text transform="translate(1434.00 338.50) scale(1.151 1)" y="4.50" font-size="12.50" fill="#de2a38" text-anchor="middle" >duct positions</text>
<text transform="translate(1434.00 354.50) scale(1.184 1)" y="4.50" font-size="12.50" fill="#de2a38" text-anchor="middle" >indicative only.</text>
<text transform="translate(1434.00 371.00) scale(1.092 1)" y="4.50" font-size="12.50" fill="#de2a38" text-anchor="middle" >Final M&amp;E plans /</text>
<text transform="translate(1434.00 387.00) scale(1.108 1)" y="4.50" font-size="12.50" fill="#de2a38" text-anchor="middle" >services layouts by</text>
<text transform="translate(1434.00 403.00) scale(1.146 1)" y="4.50" font-size="12.50" fill="#de2a38" text-anchor="middle" >Alan Clarke.</text>
<text transform="translate(1434.00 435.50) scale(1.142 1)" y="4.50" font-size="12.50" fill="#de2a38" text-anchor="middle" >2. Oak frame &amp;</text>
<text transform="translate(1434.00 451.50) scale(1.169 1)" y="4.50" font-size="12.50" fill="#de2a38" text-anchor="middle" >timber frame</text>
<text transform="translate(1434.00 467.50) scale(1.172 1)" y="4.50" font-size="12.50" fill="#de2a38" text-anchor="middle" >encapsulation by</text>
<text transform="translate(1434.00 483.50) scale(1.106 1)" y="4.50" font-size="12.50" fill="#de2a38" text-anchor="middle" >Oakwrights.</text>
<text transform="translate(1434.00 515.50) scale(1.088 1)" y="4.50" font-size="12.50" fill="#de2a38" text-anchor="middle" >3. External</text>
<text transform="translate(1434.00 531.50) scale(1.116 1)" y="4.50" font-size="12.50" fill="#de2a38" text-anchor="middle" >dimensions show</text>
<text transform="translate(1434.00 547.50) scale(1.158 1)" y="4.50" font-size="12.50" fill="#de2a38" text-anchor="middle" >blockwork setting</text>
<text transform="translate(1434.00 563.50) scale(1.151 1)" y="4.50" font-size="12.50" fill="#de2a38" text-anchor="middle" >out.</text>
<text transform="translate(356.00 772.50) rotate(17.70) scale(1.207 1)" y="3.42" font-size="9.50" fill="#6f9a72" text-anchor="middle" font-style="italic" >operimeter land-drain @ 150mm below Isoquick footings</text>
<text transform="translate(19.00 968.30) scale(1.080 1)" y="18.18" font-size="50.50" fill="#12127a" text-anchor="start" stroke="#ffffff" stroke-width="1.2">Ground</text>
<text transform="translate(221.40 968.30) scale(1.035 1)" y="18.18" font-size="50.50" fill="#12127a" text-anchor="start" stroke="#ffffff" stroke-width="1.2">Floor</text>
<text transform="translate(351.80 968.30) scale(0.972 1)" y="18.18" font-size="50.50" fill="#12127a" text-anchor="start" stroke="#ffffff" stroke-width="1.2">Plan</text>
<text transform="translate(1177.80 948.00) scale(1.068 1)" y="7.99" font-size="22.20" fill="#d01a28" text-anchor="start" stroke="#ffffff" stroke-width="0.2">Work</text>
<text transform="translate(1240.50 948.00) scale(1.138 1)" y="7.99" font-size="22.20" fill="#d01a28" text-anchor="start" stroke="#ffffff" stroke-width="0.2">Stage</text>
<text transform="translate(1314.20 948.00) scale(0.885 1)" y="7.99" font-size="22.20" fill="#d01a28" text-anchor="start" stroke="#ffffff" stroke-width="0.2">K</text>
<text transform="translate(1020.50 977.50) scale(1.173 1)" y="7.99" font-size="22.20" fill="#d01a28" text-anchor="start" stroke="#ffffff" stroke-width="0.2">Construction</text>
<text transform="translate(1175.50 977.50) scale(0.974 1)" y="7.99" font-size="22.20" fill="#d01a28" text-anchor="start" stroke="#ffffff" stroke-width="0.2">Issue</text>
<text transform="translate(1235.00 977.50) scale(1.148 1)" y="7.99" font-size="22.20" fill="#d01a28" text-anchor="start" stroke="#ffffff" stroke-width="0.2">Drawing</text>
<text transform="translate(151.00 156.00) scale(1.120 1)" y="8.28" font-size="23.00" fill="#0a0a0a" text-anchor="middle" >C</text>
<polygon points="161.00,155.00 174.00,143.00 174.00,167.00" fill="#0a0a0a" stroke="none" stroke-width="1.00" />
<line x1="174.50" y1="167.00" x2="174.50" y2="253.00" stroke="#555" stroke-width="0.60" />
<text transform="translate(151.00 680.50) scale(1.120 1)" y="8.28" font-size="23.00" fill="#0a0a0a" text-anchor="middle" >C</text>
<polygon points="161.00,680.00 174.00,668.00 174.00,692.50" fill="#0a0a0a" stroke="none" stroke-width="1.00" />
<line x1="174.50" y1="585.00" x2="174.50" y2="668.00" stroke="#777" stroke-width="0.70" />
<text transform="translate(650.50 77.00)" y="8.28" font-size="23.00" fill="#0a0a0a" text-anchor="middle" >B</text>
<polygon points="629.00,65.50 641.00,77.00 629.00,89.00" fill="#0a0a0a" stroke="none" stroke-width="1.00" />
<line x1="629.50" y1="89.00" x2="629.50" y2="129.00" stroke="#555" stroke-width="0.60" />
<text transform="translate(650.50 796.00)" y="8.28" font-size="23.00" fill="#0a0a0a" text-anchor="middle" >B</text>
<polygon points="629.00,782.50 641.00,795.50 629.00,808.00" fill="#0a0a0a" stroke="none" stroke-width="1.00" />
<line x1="629.50" y1="707.00" x2="629.50" y2="783.00" stroke="#bbb" stroke-width="0.60" />
<text transform="translate(843.00 734.00) scale(1.100 1)" y="7.92" font-size="22.00" fill="#0a0a0a" text-anchor="middle" >A</text>
<polygon points="831.00,722.00 843.00,710.50 855.00,722.00" fill="#0a0a0a" stroke="none" stroke-width="1.00" />
<line x1="822.00" y1="721.50" x2="930.00" y2="721.50" stroke="#555" stroke-width="0.60" />
<text transform="translate(1274.50 734.00) scale(1.100 1)" y="7.92" font-size="22.00" fill="#0a0a0a" text-anchor="middle" >A</text>
<polygon points="1261.00,722.00 1274.50,710.50 1287.00,722.00" fill="#0a0a0a" stroke="none" stroke-width="1.00" />
<line x1="1196.00" y1="721.50" x2="1262.00" y2="721.50" stroke="#888" stroke-width="0.60" />
<rect x="530.50" y="114.00" width="17.00" height="15.00" fill="#3fe04a" stroke="none" stroke-width="0.60" />
<text transform="translate(539.00 122.00) scale(0.955 1)" y="3.96" font-size="11.00" fill="#0b6b16" text-anchor="middle" >MJ</text>
<line x1="538.50" y1="129.00" x2="538.50" y2="140.00" stroke="#2fd23a" stroke-width="2.00" />
<rect x="745.00" y="117.00" width="16.00" height="14.00" fill="#3fe04a" stroke="none" stroke-width="0.60" />
<text transform="translate(753.00 124.50) scale(0.887 1)" y="3.96" font-size="11.00" fill="#0b6b16" text-anchor="middle" >MJ</text>
<line x1="763.50" y1="130.00" x2="763.50" y2="140.00" stroke="#2fd23a" stroke-width="2.50" />
<rect x="1259.00" y="457.50" width="16.00" height="15.00" fill="#3fe04a" stroke="none" stroke-width="0.60" />
<text transform="translate(1267.00 465.50) scale(0.887 1)" y="3.96" font-size="11.00" fill="#0b6b16" text-anchor="middle" >MJ</text>
<line x1="1247.00" y1="454.00" x2="1255.00" y2="454.00" stroke="#2fd23a" stroke-width="2.00" />
<rect x="437.50" y="625.00" width="80.50" height="13.00" fill="#3fe04a" stroke="none" stroke-width="0.60" />
<text transform="translate(477.75 632.00) scale(1.107 1)" y="3.78" font-size="10.50" fill="#0b6b16" text-anchor="middle" >MJ above lintel</text>
<rect x="776.00" y="910.00" width="17.00" height="12.50" fill="#3fe04a" stroke="none" stroke-width="0.60" />
<text transform="translate(784.50 916.75) scale(0.955 1)" y="3.96" font-size="11.00" fill="#0b6b16" text-anchor="middle" >MJ</text>
<circle cx="419.00" cy="110.50" r="14.50" fill="none" stroke="#8a8ad0" stroke-width="0.60" stroke-dasharray="1 1.3"/>
<text transform="translate(419.00 104.10) scale(1.030 1)" y="3.60" font-size="10.00" fill="#1c1c7c" text-anchor="middle" stroke="#1c1c7c" stroke-width="0.2">WG</text>
<text transform="translate(419.00 117.70) scale(1.030 1)" y="3.60" font-size="10.00" fill="#1c1c7c" text-anchor="middle" stroke="#1c1c7c" stroke-width="0.2">06</text>
<circle cx="651.00" cy="110.50" r="14.50" fill="none" stroke="#8a8ad0" stroke-width="0.60" stroke-dasharray="1 1.3"/>
<text transform="translate(651.00 104.10) scale(1.030 1)" y="3.60" font-size="10.00" fill="#1c1c7c" text-anchor="middle" stroke="#1c1c7c" stroke-width="0.2">WG</text>
<text transform="translate(651.00 117.70) scale(1.030 1)" y="3.60" font-size="10.00" fill="#1c1c7c" text-anchor="middle" stroke="#1c1c7c" stroke-width="0.2">07</text>
<circle cx="1276.00" cy="290.00" r="14.50" fill="none" stroke="#8a8ad0" stroke-width="0.60" stroke-dasharray="1 1.3"/>
<text transform="translate(1276.00 283.60) scale(1.030 1)" y="3.60" font-size="10.00" fill="#1c1c7c" text-anchor="middle" stroke="#1c1c7c" stroke-width="0.2">WG</text>
<text transform="translate(1276.00 297.20) scale(1.030 1)" y="3.60" font-size="10.00" fill="#1c1c7c" text-anchor="middle" stroke="#1c1c7c" stroke-width="0.2">08</text>
<circle cx="1274.50" cy="614.00" r="14.50" fill="none" stroke="#8a8ad0" stroke-width="0.60" stroke-dasharray="1 1.3"/>
<text transform="translate(1274.50 607.60) scale(1.030 1)" y="3.60" font-size="10.00" fill="#1c1c7c" text-anchor="middle" stroke="#1c1c7c" stroke-width="0.2">WG</text>
<text transform="translate(1274.50 621.20) scale(1.030 1)" y="3.60" font-size="10.00" fill="#1c1c7c" text-anchor="middle" stroke="#1c1c7c" stroke-width="0.2">09</text>
<circle cx="80.00" cy="453.00" r="14.50" fill="none" stroke="#8a8ad0" stroke-width="0.60" stroke-dasharray="1 1.3"/>
<text transform="translate(80.00 446.60) scale(1.030 1)" y="3.60" font-size="10.00" fill="#1c1c7c" text-anchor="middle" stroke="#1c1c7c" stroke-width="0.2">WG</text>
<text transform="translate(80.00 460.20) scale(1.030 1)" y="3.60" font-size="10.00" fill="#1c1c7c" text-anchor="middle" stroke="#1c1c7c" stroke-width="0.2">05</text>
<circle cx="420.00" cy="727.50" r="14.50" fill="none" stroke="#8a8ad0" stroke-width="0.60" stroke-dasharray="1 1.3"/>
<text transform="translate(420.00 721.10) scale(1.030 1)" y="3.60" font-size="10.00" fill="#1c1c7c" text-anchor="middle" stroke="#1c1c7c" stroke-width="0.2">WG</text>
<text transform="translate(420.00 734.70) scale(1.030 1)" y="3.60" font-size="10.00" fill="#1c1c7c" text-anchor="middle" stroke="#1c1c7c" stroke-width="0.2">04</text>
<circle cx="722.00" cy="727.50" r="14.50" fill="none" stroke="#8a8ad0" stroke-width="0.60" stroke-dasharray="1 1.3"/>
<text transform="translate(722.00 721.10) scale(1.030 1)" y="3.60" font-size="10.00" fill="#1c1c7c" text-anchor="middle" stroke="#1c1c7c" stroke-width="0.2">WG</text>
<text transform="translate(722.00 734.70) scale(1.030 1)" y="3.60" font-size="10.00" fill="#1c1c7c" text-anchor="middle" stroke="#1c1c7c" stroke-width="0.2">03</text>
<circle cx="814.00" cy="727.50" r="14.50" fill="none" stroke="#8a8ad0" stroke-width="0.60" stroke-dasharray="1 1.3"/>
<text transform="translate(814.00 721.10) scale(1.030 1)" y="3.60" font-size="10.00" fill="#1c1c7c" text-anchor="middle" stroke="#1c1c7c" stroke-width="0.2">WG</text>
<text transform="translate(814.00 734.70) scale(1.030 1)" y="3.60" font-size="10.00" fill="#1c1c7c" text-anchor="middle" stroke="#1c1c7c" stroke-width="0.2">02</text>
<circle cx="1059.00" cy="797.50" r="14.50" fill="none" stroke="#8a8ad0" stroke-width="0.60" stroke-dasharray="1 1.3"/>
<text transform="translate(1059.00 791.10) scale(1.030 1)" y="3.60" font-size="10.00" fill="#1c1c7c" text-anchor="middle" stroke="#1c1c7c" stroke-width="0.2">WG</text>
<text transform="translate(1059.00 804.70) scale(1.030 1)" y="3.60" font-size="10.00" fill="#1c1c7c" text-anchor="middle" stroke="#1c1c7c" stroke-width="0.2">01</text>
<circle cx="664.00" cy="727.50" r="14.50" fill="none" stroke="#8a8ad0" stroke-width="0.60" stroke-dasharray="1 1.3"/>
<text transform="translate(664.00 721.10) scale(1.030 1)" y="3.60" font-size="10.00" fill="#1c1c7c" text-anchor="middle" stroke="#1c1c7c" stroke-width="0.2">DG</text>
<text transform="translate(664.00 734.70) scale(1.030 1)" y="3.60" font-size="10.00" fill="#1c1c7c" text-anchor="middle" stroke="#1c1c7c" stroke-width="0.2">01</text>
<circle cx="1059.00" cy="207.00" r="14.50" fill="none" stroke="#8a8ad0" stroke-width="0.60" stroke-dasharray="1 1.3"/>
<text transform="translate(1059.00 200.60) scale(1.030 1)" y="3.60" font-size="10.00" fill="#1c1c7c" text-anchor="middle" stroke="#1c1c7c" stroke-width="0.2">DG</text>
<text transform="translate(1059.00 214.20) scale(1.030 1)" y="3.60" font-size="10.00" fill="#1c1c7c" text-anchor="middle" stroke="#1c1c7c" stroke-width="0.2">02</text>
<circle cx="771.00" cy="560.50" r="14.50" fill="none" stroke="#8a8ad0" stroke-width="0.60" stroke-dasharray="1 1.3"/>
<text transform="translate(771.00 554.10) scale(1.030 1)" y="3.60" font-size="10.00" fill="#1c1c7c" text-anchor="middle" stroke="#1c1c7c" stroke-width="0.2">DG</text>
<text transform="translate(771.00 567.70) scale(1.030 1)" y="3.60" font-size="10.00" fill="#1c1c7c" text-anchor="middle" stroke="#1c1c7c" stroke-width="0.2">03</text>
<circle cx="843.00" cy="452.50" r="14.50" fill="none" stroke="#8a8ad0" stroke-width="0.60" stroke-dasharray="1 1.3"/>
<text transform="translate(843.00 446.10) scale(1.030 1)" y="3.60" font-size="10.00" fill="#1c1c7c" text-anchor="middle" stroke="#1c1c7c" stroke-width="0.2">DG</text>
<text transform="translate(843.00 459.70) scale(1.030 1)" y="3.60" font-size="10.00" fill="#1c1c7c" text-anchor="middle" stroke="#1c1c7c" stroke-width="0.2">04</text>
<circle cx="923.00" cy="289.50" r="14.50" fill="none" stroke="#8a8ad0" stroke-width="0.60" stroke-dasharray="1 1.3"/>
<text transform="translate(923.00 283.10) scale(1.030 1)" y="3.60" font-size="10.00" fill="#1c1c7c" text-anchor="middle" stroke="#1c1c7c" stroke-width="0.2">DG</text>
<text transform="translate(923.00 296.70) scale(1.030 1)" y="3.60" font-size="10.00" fill="#1c1c7c" text-anchor="middle" stroke="#1c1c7c" stroke-width="0.2">05</text>
<circle cx="575.50" cy="452.50" r="14.50" fill="none" stroke="#8a8ad0" stroke-width="0.60" stroke-dasharray="1 1.3"/>
<text transform="translate(575.50 446.10) scale(1.030 1)" y="3.60" font-size="10.00" fill="#1c1c7c" text-anchor="middle" stroke="#1c1c7c" stroke-width="0.2">DG</text>
<text transform="translate(575.50 459.70) scale(1.030 1)" y="3.60" font-size="10.00" fill="#1c1c7c" text-anchor="middle" stroke="#1c1c7c" stroke-width="0.2">06</text>
<circle cx="476.00" cy="485.50" r="14.50" fill="none" stroke="#8a8ad0" stroke-width="0.60" stroke-dasharray="1 1.3"/>
<text transform="translate(476.00 479.10) scale(1.030 1)" y="3.60" font-size="10.00" fill="#1c1c7c" text-anchor="middle" stroke="#1c1c7c" stroke-width="0.2">DG</text>
<text transform="translate(476.00 492.70) scale(1.030 1)" y="3.60" font-size="10.00" fill="#1c1c7c" text-anchor="middle" stroke="#1c1c7c" stroke-width="0.2">07</text>
<circle cx="185.50" cy="469.00" r="14.50" fill="none" stroke="#8a8ad0" stroke-width="0.60" stroke-dasharray="1 1.3"/>
<text transform="translate(185.50 462.60) scale(1.030 1)" y="3.60" font-size="10.00" fill="#1c1c7c" text-anchor="middle" stroke="#1c1c7c" stroke-width="0.2">DG</text>
<text transform="translate(185.50 476.20) scale(1.030 1)" y="3.60" font-size="10.00" fill="#1c1c7c" text-anchor="middle" stroke="#1c1c7c" stroke-width="0.2">08</text>
<circle cx="244.00" cy="376.00" r="14.50" fill="none" stroke="#8a8ad0" stroke-width="0.60" stroke-dasharray="1 1.3"/>
<text transform="translate(244.00 369.60) scale(1.030 1)" y="3.60" font-size="10.00" fill="#1c1c7c" text-anchor="middle" stroke="#1c1c7c" stroke-width="0.2">DG</text>
<text transform="translate(244.00 383.20) scale(1.030 1)" y="3.60" font-size="10.00" fill="#1c1c7c" text-anchor="middle" stroke="#1c1c7c" stroke-width="0.2">09</text>
<circle cx="334.50" cy="414.00" r="14.50" fill="none" stroke="#8a8ad0" stroke-width="0.60" stroke-dasharray="1 1.3"/>
<text transform="translate(334.50 407.60) scale(1.030 1)" y="3.60" font-size="10.00" fill="#1c1c7c" text-anchor="middle" stroke="#1c1c7c" stroke-width="0.2">DG</text>
<text transform="translate(334.50 421.20) scale(1.030 1)" y="3.60" font-size="10.00" fill="#1c1c7c" text-anchor="middle" stroke="#1c1c7c" stroke-width="0.2">10</text>
<circle cx="705.50" cy="288.00" r="14.50" fill="none" stroke="#8a8ad0" stroke-width="0.60" stroke-dasharray="1 1.3"/>
<text transform="translate(705.50 281.60) scale(1.030 1)" y="3.60" font-size="10.00" fill="#1c1c7c" text-anchor="middle" stroke="#1c1c7c" stroke-width="0.2">DG</text>
<text transform="translate(705.50 295.20) scale(1.030 1)" y="3.60" font-size="10.00" fill="#1c1c7c" text-anchor="middle" stroke="#1c1c7c" stroke-width="0.2">11</text>
<circle cx="67.00" cy="59.00" r="18.00" fill="none" stroke="#1c1c7c" stroke-width="0.90"/>
<text transform="translate(67.00 59.00) scale(1.080 1)" y="3.96" font-size="11.00" fill="#1c1c7c" text-anchor="middle" >IC06</text>
<circle cx="19.00" cy="666.00" r="17.50" fill="none" stroke="#1c1c7c" stroke-width="0.90"/>
<text transform="translate(19.00 666.00) scale(1.080 1)" y="3.96" font-size="11.00" fill="#1c1c7c" text-anchor="middle" >IC05</text>
<circle cx="140.00" cy="836.00" r="18.50" fill="none" stroke="#1c1c7c" stroke-width="0.90"/>
<text transform="translate(140.00 836.00) scale(1.080 1)" y="3.96" font-size="11.00" fill="#1c1c7c" text-anchor="middle" >IC04</text>
<circle cx="209.50" cy="99.50" r="17.00" fill="none" stroke="#7c7c7c" stroke-width="0.90"/>
<text transform="translate(209.50 99.50) scale(1.080 1)" y="3.96" font-size="11.00" fill="#7c7c7c" text-anchor="middle" >IC/03</text>
<circle cx="725.00" cy="100.00" r="17.00" fill="none" stroke="#7c7c7c" stroke-width="0.90"/>
<text transform="translate(725.00 100.00) scale(1.080 1)" y="3.96" font-size="11.00" fill="#7c7c7c" text-anchor="middle" >IC/04</text>
<circle cx="1291.00" cy="100.00" r="17.00" fill="none" stroke="#7c7c7c" stroke-width="0.90"/>
<text transform="translate(1291.00 100.00) scale(1.080 1)" y="3.96" font-size="11.00" fill="#7c7c7c" text-anchor="middle" >IC/02</text>
<circle cx="892.00" cy="836.00" r="17.00" fill="none" stroke="#7c7c7c" stroke-width="0.90"/>
<text transform="translate(892.00 836.00) scale(1.080 1)" y="3.96" font-size="11.00" fill="#7c7c7c" text-anchor="middle" >IC/01</text>
</svg>
</body></html>
